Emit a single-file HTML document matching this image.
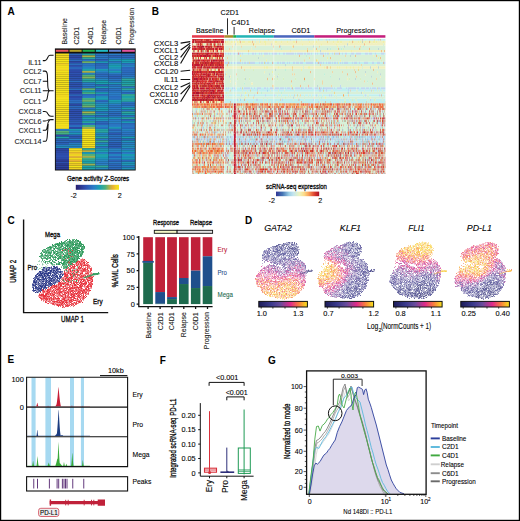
<!DOCTYPE html>
<html><head><meta charset="utf-8"><title>Figure</title><style>html,body{margin:0;padding:0;background:#fff;}svg text{font-family:"Liberation Sans",sans-serif;}</style></head><body>
<svg width="520" height="521" viewBox="0 0 520 521" font-family='"Liberation Sans", sans-serif' style="display:block">
<rect x="0" y="0" width="520" height="521" fill="#fff"/>
<text x="7.60" y="14.80" font-size="10" font-weight="bold" fill="#000">A</text>
<text x="67.20" y="44.60" font-size="7" fill="#222" textLength="26.40" lengthAdjust="spacingAndGlyphs" transform="rotate(-90 67.20 44.60)" stroke="#222" stroke-width="0.1">Baseline</text>
<text x="79.30" y="44.60" font-size="7" fill="#222" textLength="17.80" lengthAdjust="spacingAndGlyphs" transform="rotate(-90 79.30 44.60)" stroke="#222" stroke-width="0.1">C2D1</text>
<text x="92.60" y="44.60" font-size="7" fill="#222" textLength="17.80" lengthAdjust="spacingAndGlyphs" transform="rotate(-90 92.60 44.60)" stroke="#222" stroke-width="0.1">C4D1</text>
<text x="106.50" y="44.60" font-size="7" fill="#222" textLength="24.70" lengthAdjust="spacingAndGlyphs" transform="rotate(-90 106.50 44.60)" stroke="#222" stroke-width="0.1">Relapse</text>
<text x="120.80" y="44.60" font-size="7" fill="#222" textLength="17.80" lengthAdjust="spacingAndGlyphs" transform="rotate(-90 120.80 44.60)" stroke="#222" stroke-width="0.1">C6D1</text>
<text x="133.80" y="44.60" font-size="7" fill="#222" textLength="36.80" lengthAdjust="spacingAndGlyphs" transform="rotate(-90 133.80 44.60)" stroke="#222" stroke-width="0.1">Progression</text>
<rect x="54.9" y="48.4" width="80.80" height="122.10" fill="#111"/>
<rect x="55.80" y="49.8" width="12.67" height="2.0" fill="#e8555e"/>
<rect x="69.47" y="49.8" width="12.17" height="2.0" fill="#b4a02a"/>
<rect x="82.63" y="49.8" width="12.17" height="2.0" fill="#1eae52"/>
<rect x="95.80" y="49.8" width="12.17" height="2.0" fill="#22bcc6"/>
<rect x="108.97" y="49.8" width="12.17" height="2.0" fill="#6484d2"/>
<rect x="122.13" y="49.8" width="12.67" height="2.0" fill="#e2559e"/>
<rect x="55.80" y="53.50" width="13.22" height="1.98" fill="#f3df1d"/>
<rect x="68.97" y="53.50" width="13.22" height="1.98" fill="#2c66bc"/>
<rect x="82.13" y="53.50" width="13.22" height="1.98" fill="#24a4a5"/>
<rect x="95.30" y="53.50" width="13.22" height="1.98" fill="#2b74c3"/>
<rect x="108.47" y="53.50" width="13.22" height="1.98" fill="#2a7ec8"/>
<rect x="121.63" y="53.50" width="13.22" height="1.98" fill="#2b70c1"/>
<rect x="55.80" y="55.43" width="13.22" height="1.98" fill="#f2d722"/>
<rect x="68.97" y="55.43" width="13.22" height="1.98" fill="#2d47a5"/>
<rect x="82.13" y="55.43" width="13.22" height="1.98" fill="#acb04a"/>
<rect x="95.30" y="55.43" width="13.22" height="1.98" fill="#2b77c5"/>
<rect x="108.47" y="55.43" width="13.22" height="1.98" fill="#2c62ba"/>
<rect x="121.63" y="55.43" width="13.22" height="1.98" fill="#2c68bd"/>
<rect x="55.80" y="57.37" width="13.22" height="1.98" fill="#f3dc1f"/>
<rect x="68.97" y="57.37" width="13.22" height="1.98" fill="#2e4eaf"/>
<rect x="82.13" y="57.37" width="13.22" height="1.98" fill="#2da79c"/>
<rect x="95.30" y="57.37" width="13.22" height="1.98" fill="#2a78c5"/>
<rect x="108.47" y="57.37" width="13.22" height="1.98" fill="#2a79c6"/>
<rect x="121.63" y="57.37" width="13.22" height="1.98" fill="#2b70c1"/>
<rect x="55.80" y="59.30" width="13.22" height="1.98" fill="#f4e41a"/>
<rect x="68.97" y="59.30" width="13.22" height="1.98" fill="#2c6abe"/>
<rect x="82.13" y="59.30" width="13.22" height="1.98" fill="#2b75c4"/>
<rect x="95.30" y="59.30" width="13.22" height="1.98" fill="#2c64bb"/>
<rect x="108.47" y="59.30" width="13.22" height="1.98" fill="#1f96b7"/>
<rect x="121.63" y="59.30" width="13.22" height="1.98" fill="#1a9fb1"/>
<rect x="55.80" y="61.23" width="13.22" height="1.98" fill="#f4e21b"/>
<rect x="68.97" y="61.23" width="13.22" height="1.98" fill="#2e4aa9"/>
<rect x="82.13" y="61.23" width="13.22" height="1.98" fill="#6eb06c"/>
<rect x="95.30" y="61.23" width="13.22" height="1.98" fill="#1f96b7"/>
<rect x="108.47" y="61.23" width="13.22" height="1.98" fill="#2b78c5"/>
<rect x="121.63" y="61.23" width="13.22" height="1.98" fill="#1c9bb3"/>
<rect x="55.80" y="63.17" width="13.22" height="1.98" fill="#f1d126"/>
<rect x="68.97" y="63.17" width="13.22" height="1.98" fill="#2c6bbe"/>
<rect x="82.13" y="63.17" width="13.22" height="1.98" fill="#2b76c4"/>
<rect x="95.30" y="63.17" width="13.22" height="1.98" fill="#2c64bb"/>
<rect x="108.47" y="63.17" width="13.22" height="1.98" fill="#2191ba"/>
<rect x="121.63" y="63.17" width="13.22" height="1.98" fill="#2b75c4"/>
<rect x="55.80" y="65.10" width="13.22" height="1.98" fill="#f4e11c"/>
<rect x="68.97" y="65.10" width="13.22" height="1.98" fill="#2e52b1"/>
<rect x="82.13" y="65.10" width="13.22" height="1.98" fill="#2a7ac6"/>
<rect x="95.30" y="65.10" width="13.22" height="1.98" fill="#2c6bbe"/>
<rect x="108.47" y="65.10" width="13.22" height="1.98" fill="#1b9fb1"/>
<rect x="121.63" y="65.10" width="13.22" height="1.98" fill="#2784c4"/>
<rect x="55.80" y="67.03" width="13.22" height="1.98" fill="#f3de1e"/>
<rect x="68.97" y="67.03" width="13.22" height="1.98" fill="#2c69bd"/>
<rect x="82.13" y="67.03" width="13.22" height="1.98" fill="#2588c1"/>
<rect x="95.30" y="67.03" width="13.22" height="1.98" fill="#2c6bbe"/>
<rect x="108.47" y="67.03" width="13.22" height="1.98" fill="#1f95b8"/>
<rect x="121.63" y="67.03" width="13.22" height="1.98" fill="#2c69bd"/>
<rect x="55.80" y="68.97" width="13.22" height="1.98" fill="#f2d524"/>
<rect x="68.97" y="68.97" width="13.22" height="1.98" fill="#2e51b1"/>
<rect x="82.13" y="68.97" width="13.22" height="1.98" fill="#1fa2aa"/>
<rect x="95.30" y="68.97" width="13.22" height="1.98" fill="#1e98b6"/>
<rect x="108.47" y="68.97" width="13.22" height="1.98" fill="#2981c6"/>
<rect x="121.63" y="68.97" width="13.22" height="1.98" fill="#2c6cbf"/>
<rect x="55.80" y="70.90" width="13.22" height="1.98" fill="#f4e21b"/>
<rect x="68.97" y="70.90" width="13.22" height="1.98" fill="#2e49a9"/>
<rect x="82.13" y="70.90" width="13.22" height="1.98" fill="#a9b04c"/>
<rect x="95.30" y="70.90" width="13.22" height="1.98" fill="#2784c4"/>
<rect x="108.47" y="70.90" width="13.22" height="1.98" fill="#1d9ab4"/>
<rect x="121.63" y="70.90" width="13.22" height="1.98" fill="#2c6abe"/>
<rect x="55.80" y="72.83" width="13.22" height="1.98" fill="#f3d821"/>
<rect x="68.97" y="72.83" width="13.22" height="1.98" fill="#2e53b2"/>
<rect x="82.13" y="72.83" width="13.22" height="1.98" fill="#2784c4"/>
<rect x="95.30" y="72.83" width="13.22" height="1.98" fill="#2c6cbf"/>
<rect x="108.47" y="72.83" width="13.22" height="1.98" fill="#2a7bc7"/>
<rect x="121.63" y="72.83" width="13.22" height="1.98" fill="#2b6ec0"/>
<rect x="55.80" y="74.77" width="13.22" height="1.98" fill="#f4e21b"/>
<rect x="68.97" y="74.77" width="13.22" height="1.98" fill="#2e4bab"/>
<rect x="82.13" y="74.77" width="13.22" height="1.98" fill="#4db07d"/>
<rect x="95.30" y="74.77" width="13.22" height="1.98" fill="#2c6bbe"/>
<rect x="108.47" y="74.77" width="13.22" height="1.98" fill="#2c64bb"/>
<rect x="121.63" y="74.77" width="13.22" height="1.98" fill="#2b73c2"/>
<rect x="55.80" y="76.70" width="13.22" height="1.98" fill="#f3db20"/>
<rect x="68.97" y="76.70" width="13.22" height="1.98" fill="#2d56b4"/>
<rect x="82.13" y="76.70" width="13.22" height="1.98" fill="#85b05f"/>
<rect x="95.30" y="76.70" width="13.22" height="1.98" fill="#2b76c4"/>
<rect x="108.47" y="76.70" width="13.22" height="1.98" fill="#2c63ba"/>
<rect x="121.63" y="76.70" width="13.22" height="1.98" fill="#2785c3"/>
<rect x="55.80" y="78.63" width="13.22" height="1.98" fill="#f4e41a"/>
<rect x="68.97" y="78.63" width="13.22" height="1.98" fill="#2e52b1"/>
<rect x="82.13" y="78.63" width="13.22" height="1.98" fill="#29a5a0"/>
<rect x="95.30" y="78.63" width="13.22" height="1.98" fill="#2686c2"/>
<rect x="108.47" y="78.63" width="13.22" height="1.98" fill="#2b75c3"/>
<rect x="121.63" y="78.63" width="13.22" height="1.98" fill="#2fa79b"/>
<rect x="55.80" y="80.57" width="13.22" height="1.98" fill="#f4e11c"/>
<rect x="68.97" y="80.57" width="13.22" height="1.98" fill="#2b6ec0"/>
<rect x="82.13" y="80.57" width="13.22" height="1.98" fill="#28a5a2"/>
<rect x="95.30" y="80.57" width="13.22" height="1.98" fill="#1aa0b0"/>
<rect x="108.47" y="80.57" width="13.22" height="1.98" fill="#2a7ec8"/>
<rect x="121.63" y="80.57" width="13.22" height="1.98" fill="#21a2a9"/>
<rect x="55.80" y="82.50" width="13.22" height="1.98" fill="#f3de1e"/>
<rect x="68.97" y="82.50" width="13.22" height="1.98" fill="#2e51b1"/>
<rect x="82.13" y="82.50" width="13.22" height="1.98" fill="#2a7fc7"/>
<rect x="95.30" y="82.50" width="13.22" height="1.98" fill="#1aa0b0"/>
<rect x="108.47" y="82.50" width="13.22" height="1.98" fill="#1f96b7"/>
<rect x="121.63" y="82.50" width="13.22" height="1.98" fill="#21a2a9"/>
<rect x="55.80" y="84.43" width="13.22" height="1.98" fill="#f4e21b"/>
<rect x="68.97" y="84.43" width="13.22" height="1.98" fill="#2e54b2"/>
<rect x="82.13" y="84.43" width="13.22" height="1.98" fill="#2a7ec8"/>
<rect x="95.30" y="84.43" width="13.22" height="1.98" fill="#2c6abe"/>
<rect x="108.47" y="84.43" width="13.22" height="1.98" fill="#2b73c3"/>
<rect x="121.63" y="84.43" width="13.22" height="1.98" fill="#2fa79a"/>
<rect x="55.80" y="86.37" width="13.22" height="1.98" fill="#f3da20"/>
<rect x="68.97" y="86.37" width="13.22" height="1.98" fill="#2e52b2"/>
<rect x="82.13" y="86.37" width="13.22" height="1.98" fill="#2b74c3"/>
<rect x="95.30" y="86.37" width="13.22" height="1.98" fill="#1c9cb3"/>
<rect x="108.47" y="86.37" width="13.22" height="1.98" fill="#2882c5"/>
<rect x="121.63" y="86.37" width="13.22" height="1.98" fill="#2a7cc7"/>
<rect x="55.80" y="88.30" width="13.22" height="1.98" fill="#f3de1e"/>
<rect x="68.97" y="88.30" width="13.22" height="1.98" fill="#2b6ec0"/>
<rect x="82.13" y="88.30" width="13.22" height="1.98" fill="#63b071"/>
<rect x="95.30" y="88.30" width="13.22" height="1.98" fill="#2b6dbf"/>
<rect x="108.47" y="88.30" width="13.22" height="1.98" fill="#2b73c3"/>
<rect x="121.63" y="88.30" width="13.22" height="1.98" fill="#2ca69d"/>
<rect x="55.80" y="90.23" width="13.22" height="1.98" fill="#f4e31a"/>
<rect x="68.97" y="90.23" width="13.22" height="1.98" fill="#2e49a8"/>
<rect x="82.13" y="90.23" width="13.22" height="1.98" fill="#1a9fb0"/>
<rect x="95.30" y="90.23" width="13.22" height="1.98" fill="#2b70c1"/>
<rect x="108.47" y="90.23" width="13.22" height="1.98" fill="#2b73c2"/>
<rect x="121.63" y="90.23" width="13.22" height="1.98" fill="#2883c5"/>
<rect x="55.80" y="92.17" width="13.22" height="1.98" fill="#f3de1e"/>
<rect x="68.97" y="92.17" width="13.22" height="1.98" fill="#2d47a5"/>
<rect x="82.13" y="92.17" width="13.22" height="1.98" fill="#43ae86"/>
<rect x="95.30" y="92.17" width="13.22" height="1.98" fill="#1d9ab4"/>
<rect x="108.47" y="92.17" width="13.22" height="1.98" fill="#2a7ec8"/>
<rect x="121.63" y="92.17" width="13.22" height="1.98" fill="#2c6bbe"/>
<rect x="55.80" y="94.10" width="13.22" height="1.98" fill="#f3da20"/>
<rect x="68.97" y="94.10" width="13.22" height="1.98" fill="#2c62b9"/>
<rect x="82.13" y="94.10" width="13.22" height="1.98" fill="#2b71c1"/>
<rect x="95.30" y="94.10" width="13.22" height="1.98" fill="#2b72c2"/>
<rect x="108.47" y="94.10" width="13.22" height="1.98" fill="#2a79c5"/>
<rect x="121.63" y="94.10" width="13.22" height="1.98" fill="#31a898"/>
<rect x="55.80" y="96.03" width="13.22" height="1.98" fill="#f3dc1f"/>
<rect x="68.97" y="96.03" width="13.22" height="1.98" fill="#2e49a8"/>
<rect x="82.13" y="96.03" width="13.22" height="1.98" fill="#2a7bc6"/>
<rect x="95.30" y="96.03" width="13.22" height="1.98" fill="#2191ba"/>
<rect x="108.47" y="96.03" width="13.22" height="1.98" fill="#2b6ec0"/>
<rect x="121.63" y="96.03" width="13.22" height="1.98" fill="#1ea2ab"/>
<rect x="55.80" y="97.97" width="13.22" height="1.98" fill="#f4e11c"/>
<rect x="68.97" y="97.97" width="13.22" height="1.98" fill="#2e54b3"/>
<rect x="82.13" y="97.97" width="13.22" height="1.98" fill="#45af84"/>
<rect x="95.30" y="97.97" width="13.22" height="1.98" fill="#1c9db2"/>
<rect x="108.47" y="97.97" width="13.22" height="1.98" fill="#2b72c2"/>
<rect x="121.63" y="97.97" width="13.22" height="1.98" fill="#2fa79a"/>
<rect x="55.80" y="99.90" width="13.22" height="1.98" fill="#f3e01d"/>
<rect x="68.97" y="99.90" width="13.22" height="1.98" fill="#2c6cbf"/>
<rect x="82.13" y="99.90" width="13.22" height="1.98" fill="#6db06c"/>
<rect x="95.30" y="99.90" width="13.22" height="1.98" fill="#2c69bd"/>
<rect x="108.47" y="99.90" width="13.22" height="1.98" fill="#1b9fb1"/>
<rect x="121.63" y="99.90" width="13.22" height="1.98" fill="#27a4a3"/>
<rect x="55.80" y="101.83" width="13.22" height="1.98" fill="#f4e31b"/>
<rect x="68.97" y="101.83" width="13.22" height="1.98" fill="#2b6fc1"/>
<rect x="82.13" y="101.83" width="13.22" height="1.98" fill="#2ba69e"/>
<rect x="95.30" y="101.83" width="13.22" height="1.98" fill="#2882c5"/>
<rect x="108.47" y="101.83" width="13.22" height="1.98" fill="#1f95b8"/>
<rect x="121.63" y="101.83" width="13.22" height="1.98" fill="#2b75c3"/>
<rect x="55.80" y="103.77" width="13.22" height="1.98" fill="#f4e21b"/>
<rect x="68.97" y="103.77" width="13.22" height="1.98" fill="#2d47a5"/>
<rect x="82.13" y="103.77" width="13.22" height="1.98" fill="#44ae85"/>
<rect x="95.30" y="103.77" width="13.22" height="1.98" fill="#2191ba"/>
<rect x="108.47" y="103.77" width="13.22" height="1.98" fill="#2a7ec8"/>
<rect x="121.63" y="103.77" width="13.22" height="1.98" fill="#2c6bbe"/>
<rect x="55.80" y="105.70" width="13.22" height="1.98" fill="#f4e11c"/>
<rect x="68.97" y="105.70" width="13.22" height="1.98" fill="#2c6abe"/>
<rect x="82.13" y="105.70" width="13.22" height="1.98" fill="#71b06a"/>
<rect x="95.30" y="105.70" width="13.22" height="1.98" fill="#228fbc"/>
<rect x="108.47" y="105.70" width="13.22" height="1.98" fill="#2b74c3"/>
<rect x="121.63" y="105.70" width="13.22" height="1.98" fill="#2a7fc8"/>
<rect x="55.80" y="107.63" width="13.22" height="1.98" fill="#f3df1d"/>
<rect x="68.97" y="107.63" width="13.22" height="1.98" fill="#2c68bd"/>
<rect x="82.13" y="107.63" width="13.22" height="1.98" fill="#2a79c5"/>
<rect x="95.30" y="107.63" width="13.22" height="1.98" fill="#1ba0af"/>
<rect x="108.47" y="107.63" width="13.22" height="1.98" fill="#2980c7"/>
<rect x="121.63" y="107.63" width="13.22" height="1.98" fill="#1fa2ab"/>
<rect x="55.80" y="109.57" width="13.22" height="1.98" fill="#f3dc1f"/>
<rect x="68.97" y="109.57" width="13.22" height="1.98" fill="#2e4fb0"/>
<rect x="82.13" y="109.57" width="13.22" height="1.98" fill="#1d99b5"/>
<rect x="95.30" y="109.57" width="13.22" height="1.98" fill="#1e98b5"/>
<rect x="108.47" y="109.57" width="13.22" height="1.98" fill="#2a7ec8"/>
<rect x="121.63" y="109.57" width="13.22" height="1.98" fill="#2b77c4"/>
<rect x="55.80" y="111.50" width="13.22" height="1.98" fill="#f3da20"/>
<rect x="68.97" y="111.50" width="13.22" height="1.98" fill="#2e4dae"/>
<rect x="82.13" y="111.50" width="13.22" height="1.98" fill="#a6b04d"/>
<rect x="95.30" y="111.50" width="13.22" height="1.98" fill="#2b72c2"/>
<rect x="108.47" y="111.50" width="13.22" height="1.98" fill="#2b71c1"/>
<rect x="121.63" y="111.50" width="13.22" height="1.98" fill="#2fa79b"/>
<rect x="55.80" y="113.43" width="13.22" height="1.98" fill="#f3dd1e"/>
<rect x="68.97" y="113.43" width="13.22" height="1.98" fill="#2e51b1"/>
<rect x="82.13" y="113.43" width="13.22" height="1.98" fill="#46af82"/>
<rect x="95.30" y="113.43" width="13.22" height="1.98" fill="#228ebd"/>
<rect x="108.47" y="113.43" width="13.22" height="1.98" fill="#2c6abe"/>
<rect x="121.63" y="113.43" width="13.22" height="1.98" fill="#1b9db2"/>
<rect x="55.80" y="115.37" width="13.22" height="1.98" fill="#f4e01c"/>
<rect x="68.97" y="115.37" width="13.22" height="1.98" fill="#2e53b2"/>
<rect x="82.13" y="115.37" width="13.22" height="1.98" fill="#2a7cc7"/>
<rect x="95.30" y="115.37" width="13.22" height="1.98" fill="#2c69bd"/>
<rect x="108.47" y="115.37" width="13.22" height="1.98" fill="#2b71c1"/>
<rect x="121.63" y="115.37" width="13.22" height="1.98" fill="#2b74c3"/>
<rect x="55.80" y="117.30" width="13.22" height="1.98" fill="#f3db1f"/>
<rect x="68.97" y="117.30" width="13.22" height="1.98" fill="#2e51b1"/>
<rect x="82.13" y="117.30" width="13.22" height="1.98" fill="#22a3a8"/>
<rect x="95.30" y="117.30" width="13.22" height="1.98" fill="#1d9ab4"/>
<rect x="108.47" y="117.30" width="13.22" height="1.98" fill="#2093b9"/>
<rect x="121.63" y="117.30" width="13.22" height="1.98" fill="#2ba69f"/>
<rect x="55.80" y="119.23" width="13.22" height="1.98" fill="#f3dd1e"/>
<rect x="68.97" y="119.23" width="13.22" height="1.98" fill="#2d57b4"/>
<rect x="82.13" y="119.23" width="13.22" height="1.98" fill="#2588c1"/>
<rect x="95.30" y="119.23" width="13.22" height="1.98" fill="#2190bb"/>
<rect x="108.47" y="119.23" width="13.22" height="1.98" fill="#2a7bc7"/>
<rect x="121.63" y="119.23" width="13.22" height="1.98" fill="#2c6abe"/>
<rect x="55.80" y="121.17" width="13.22" height="1.98" fill="#f3de1e"/>
<rect x="68.97" y="121.17" width="13.22" height="1.98" fill="#2d5fb8"/>
<rect x="82.13" y="121.17" width="13.22" height="1.98" fill="#28a5a2"/>
<rect x="95.30" y="121.17" width="13.22" height="1.98" fill="#2c69bd"/>
<rect x="108.47" y="121.17" width="13.22" height="1.98" fill="#2882c5"/>
<rect x="121.63" y="121.17" width="13.22" height="1.98" fill="#1e97b7"/>
<rect x="55.80" y="123.10" width="13.22" height="1.98" fill="#f4e21c"/>
<rect x="68.97" y="123.10" width="13.22" height="1.98" fill="#2e52b2"/>
<rect x="82.13" y="123.10" width="13.22" height="1.98" fill="#2b72c2"/>
<rect x="95.30" y="123.10" width="13.22" height="1.98" fill="#2c63ba"/>
<rect x="108.47" y="123.10" width="13.22" height="1.98" fill="#2b74c3"/>
<rect x="121.63" y="123.10" width="13.22" height="1.98" fill="#2c6bbe"/>
<rect x="55.80" y="125.03" width="13.22" height="1.98" fill="#f3dc1f"/>
<rect x="68.97" y="125.03" width="13.22" height="1.98" fill="#2b70c1"/>
<rect x="82.13" y="125.03" width="13.22" height="1.98" fill="#45af83"/>
<rect x="95.30" y="125.03" width="13.22" height="1.98" fill="#2784c4"/>
<rect x="108.47" y="125.03" width="13.22" height="1.98" fill="#2a7dc7"/>
<rect x="121.63" y="125.03" width="13.22" height="1.98" fill="#2b76c4"/>
<rect x="55.80" y="126.97" width="13.22" height="1.98" fill="#f3de1e"/>
<rect x="68.97" y="126.97" width="13.22" height="1.98" fill="#2d46a4"/>
<rect x="82.13" y="126.97" width="13.22" height="1.98" fill="#9db052"/>
<rect x="95.30" y="126.97" width="13.22" height="1.98" fill="#2b72c2"/>
<rect x="108.47" y="126.97" width="13.22" height="1.98" fill="#1f96b7"/>
<rect x="121.63" y="126.97" width="13.22" height="1.98" fill="#2c6cbf"/>
<rect x="55.80" y="128.90" width="13.22" height="1.98" fill="#2a7ac6"/>
<rect x="68.97" y="128.90" width="13.22" height="1.98" fill="#1e98b5"/>
<rect x="82.13" y="128.90" width="13.22" height="1.98" fill="#f3e01d"/>
<rect x="95.30" y="128.90" width="13.22" height="1.98" fill="#23a3a7"/>
<rect x="108.47" y="128.90" width="13.22" height="1.98" fill="#2c66bc"/>
<rect x="121.63" y="128.90" width="13.22" height="1.98" fill="#2686c2"/>
<rect x="55.80" y="130.83" width="13.22" height="1.98" fill="#57b078"/>
<rect x="68.97" y="130.83" width="13.22" height="1.98" fill="#2883c5"/>
<rect x="82.13" y="130.83" width="13.22" height="1.98" fill="#f4e31b"/>
<rect x="95.30" y="130.83" width="13.22" height="1.98" fill="#29a5a0"/>
<rect x="108.47" y="130.83" width="13.22" height="1.98" fill="#2b77c4"/>
<rect x="121.63" y="130.83" width="13.22" height="1.98" fill="#2a7ac6"/>
<rect x="55.80" y="132.77" width="13.22" height="1.98" fill="#42ae86"/>
<rect x="68.97" y="132.77" width="13.22" height="1.98" fill="#1e97b6"/>
<rect x="82.13" y="132.77" width="13.22" height="1.98" fill="#f4e11c"/>
<rect x="95.30" y="132.77" width="13.22" height="1.98" fill="#2686c2"/>
<rect x="108.47" y="132.77" width="13.22" height="1.98" fill="#2d59b5"/>
<rect x="121.63" y="132.77" width="13.22" height="1.98" fill="#2b76c4"/>
<rect x="55.80" y="134.70" width="13.22" height="1.98" fill="#2e4baa"/>
<rect x="68.97" y="134.70" width="13.22" height="1.98" fill="#2c61b9"/>
<rect x="82.13" y="134.70" width="13.22" height="1.98" fill="#f3df1d"/>
<rect x="95.30" y="134.70" width="13.22" height="1.98" fill="#238cbe"/>
<rect x="108.47" y="134.70" width="13.22" height="1.98" fill="#2b71c1"/>
<rect x="121.63" y="134.70" width="13.22" height="1.98" fill="#2b76c4"/>
<rect x="55.80" y="136.63" width="13.22" height="1.98" fill="#21a3a8"/>
<rect x="68.97" y="136.63" width="13.22" height="1.98" fill="#2d58b5"/>
<rect x="82.13" y="136.63" width="13.22" height="1.98" fill="#f4e41a"/>
<rect x="95.30" y="136.63" width="13.22" height="1.98" fill="#26a4a3"/>
<rect x="108.47" y="136.63" width="13.22" height="1.98" fill="#2b74c3"/>
<rect x="121.63" y="136.63" width="13.22" height="1.98" fill="#1b9fb1"/>
<rect x="55.80" y="138.57" width="13.22" height="1.98" fill="#2d60b9"/>
<rect x="68.97" y="138.57" width="13.22" height="1.98" fill="#2883c5"/>
<rect x="82.13" y="138.57" width="13.22" height="1.98" fill="#f3dc1f"/>
<rect x="95.30" y="138.57" width="13.22" height="1.98" fill="#2a79c6"/>
<rect x="108.47" y="138.57" width="13.22" height="1.98" fill="#2c65bb"/>
<rect x="121.63" y="138.57" width="13.22" height="1.98" fill="#2c68bd"/>
<rect x="55.80" y="140.50" width="13.22" height="1.98" fill="#2c6abe"/>
<rect x="68.97" y="140.50" width="13.22" height="1.98" fill="#2d5cb7"/>
<rect x="82.13" y="140.50" width="13.22" height="1.98" fill="#f4e41a"/>
<rect x="95.30" y="140.50" width="13.22" height="1.98" fill="#33a996"/>
<rect x="108.47" y="140.50" width="13.22" height="1.98" fill="#2b70c1"/>
<rect x="121.63" y="140.50" width="13.22" height="1.98" fill="#2094b9"/>
<rect x="55.80" y="142.43" width="13.22" height="1.98" fill="#2d5fb8"/>
<rect x="68.97" y="142.43" width="13.22" height="1.98" fill="#2a7bc6"/>
<rect x="82.13" y="142.43" width="13.22" height="1.98" fill="#f4e31b"/>
<rect x="95.30" y="142.43" width="13.22" height="1.98" fill="#2980c7"/>
<rect x="108.47" y="142.43" width="13.22" height="1.98" fill="#2d5db7"/>
<rect x="121.63" y="142.43" width="13.22" height="1.98" fill="#2a7fc7"/>
<rect x="55.80" y="144.37" width="13.22" height="1.98" fill="#2a7dc8"/>
<rect x="68.97" y="144.37" width="13.22" height="1.98" fill="#2589c0"/>
<rect x="82.13" y="144.37" width="13.22" height="1.98" fill="#f3de1e"/>
<rect x="95.30" y="144.37" width="13.22" height="1.98" fill="#1b9eb1"/>
<rect x="108.47" y="144.37" width="13.22" height="1.98" fill="#2c61b9"/>
<rect x="121.63" y="144.37" width="13.22" height="1.98" fill="#2589c0"/>
<rect x="55.80" y="146.30" width="13.22" height="1.98" fill="#228fbc"/>
<rect x="68.97" y="146.30" width="13.22" height="1.98" fill="#2784c3"/>
<rect x="82.13" y="146.30" width="13.22" height="1.98" fill="#f2d622"/>
<rect x="95.30" y="146.30" width="13.22" height="1.98" fill="#2b76c4"/>
<rect x="108.47" y="146.30" width="13.22" height="1.98" fill="#2d5cb7"/>
<rect x="121.63" y="146.30" width="13.22" height="1.98" fill="#2290bb"/>
<rect x="55.80" y="148.23" width="13.22" height="1.98" fill="#2d45a2"/>
<rect x="68.97" y="148.23" width="13.22" height="1.98" fill="#f3df1d"/>
<rect x="82.13" y="148.23" width="13.22" height="1.98" fill="#32a897"/>
<rect x="95.30" y="148.23" width="13.22" height="1.98" fill="#1f95b8"/>
<rect x="108.47" y="148.23" width="13.22" height="1.98" fill="#2882c5"/>
<rect x="121.63" y="148.23" width="13.22" height="1.98" fill="#2a7bc6"/>
<rect x="55.80" y="150.17" width="13.22" height="1.98" fill="#2d48a6"/>
<rect x="68.97" y="150.17" width="13.22" height="1.98" fill="#f2d623"/>
<rect x="82.13" y="150.17" width="13.22" height="1.98" fill="#b6b046"/>
<rect x="95.30" y="150.17" width="13.22" height="1.98" fill="#1ca1ae"/>
<rect x="108.47" y="150.17" width="13.22" height="1.98" fill="#2785c3"/>
<rect x="121.63" y="150.17" width="13.22" height="1.98" fill="#2094b8"/>
<rect x="55.80" y="152.10" width="13.22" height="1.98" fill="#2e4cab"/>
<rect x="68.97" y="152.10" width="13.22" height="1.98" fill="#edbf2d"/>
<rect x="82.13" y="152.10" width="13.22" height="1.98" fill="#1d99b5"/>
<rect x="95.30" y="152.10" width="13.22" height="1.98" fill="#2784c4"/>
<rect x="108.47" y="152.10" width="13.22" height="1.98" fill="#2c62ba"/>
<rect x="121.63" y="152.10" width="13.22" height="1.98" fill="#2a7cc7"/>
<rect x="55.80" y="154.03" width="13.22" height="1.98" fill="#2e4eae"/>
<rect x="68.97" y="154.03" width="13.22" height="1.98" fill="#f2d722"/>
<rect x="82.13" y="154.03" width="13.22" height="1.98" fill="#58b077"/>
<rect x="95.30" y="154.03" width="13.22" height="1.98" fill="#1fa2ab"/>
<rect x="108.47" y="154.03" width="13.22" height="1.98" fill="#2686c3"/>
<rect x="121.63" y="154.03" width="13.22" height="1.98" fill="#1b9db2"/>
<rect x="55.80" y="155.97" width="13.22" height="1.98" fill="#2e50b0"/>
<rect x="68.97" y="155.97" width="13.22" height="1.98" fill="#e2b037"/>
<rect x="82.13" y="155.97" width="13.22" height="1.98" fill="#9cb053"/>
<rect x="95.30" y="155.97" width="13.22" height="1.98" fill="#1b9eb1"/>
<rect x="108.47" y="155.97" width="13.22" height="1.98" fill="#2c68bd"/>
<rect x="121.63" y="155.97" width="13.22" height="1.98" fill="#248bbf"/>
<rect x="55.80" y="157.90" width="13.22" height="1.98" fill="#2e4aaa"/>
<rect x="68.97" y="157.90" width="13.22" height="1.98" fill="#f3dd1e"/>
<rect x="82.13" y="157.90" width="13.22" height="1.98" fill="#3fad8a"/>
<rect x="95.30" y="157.90" width="13.22" height="1.98" fill="#2092ba"/>
<rect x="108.47" y="157.90" width="13.22" height="1.98" fill="#2882c5"/>
<rect x="121.63" y="157.90" width="13.22" height="1.98" fill="#1e98b6"/>
<rect x="55.80" y="159.83" width="13.22" height="1.98" fill="#2c3a94"/>
<rect x="68.97" y="159.83" width="13.22" height="1.98" fill="#eab134"/>
<rect x="82.13" y="159.83" width="13.22" height="1.98" fill="#23a3a7"/>
<rect x="95.30" y="159.83" width="13.22" height="1.98" fill="#2785c3"/>
<rect x="108.47" y="159.83" width="13.22" height="1.98" fill="#2d60b9"/>
<rect x="121.63" y="159.83" width="13.22" height="1.98" fill="#2c67bc"/>
<rect x="55.80" y="161.77" width="13.22" height="1.98" fill="#2e4eae"/>
<rect x="68.97" y="161.77" width="13.22" height="1.98" fill="#f3dd1e"/>
<rect x="82.13" y="161.77" width="13.22" height="1.98" fill="#1da1ad"/>
<rect x="95.30" y="161.77" width="13.22" height="1.98" fill="#2a7ec8"/>
<rect x="108.47" y="161.77" width="13.22" height="1.98" fill="#2a7bc6"/>
<rect x="121.63" y="161.77" width="13.22" height="1.98" fill="#1f95b7"/>
<rect x="55.80" y="163.70" width="13.22" height="1.98" fill="#2c3b95"/>
<rect x="68.97" y="163.70" width="13.22" height="1.98" fill="#efc72a"/>
<rect x="82.13" y="163.70" width="13.22" height="1.98" fill="#9ab054"/>
<rect x="95.30" y="163.70" width="13.22" height="1.98" fill="#2981c6"/>
<rect x="108.47" y="163.70" width="13.22" height="1.98" fill="#2c67bc"/>
<rect x="121.63" y="163.70" width="13.22" height="1.98" fill="#2094b9"/>
<rect x="55.80" y="165.63" width="13.22" height="1.98" fill="#2d44a1"/>
<rect x="68.97" y="165.63" width="13.22" height="1.98" fill="#f4e41a"/>
<rect x="82.13" y="165.63" width="13.22" height="1.98" fill="#20a2aa"/>
<rect x="95.30" y="165.63" width="13.22" height="1.98" fill="#2fa79a"/>
<rect x="108.47" y="165.63" width="13.22" height="1.98" fill="#2b6ec0"/>
<rect x="121.63" y="165.63" width="13.22" height="1.98" fill="#2b77c5"/>
<rect x="55.80" y="167.57" width="13.22" height="1.98" fill="#2c3c96"/>
<rect x="68.97" y="167.57" width="13.22" height="1.98" fill="#f2d225"/>
<rect x="82.13" y="167.57" width="13.22" height="1.98" fill="#20a2a9"/>
<rect x="95.30" y="167.57" width="13.22" height="1.98" fill="#2589c0"/>
<rect x="108.47" y="167.57" width="13.22" height="1.98" fill="#2c69bd"/>
<rect x="121.63" y="167.57" width="13.22" height="1.98" fill="#2191ba"/>
<text x="41.60" y="64.50" font-size="7.2" text-anchor="end" fill="#222" stroke="#222" stroke-width="0.1">IL11</text>
<text x="41.60" y="73.70" font-size="7.2" text-anchor="end" fill="#222" stroke="#222" stroke-width="0.1">CCL2</text>
<text x="41.60" y="83.90" font-size="7.2" text-anchor="end" fill="#222" stroke="#222" stroke-width="0.1">CCL7</text>
<text x="41.60" y="93.30" font-size="7.2" text-anchor="end" fill="#222" stroke="#222" stroke-width="0.1">CCL11</text>
<text x="41.60" y="103.50" font-size="7.2" text-anchor="end" fill="#222" stroke="#222" stroke-width="0.1">CCL1</text>
<text x="41.60" y="114.00" font-size="7.2" text-anchor="end" fill="#222" stroke="#222" stroke-width="0.1">CXCL8</text>
<text x="41.60" y="123.60" font-size="7.2" text-anchor="end" fill="#222" stroke="#222" stroke-width="0.1">CXCL6</text>
<text x="41.60" y="132.80" font-size="7.2" text-anchor="end" fill="#222" stroke="#222" stroke-width="0.1">CXCL1</text>
<text x="41.60" y="143.80" font-size="7.2" text-anchor="end" fill="#222" stroke="#222" stroke-width="0.1">CXCL14</text>
<path d="M42.8 60.6 H45 Q46.5 60.6 47.5 58 Q48.5 55.3 50 55.3 H53.6 M42.8 71.1 H45 Q47 71.1 47.4 75 L47.8 86 Q48 90.7 50 90.7 H53.6 M50 90.7 Q48 90.7 47.8 95 L47.4 97 Q47 100.9 45 100.9 H42.8 M42.8 81.3 H47.6 M42.8 90.7 H50 M42.8 111.4 H45 Q47 111.4 48 114 Q49 116.3 51 116.3 H53.6 M42.8 121 H45 Q47 121 48 120 Q49 119.6 51 119.6 H53.6 M42.8 130.2 H45.5 Q46.8 130.2 47.2 127 L48 123 Q48.5 120.5 50 120.3 M42.8 141.2 H45.5 Q46.8 141.2 47.2 137 L48.2 124 " fill="none" stroke="#111" stroke-width="1.05"/>
<defs><linearGradient id="gPar" x1="0" x2="1" y1="0" y2="0"><stop offset="0" stop-color="#2a1e6e"/><stop offset="0.22" stop-color="#2e4fb0"/><stop offset="0.42" stop-color="#2a7ec8"/><stop offset="0.55" stop-color="#1aa0b0"/><stop offset="0.68" stop-color="#48b080"/><stop offset="0.78" stop-color="#b0b048"/><stop offset="0.86" stop-color="#eab034"/><stop offset="0.93" stop-color="#f2d424"/><stop offset="1" stop-color="#f4e41a"/></linearGradient></defs>
<rect x="75.8" y="184.8" width="43.2" height="5" fill="url(#gPar)"/>
<text x="67.00" y="180.80" font-size="7.9" textLength="62.20" lengthAdjust="spacingAndGlyphs" stroke="#111" stroke-width="0.32">Gene activity Z-Scores</text>
<text x="70.40" y="198.20" font-size="7.2" stroke="#111" stroke-width="0.1">-2</text>
<text x="117.80" y="198.20" font-size="7.2" stroke="#111" stroke-width="0.1">2</text>
<text x="151.70" y="14.70" font-size="10" font-weight="bold" fill="#000">B</text>
<rect x="192.00" y="35.2" width="32.40" height="2.5" fill="#e63a4c"/>
<rect x="224.40" y="35.2" width="8.80" height="2.5" fill="#a88e2c"/>
<rect x="233.20" y="35.2" width="2.90" height="2.5" fill="#1fb045"/>
<rect x="236.10" y="35.2" width="37.70" height="2.5" fill="#22b5b5"/>
<rect x="273.80" y="35.2" width="40.50" height="2.5" fill="#4a66be"/>
<rect x="314.30" y="35.2" width="71.10" height="2.5" fill="#c41e7c"/>
<text x="195.90" y="33.30" font-size="7.9" textLength="27.50" lengthAdjust="spacingAndGlyphs" stroke="#111" stroke-width="0.1">Baseline</text>
<text x="220.60" y="14.90" font-size="7.6" textLength="18.40" lengthAdjust="spacingAndGlyphs" stroke="#111" stroke-width="0.1">C2D1</text>
<text x="231.30" y="24.70" font-size="7.6" textLength="18.40" lengthAdjust="spacingAndGlyphs" stroke="#111" stroke-width="0.1">C4D1</text>
<text x="248.80" y="33.30" font-size="7.9" textLength="26.20" lengthAdjust="spacingAndGlyphs" stroke="#111" stroke-width="0.1">Relapse</text>
<text x="291.50" y="33.30" font-size="7.9" textLength="19.00" lengthAdjust="spacingAndGlyphs" stroke="#111" stroke-width="0.1">C6D1</text>
<text x="336.20" y="33.30" font-size="7.9" textLength="38.80" lengthAdjust="spacingAndGlyphs" stroke="#111" stroke-width="0.1">Progression</text>
<path d="M227.5 18.3V34.6M234.1 26.9V34.6" stroke="#111" stroke-width="0.9"/>
<defs><filter id="bl1" x="0" y="0" width="1" height="1"><feGaussianBlur stdDeviation="0.45"/></filter></defs>
<g filter="url(#bl1)">
<g transform="scale(.1)" fill="none" stroke-width="23.4">
<path d="M1920 397h10M2050 397h10M2090 397h20M2180 420h10M2070 443h10M2100 443h20M1920 466h10M2150 466h20M2220 466h20M1970 489h10M2220 489h20M1980 512h10M2080 512h10M2040 536h10M2130 536h10M2220 536h10M1960 559h10M2140 559h10M2180 559h10M2220 559h10M1980 582h10M2000 582h10M2090 582h10M2170 582h10M2190 582h10M1950 605h10M2060 605h10M2120 605h10M1950 628h10M2010 628h10M2090 628h10M2220 628h10M2000 651h10M2050 651h10M2090 651h10M2060 675h10M2110 675h10M1990 698h10M2070 698h10M2180 698h20M2070 721h20M2230 721h10M2020 744h10M2120 744h20M2190 744h10M2220 744h10M1970 767h10M2130 767h10M2050 790h10M2140 790h10M2180 790h10M1950 814h10M2040 814h10M2200 814h10M1930 837h10M1970 837h10M2030 837h10M2060 837h10M2110 837h10M2170 837h10M2210 837h10M2130 860h20M2100 883h10M2150 883h10M1960 906h10M1980 906h10M2150 906h10M1920 929h10M2040 929h10M2070 929h10M2180 929h10M2230 929h10M1940 953h10M2000 953h10M2050 953h20M1920 976h10M1950 976h10M1990 976h10M2010 976h10M2150 999h20M2070 1022h10M2130 1022h10M2690 1068h10M3580 1092h10M2540 1138h10M2700 1138h10M2950 1138h10M3160 1138h10M3560 1138h10M3020 1161h20M2390 1184h10M2530 1184h10M2690 1184h10M2860 1184h10M2880 1184h10M3370 1184h10M3440 1184h10M3670 1184h10M3800 1184h10M3820 1184h10M3820 1208h10M3160 1231h10M2710 1300h10M2920 1300h10M2570 1323h10M2750 1323h10M2880 1323h10M3090 1323h10M3150 1323h10M3230 1323h10M3320 1323h10M3360 1323h10M2630 1347h10M2670 1347h10M2910 1347h10M3120 1347h10M3400 1347h20M3560 1347h10M3670 1347h10M2130 1486h10M2710 1486h10M3120 1486h10M3330 1486h10M3560 1486h10M3020 1509h10M3100 1509h20M3630 1509h10M2490 1532h10M2640 1532h10M2730 1532h10M3290 1532h10M3350 1532h10M3640 1532h10M3810 1532h10M2450 1555h10M2680 1578h10M2780 1578h10M3400 1578h10M2570 1601h10M3090 1601h10M3290 1601h10M2040 1625h10M2470 1625h10M2550 1625h10M2620 1625h10M3000 1625h20M3120 1625h10M3370 1625h10M3750 1625h10M2480 1648h10M3620 1648h10M2380 1671h20M2800 1671h10M3300 1671h10M3830 1671h10M3850 1671h4M2360 1694h10M2460 1694h20M2600 1694h30M2660 1694h10M2870 1694h10M2920 1694h10M3230 1694h10M3580 1694h10M2150 1717h10M2840 1717h10M3200 1717h10M3280 1717h10M3530 1717h10M3550 1717h20M3600 1717h10M3830 1717h10" stroke="#d84830"/>
<path d="M1930 397h10M2150 397h10M1930 420h10M2100 420h10M2140 420h10M2170 420h10M2210 420h30M1940 466h10M1980 466h10M2010 466h10M2060 466h10M2180 466h10M2200 466h10M1950 489h10M2010 489h10M2130 489h10M2160 489h10M2190 489h10M2210 489h10M1920 536h10M2070 536h20M2110 536h10M1970 559h10M2000 559h20M2030 559h20M2070 559h10M2090 559h10M2150 559h10M2170 559h10M2200 559h10M1980 605h20M2030 605h10M2110 605h10M2140 605h10M2160 605h10M2200 605h10M2230 605h10M2050 628h10M2110 628h20M1920 651h10M1950 651h40M2010 651h20M2060 651h10M2100 651h10M2190 651h10M2010 675h10M2070 675h10M2090 675h10M2120 675h10M2150 675h20M2230 675h10M1920 721h10M1970 721h10M2000 721h10M2090 721h10M2130 721h20M2190 721h10M2210 721h10M1920 744h10M2030 744h20M2080 744h10M2140 744h10M2010 767h10M2080 767h10M2200 767h20M1950 790h10M1970 790h10M2000 790h20M2040 790h10M2120 790h10M2230 790h10M1920 814h10M1970 814h10M2100 814h20M1980 837h10M2070 837h10M2090 837h10M1940 860h10M1970 860h10M2110 860h10M2170 860h10M1940 883h10M1970 883h20M2000 883h40M2060 883h30M2140 883h10M2200 883h10M2230 883h10M2040 906h10M2100 906h10M2130 906h10M2180 906h20M2220 906h10M1930 929h20M2020 929h10M2130 929h10M1920 953h10M1970 953h20M2080 953h10M2110 953h10M2230 953h10M2060 976h10M2080 976h20M2180 976h10M2210 976h10M2230 976h10M1930 999h10M1950 999h10M2000 999h20M2110 999h10M2350 1045h10M2340 1068h10M2350 1092h10M2340 1115h10M2350 1138h10M2340 1161h20M2340 1184h20M2350 1231h10M2350 1323h10M2340 1347h20M2340 1370h20M2340 1393h10M2340 1416h10M2340 1439h20M2340 1462h20M2350 1486h10M2340 1555h20M2350 1601h10M2350 1625h10M2340 1648h20M2340 1740h10" stroke="#c01830"/>
<path d="M1940 397h20M1970 397h10M2010 397h10M2060 397h30M2130 397h10M2160 397h10M2180 397h20M2210 397h10M2230 397h10M1950 420h20M1980 420h50M2040 420h60M2110 420h10M2150 420h10M2000 443h10M2220 443h10M1970 466h10M1990 466h20M2080 466h20M2110 466h10M1940 489h10M1990 489h20M2030 489h20M2070 489h50M2150 489h10M1930 536h20M1960 536h10M1980 536h10M2030 536h10M2050 536h20M2120 536h10M2170 536h20M2230 536h10M1920 559h10M1950 559h10M2060 559h10M2080 559h10M2100 559h10M2190 559h10M2210 559h10M2230 559h10M1930 605h20M1960 605h20M2070 605h10M2150 605h10M2190 605h10M2210 605h20M1930 628h10M1960 628h10M1980 628h10M2000 628h10M2020 628h20M2060 628h30M2130 628h10M2170 628h30M2210 628h10M1940 651h10M1990 651h10M2040 651h10M2110 651h30M2150 651h10M2170 651h10M2230 651h10M1940 675h20M2000 675h10M2040 675h20M2080 675h10M2170 675h20M2210 675h10M1930 698h10M1940 721h20M1980 721h10M2010 721h10M2060 721h10M2110 721h20M2160 721h10M2180 721h10M2220 721h10M1930 744h20M2010 744h10M2050 744h20M2090 744h20M2200 744h20M2230 744h10M1930 767h10M1960 767h10M1990 767h10M2020 767h20M2060 767h10M2090 767h10M2110 767h10M2150 767h10M2190 767h10M2220 767h20M1930 790h10M2030 790h10M2060 790h20M2100 790h10M2160 790h10M2200 790h10M2220 790h10M1930 814h10M1960 814h10M1980 814h20M2160 814h10M2190 814h10M2220 814h10M1920 837h10M1940 837h30M2010 837h10M2040 837h10M2080 837h10M2120 837h10M2220 837h20M1960 860h10M2000 860h10M2020 860h40M2080 860h10M2150 860h20M2180 860h20M2210 860h10M1930 883h10M1950 883h20M2130 883h10M2160 883h40M2220 883h10M1920 906h30M1970 906h10M2010 906h30M2050 906h40M2110 906h10M2210 906h10M2000 929h20M2030 929h10M2060 929h10M2100 929h10M2150 929h20M2190 929h30M1950 953h20M2040 953h10M2070 953h10M2120 953h30M2170 953h10M2190 953h10M2220 953h10M1930 976h20M1970 976h10M2020 976h10M2040 976h10M2070 976h10M2120 976h10M2140 976h10M2170 976h10M2190 976h20M1920 999h10M1940 999h10M1960 999h40M2020 999h10M2040 999h20M2070 999h40M2130 999h10M2180 999h10M2210 999h30M2350 1068h10M2340 1092h10M2350 1115h10M2340 1138h10M3260 1184h10M2340 1208h20M2340 1231h10M2340 1254h10M2340 1277h20M2340 1300h20M2340 1323h10M2680 1323h10M3640 1323h10M2970 1347h10M2350 1393h10M2350 1416h10M2550 1462h10M2340 1486h10M3420 1486h10M2340 1509h20M3040 1509h10M3120 1509h10M2340 1532h20M2590 1532h10M3480 1532h10M3020 1555h10M2340 1578h20M2340 1601h10M2380 1601h10M2900 1601h10M2480 1625h10M2340 1671h20M3240 1671h10M2340 1694h10M2630 1694h10M2340 1717h20M2620 1717h10" stroke="#c03030"/>
<path d="M1960 397h10M1980 397h30M2020 397h10M2040 397h10M2140 397h10M2170 397h10M2200 397h10M1920 420h10M1970 420h10M2030 420h10M2120 420h20M2160 420h10M2190 420h10M1980 443h10M2140 443h10M1950 466h10M2050 466h10M2070 466h10M2100 466h10M2140 466h10M2190 466h10M2210 466h10M1920 489h20M1960 489h10M1980 489h10M2020 489h10M2060 489h10M2120 489h10M2170 489h10M2200 489h10M2010 512h10M2070 512h10M2130 512h10M2170 512h10M1950 536h10M1990 536h40M2090 536h20M2140 536h10M2160 536h10M2200 536h20M1930 559h20M1980 559h20M2020 559h10M2130 559h10M2160 559h10M1930 582h10M2060 582h10M2220 582h10M2010 605h20M2040 605h20M2080 605h20M2170 605h20M1920 628h10M1970 628h10M2040 628h10M2100 628h10M2140 628h30M1930 651h10M2080 651h10M2160 651h10M2180 651h10M2200 651h30M1920 675h20M1970 675h30M2030 675h10M2130 675h20M2190 675h10M2220 675h10M2000 698h10M1930 721h10M1960 721h10M1990 721h10M2020 721h40M2100 721h10M2170 721h10M2200 721h10M1950 744h40M2000 744h10M2070 744h10M2170 744h20M1920 767h10M1940 767h20M1980 767h10M2000 767h10M2040 767h20M2070 767h10M2100 767h10M2120 767h10M2140 767h10M2160 767h10M2180 767h10M1920 790h10M1980 790h20M2020 790h10M2090 790h10M2130 790h10M2150 790h10M1940 814h10M2000 814h40M2050 814h20M2080 814h20M2120 814h40M2180 814h10M2210 814h10M2000 837h10M2020 837h10M2050 837h10M2100 837h10M2130 837h20M2160 837h10M2190 837h20M1920 860h20M2060 860h10M2090 860h20M2120 860h10M2220 860h10M1920 883h10M2040 883h10M2090 883h10M2110 883h20M1950 906h10M2000 906h10M2090 906h10M2140 906h10M2170 906h10M2200 906h10M1950 929h10M1990 929h10M2050 929h10M2080 929h20M2120 929h10M2140 929h10M2170 929h10M2220 929h10M2010 953h10M2030 953h10M2100 953h10M2150 953h20M2180 953h10M1960 976h10M1980 976h10M2000 976h10M2030 976h10M2050 976h10M2100 976h20M2150 976h10M2220 976h10M2120 999h10M2200 999h10M2000 1022h10M2080 1022h10M2530 1092h10M2390 1115h10M2350 1254h10M2920 1254h10M3570 1323h10M3150 1347h10M2660 1439h10M3360 1462h10M3010 1486h10M3760 1486h10M2910 1509h10M3210 1509h10M2630 1532h10M3070 1532h10M3630 1532h10M2240 1578h10M3710 1601h10M2340 1625h10M2530 1625h10M2970 1625h10M3180 1625h10M2350 1694h10M2650 1694h10M3000 1694h10M2730 1717h10M2770 1717h10M3560 1740h10" stroke="#d83030"/>
<path d="M2030 397h10M2200 420h10M1990 860h10M2140 999h10M2060 1022h10M1980 1045h10M2010 1045h10M2050 1045h10M2080 1045h10M2110 1045h10M2130 1045h10M2250 1045h10M2390 1045h10M2530 1045h20M2650 1045h10M2700 1045h10M2970 1045h10M3010 1045h10M3110 1045h20M3150 1045h10M3250 1045h10M3330 1045h10M3500 1045h10M3580 1045h10M3600 1045h10M3730 1045h10M3750 1045h10M3800 1045h10M3820 1045h10M2020 1068h10M2110 1068h10M2140 1068h10M2180 1068h30M2270 1068h10M2310 1068h10M2490 1068h10M2780 1068h10M2820 1068h20M2860 1068h10M2940 1068h10M3090 1068h10M3110 1068h20M3590 1068h20M3800 1068h30M2740 1115h10M2020 1138h10M2980 1184h10M3080 1184h10M3120 1184h10M2730 1323h10M3480 1323h10M3030 1347h10M3480 1347h10M3650 1347h10M2010 1439h10M2070 1439h10M2140 1439h10M2060 1462h10M1970 1486h20M2180 1486h20M2930 1486h10M2010 1509h20M2080 1509h10M2100 1509h10M2120 1509h10M2180 1509h10M2510 1509h10M2030 1532h10M2160 1532h10M2790 1601h10M2120 1625h10M2230 1625h10M2020 1671h10M2210 1671h10M3680 1671h10M1970 1694h10M1990 1694h10M2140 1694h10M2160 1694h10M2550 1694h10M1990 1717h20M2020 1717h10M2200 1717h10" stroke="#f07848"/>
<path d="M2110 397h20M1940 420h10M1920 443h10M1960 443h10M2020 443h10M2080 443h20M2130 443h10M2190 443h10M2230 443h10M2040 466h10M2120 466h10M2140 489h10M1940 512h10M2030 512h10M2050 512h20M2190 536h10M1920 582h10M1950 582h10M2100 582h10M2100 605h10M1990 628h10M1960 675h10M2020 675h10M1920 698h10M1950 698h10M2010 698h10M2030 698h10M2050 698h20M2110 698h10M2210 698h10M2150 744h10M2170 767h10M2080 790h10M2110 790h10M2230 814h10M1980 860h10M2200 860h10M1990 883h10M2210 883h10M2160 906h10M2230 906h10M1990 953h10M2210 953h10M1950 1022h20M2010 1022h10M2030 1022h10M2160 1022h10M2230 1022h10M3630 1045h10M3650 1045h10M3740 1045h10M2100 1068h10M2220 1068h10M2470 1068h10M2560 1068h10M2620 1068h10M2760 1068h10M3070 1068h10M3200 1068h20M3380 1068h10M3740 1068h10M2070 1092h10M2600 1092h10M2860 1092h10M2960 1092h10M3100 1092h10M3190 1092h10M3590 1092h10M3790 1092h10M2140 1115h10M2440 1115h10M2490 1115h10M2620 1115h10M2750 1115h10M2800 1115h10M3290 1115h10M3790 1115h20M2400 1138h10M2710 1138h10M2820 1138h10M3040 1138h10M3450 1138h10M2510 1161h10M2560 1161h10M2790 1161h10M2140 1184h10M2200 1184h10M2450 1184h20M2540 1184h10M2600 1184h10M2840 1184h10M2890 1184h10M3350 1184h10M3560 1184h10M3660 1184h10M3690 1184h10M3850 1184h4M2560 1208h20M2620 1208h10M2760 1208h10M3070 1208h10M3130 1208h10M3210 1208h10M3730 1208h10M3800 1208h10M3850 1208h4M2560 1231h10M3530 1231h20M2210 1254h20M2450 1254h10M2720 1254h10M3340 1254h10M3410 1254h10M3600 1254h10M2090 1277h10M2400 1277h10M3730 1277h10M2060 1300h10M3390 1300h10M3500 1300h10M2660 1323h10M2710 1323h10M2840 1323h10M3000 1323h10M3050 1323h10M3260 1323h20M2600 1347h10M2680 1347h10M2710 1347h10M2780 1347h10M3220 1347h30M3330 1347h10M3840 1347h10M3820 1370h10M1920 1439h10M1960 1439h10M1990 1439h10M2150 1439h10M2190 1439h10M3230 1439h10M2660 1462h10M2710 1462h10M2890 1462h10M3320 1462h20M3800 1462h10M2010 1486h10M2310 1486h10M2650 1486h10M2700 1486h10M2950 1486h10M3540 1486h10M3690 1486h10M2000 1509h10M2470 1509h10M2590 1509h10M2660 1509h10M2760 1509h10M2980 1509h10M3220 1509h10M3350 1509h10M3390 1509h10M3490 1509h10M3640 1509h10M3820 1509h10M1920 1532h10M2190 1532h10M2210 1532h10M2420 1532h10M2820 1532h10M3120 1532h10M3210 1532h10M3230 1532h10M3360 1532h10M2090 1555h10M2620 1555h10M2840 1555h10M2960 1555h10M3050 1555h10M3100 1555h10M1980 1578h10M2160 1578h10M2700 1578h10M2740 1578h10M3420 1578h10M2210 1601h10M2800 1601h10M3210 1601h10M3560 1601h10M3590 1601h10M3730 1601h10M3800 1601h10M2070 1625h10M2200 1625h10M2310 1625h10M2660 1625h10M2920 1625h10M3170 1625h10M3550 1625h10M3600 1625h10M3730 1625h10M2500 1648h10M2580 1648h10M2710 1648h10M2880 1648h10M3490 1648h10M3510 1648h10M3710 1648h10M2630 1671h10M3020 1671h10M3620 1671h10M3820 1671h10M1930 1694h10M2330 1694h10M2850 1694h10M3160 1694h10M3260 1694h10M3360 1694h10M3460 1694h10M3630 1694h20M2120 1717h20M2300 1717h10M2400 1717h10M2590 1717h10M3040 1717h10M3540 1717h10M3670 1717h10M3700 1717h10M2510 1740h10M2700 1740h10M2720 1740h10M3350 1740h10M3720 1740h10" stroke="#d89078"/>
<path d="M2220 397h10M2020 466h20M2170 466h10M1970 536h10M2150 536h10M2050 559h10M2130 605h10M2200 675h10M2160 744h10M1940 790h10M1960 790h10M2210 790h10M2170 814h10M2230 860h10M2120 906h10M1960 929h30M2110 929h10M1930 953h10M2020 953h10M2090 953h10M2130 976h10M2030 999h10M2060 999h10M2190 999h10M2340 1045h10M2350 1740h10" stroke="#a81830"/>
<path d="M2240 397h40M2300 397h60M2370 397h20M2400 397h160M2570 397h10M2590 397h10M2630 397h10M2650 397h30M2690 397h20M2740 397h160M2910 397h50M2970 397h40M3020 397h60M3090 397h70M3170 397h10M3190 397h40M3250 397h10M3270 397h20M3300 397h70M3400 397h120M3530 397h70M3610 397h10M3630 397h40M3680 397h60M3750 397h30M3790 397h10M3810 397h44M2240 536h10M2260 536h20M2290 536h10M2310 536h20M2350 536h20M2410 536h10M2430 536h50M2490 536h30M2540 536h10M2560 536h30M2600 536h10M2620 536h20M2680 536h10M2700 536h20M2770 536h20M2800 536h30M2850 536h10M2940 536h10M2960 536h10M3030 536h10M3060 536h10M3100 536h10M3120 536h30M3160 536h10M3180 536h20M3240 536h10M3260 536h10M3300 536h20M3330 536h10M3400 536h20M3430 536h20M3470 536h40M3540 536h20M3610 536h40M3680 536h10M3720 536h30M3760 536h50M3840 536h10M2400 582h10M2300 628h10M2320 628h20M2350 628h20M2410 628h10M2430 628h10M2460 628h10M2550 628h40M2600 628h10M2630 628h10M2660 628h10M2690 628h30M2740 628h30M2790 628h10M2810 628h10M2850 628h20M2880 628h10M2900 628h30M2950 628h10M2990 628h10M3030 628h30M3130 628h20M3160 628h10M3220 628h10M3240 628h20M3270 628h10M3310 628h10M3330 628h10M3360 628h10M3390 628h10M3410 628h10M3430 628h10M3480 628h40M3530 628h10M3570 628h20M3600 628h40M3680 628h40M3740 628h30M3800 628h30M2240 883h20M2270 883h10M2290 883h30M2350 883h10M2370 883h30M2410 883h10M2430 883h10M2500 883h10M2520 883h20M2550 883h20M2610 883h30M2660 883h10M2680 883h20M2740 883h10M2790 883h10M2840 883h10M2860 883h10M2900 883h10M2930 883h20M3000 883h10M3040 883h10M3070 883h10M3120 883h20M3180 883h10M3220 883h10M3330 883h10M3350 883h20M3420 883h40M3470 883h10M3560 883h10M3590 883h20M3650 883h10M3690 883h10M3710 883h10M3760 883h10M3800 883h10M2240 906h50M2310 906h110M2430 906h40M2480 906h20M2510 906h60M2590 906h80M2680 906h20M2710 906h70M2790 906h50M2850 906h90M2950 906h240M3210 906h20M3240 906h20M3270 906h40M3330 906h150M3490 906h10M3510 906h50M3580 906h60M3650 906h60M3720 906h10M3740 906h30M3780 906h10M3800 906h20M3830 906h24M2240 953h20M2270 953h10M2290 953h60M2360 953h40M2420 953h20M2450 953h30M2490 953h50M2550 953h100M2660 953h80M2750 953h20M2780 953h30M2820 953h60M2890 953h10M2910 953h30M2950 953h20M2980 953h10M3010 953h30M3050 953h30M3090 953h20M3120 953h40M3170 953h10M3190 953h30M3230 953h60M3300 953h10M3320 953h20M3350 953h10M3370 953h60M3450 953h30M3490 953h140M3640 953h10M3660 953h10M3690 953h100M3800 953h10M3820 953h20M3850 953h4M2250 999h120M2380 999h10M2410 999h30M2450 999h110M2580 999h50M2640 999h30M2680 999h120M2810 999h10M2830 999h100M2940 999h40M3000 999h40M3050 999h80M3140 999h50M3200 999h160M3370 999h70M3460 999h30M3500 999h20M3530 999h20M3570 999h100M3680 999h10M3710 999h30M3760 999h60M3830 999h24M2250 1022h50M2310 1022h50M2370 1022h100M2480 1022h50M2540 1022h90M2640 1022h10M2660 1022h10M2680 1022h20M2710 1022h50M2780 1022h220M3020 1022h160M3190 1022h10M3210 1022h10M3230 1022h20M3260 1022h40M3310 1022h80M3400 1022h10M3420 1022h20M3460 1022h40M3510 1022h50M3580 1022h80M3670 1022h70M3750 1022h100M2420 1068h10M3510 1068h10M2590 1092h10M2650 1092h10M3520 1092h20M2230 1115h10M2270 1115h10M2320 1115h10M3400 1115h10M1940 1161h10M2060 1161h10M2300 1161h10M2910 1161h10M3120 1161h10M3190 1161h10M3280 1161h10M3530 1161h10M3770 1161h10M2740 1184h10M3320 1184h10M2400 1208h10M3300 1208h10M3390 1208h10M1960 1231h10M1990 1231h10M2040 1231h10M2270 1231h10M2660 1231h10M2860 1231h10M2990 1231h10M3150 1231h10M3300 1231h10M3780 1231h20M2030 1254h10M2080 1254h10M2380 1254h10M2940 1254h10M3060 1254h10M2120 1277h10M2210 1277h10M2490 1277h10M2580 1277h20M3180 1277h10M3300 1277h10M3740 1277h10M3840 1277h10M2020 1300h10M2380 1300h10M2510 1300h10M2680 1300h10M3510 1300h20M3610 1300h10M2320 1323h10M3460 1323h10M2280 1347h10M2300 1347h10M2290 1370h10M2440 1370h10M2610 1370h10M2790 1370h10M3240 1370h10M3480 1370h10M3530 1370h10M3660 1370h10M3760 1370h10M3780 1370h10M1930 1393h10M2210 1393h10M2290 1393h20M2480 1393h10M2670 1393h10M2770 1393h10M2960 1393h10M3080 1393h10M3100 1393h10M3120 1393h10M3170 1393h10M3640 1393h10M2150 1416h10M2170 1416h10M2210 1416h10M2500 1416h10M3310 1416h10M3330 1416h10M3780 1416h10M3810 1416h10M2490 1439h10M2590 1439h10M2720 1439h10M3320 1439h10M1990 1462h10M2380 1462h10M2750 1462h10M3020 1462h10M3190 1462h10M3220 1462h10M3450 1462h20M3610 1462h10M3750 1462h10M2070 1486h10M2280 1486h10M1920 1555h10M2400 1555h10M3010 1555h10M3240 1555h10M3520 1555h10M2290 1578h20M2590 1578h10M2690 1578h10M3030 1578h10M3280 1578h10M3500 1578h10M3540 1578h10M2820 1601h10M3430 1601h10M3770 1601h10M2640 1625h10M2370 1648h10M2680 1648h10M3100 1648h10M3390 1648h10M3760 1648h10M2250 1671h10M2250 1694h10M1940 1717h10M2240 1717h10M2410 1717h10M2980 1717h10M1960 1740h10M2220 1740h10M2370 1740h10M3060 1740h10M3190 1740h10M3330 1740h10M3360 1740h10M3620 1740h10" stroke="#c0f0f0"/>
<path d="M2280 397h10M2560 397h10M2580 397h10M2600 397h30M2640 397h10M2710 397h20M3160 397h10M3230 397h20M3380 397h20M3520 397h10M3670 397h10M2550 420h10M2590 420h10M3830 443h10M2240 466h80M2330 466h80M2420 466h130M2560 466h170M2740 466h50M2810 466h110M2940 466h190M3140 466h50M3200 466h170M3380 466h60M3450 466h90M3550 466h50M3610 466h20M3640 466h214M2240 489h50M2300 489h210M2520 489h290M2820 489h250M3080 489h50M3140 489h20M3170 489h100M3280 489h20M3310 489h70M3400 489h10M3420 489h10M3440 489h150M3610 489h80M3700 489h80M3790 489h64M3830 512h10M2240 559h160M2410 559h220M2640 559h350M3000 559h60M3070 559h160M3240 559h210M3460 559h40M3510 559h40M3560 559h170M3740 559h20M3770 559h84M2230 582h40M2280 582h120M2410 582h170M2590 582h500M3100 582h170M3280 582h20M3310 582h470M3790 582h10M3810 582h44M2240 605h160M2410 605h250M2670 605h370M3050 605h110M3180 605h220M3410 605h400M3820 605h34M2240 651h20M2280 651h570M2860 651h340M3210 651h400M3620 651h140M3770 651h84M3030 675h10M3620 675h10M2160 698h10M2240 698h20M2270 698h170M2450 698h80M2540 698h210M2760 698h90M2860 698h60M2930 698h80M3020 698h520M3550 698h30M3590 698h140M3740 698h114M2240 721h400M2650 721h70M2730 721h370M3110 721h210M3330 721h90M3430 721h120M3560 721h90M3660 721h110M3780 721h74M2240 744h10M2270 744h90M2370 744h320M2700 744h80M2790 744h130M2930 744h10M2950 744h290M3250 744h220M3480 744h170M3660 744h140M3810 744h44M2240 767h50M2310 767h430M2750 767h20M2780 767h520M3310 767h250M3570 767h140M3720 767h80M3810 767h44M2240 790h130M2380 790h60M2460 790h30M2500 790h170M2680 790h40M2730 790h10M2750 790h20M2780 790h50M2840 790h110M2960 790h80M3050 790h90M3150 790h240M3400 790h70M3480 790h10M3500 790h50M3560 790h40M3610 790h150M3770 790h80M2240 814h60M2310 814h600M2920 814h120M3050 814h170M3230 814h410M3650 814h20M3680 814h174M2240 837h110M2360 837h80M2450 837h60M2530 837h690M3230 837h490M3730 837h124M2240 860h480M2740 860h170M2920 860h80M3010 860h70M3090 860h80M3180 860h130M3320 860h80M3410 860h444M2290 906h10M2420 906h10M2470 906h10M2580 906h10M2700 906h10M2780 906h10M2840 906h10M2940 906h10M3310 906h20M3560 906h20M3640 906h10M3770 906h10M3790 906h10M3820 906h10M2240 929h20M2270 929h180M2460 929h110M2580 929h30M2620 929h190M2820 929h520M3350 929h120M3490 929h120M3630 929h224M2260 953h10M2280 953h10M2350 953h10M2400 953h10M2440 953h10M2770 953h10M2810 953h10M2880 953h10M2900 953h10M2990 953h10M3040 953h10M3080 953h10M3110 953h10M3180 953h10M3220 953h10M3340 953h10M3360 953h10M3440 953h10M3630 953h10M3670 953h20M3840 953h10M2240 976h210M2460 976h70M2540 976h310M2860 976h70M2940 976h20M2970 976h170M3150 976h60M3220 976h30M3260 976h150M3420 976h280M3710 976h144M2240 999h10M2390 999h10M2630 999h10M2670 999h10M2930 999h10M3040 999h10M3190 999h10M3360 999h10M3440 999h20M3490 999h10M3550 999h20M3670 999h10M3690 999h10M3750 999h10M3820 999h10M2020 1022h10M2360 1022h10M2630 1022h10M2650 1022h10M2670 1022h10M2700 1022h10M2760 1022h20M3000 1022h10M3200 1022h10M3220 1022h10M3390 1022h10M3410 1022h10M3500 1022h10M3560 1022h20M3740 1022h10M3530 1068h10M3840 1068h10M1930 1092h20M1980 1092h10M2000 1092h10M2050 1092h10M2100 1092h10M2130 1092h20M2200 1092h10M2220 1092h20M2250 1092h10M2270 1092h10M2300 1092h20M2390 1092h20M2440 1092h10M2470 1092h10M2570 1092h20M2630 1092h10M2680 1092h20M2720 1092h10M2770 1092h10M2830 1092h20M2910 1092h10M3040 1092h10M3080 1092h10M3110 1092h10M3140 1092h20M3200 1092h10M3280 1092h10M3340 1092h10M3490 1092h10M3510 1092h10M3560 1092h10M3690 1092h10M3770 1092h10M1930 1115h20M1970 1115h10M2080 1115h10M2120 1115h10M2150 1115h20M2180 1115h10M2200 1115h10M2250 1115h20M2300 1115h10M2420 1115h10M2450 1115h10M2480 1115h10M2580 1115h10M2730 1115h10M2770 1115h10M2830 1115h10M2860 1115h10M2880 1115h10M2900 1115h20M2980 1115h10M3010 1115h10M3040 1115h10M3320 1115h10M3360 1115h10M3640 1115h10M3670 1115h20M3740 1115h10M3760 1115h10M3780 1115h10M3850 1115h4M2030 1138h10M2120 1138h20M2240 1138h20M2280 1138h10M2300 1138h10M2320 1138h10M2450 1138h10M2480 1138h10M2580 1138h10M2620 1138h20M2900 1138h10M2970 1138h20M3280 1138h10M3320 1138h20M3510 1138h10M3540 1138h10M3570 1138h10M3740 1138h10M3780 1138h10M3820 1138h10M3840 1138h10M1930 1161h10M1980 1161h10M2000 1161h10M2030 1161h10M2070 1161h10M2120 1161h10M2160 1161h30M2230 1161h60M2380 1161h10M2400 1161h20M2480 1161h10M2600 1161h10M2680 1161h10M2760 1161h20M2970 1161h10M3100 1161h10M3210 1161h10M3230 1161h10M3400 1161h20M3430 1161h20M3580 1161h10M3660 1161h30M3810 1161h20M3850 1161h4M1990 1184h10M2050 1184h10M2120 1184h10M2270 1184h10M2310 1184h10M2480 1184h10M2770 1184h10M2800 1184h10M2940 1184h10M3110 1184h10M3390 1184h10M3790 1184h10M1940 1208h10M1960 1208h20M1990 1208h20M2050 1208h10M2070 1208h20M2110 1208h10M2170 1208h10M2190 1208h10M2240 1208h10M2260 1208h60M2330 1208h10M2420 1208h10M2440 1208h10M2510 1208h20M2550 1208h10M2610 1208h10M2710 1208h10M2730 1208h10M2770 1208h10M2960 1208h10M3010 1208h10M3030 1208h10M3090 1208h10M3200 1208h10M3220 1208h10M3250 1208h10M3270 1208h10M3400 1208h20M3460 1208h10M3670 1208h10M3690 1208h10M3710 1208h10M3750 1208h10M3810 1208h10M1950 1231h10M2050 1231h10M2080 1231h30M2170 1231h10M2190 1231h40M2320 1231h10M2370 1231h10M2400 1231h10M2420 1231h10M2450 1231h20M2480 1231h20M2510 1231h20M2540 1231h20M2570 1231h10M2610 1231h10M2700 1231h10M2740 1231h10M2770 1231h20M2840 1231h10M2890 1231h10M2940 1231h10M2970 1231h10M3030 1231h10M3090 1231h40M3190 1231h20M3240 1231h20M3280 1231h10M3320 1231h10M3400 1231h70M3500 1231h10M3520 1231h10M3620 1231h10M3680 1231h10M3700 1231h20M3750 1231h10M2050 1254h10M2130 1254h10M2160 1254h10M2200 1254h10M2240 1254h10M2360 1254h10M2390 1254h10M2490 1254h10M2540 1254h10M2570 1254h10M2650 1254h30M2740 1254h10M2840 1254h20M2930 1254h10M2950 1254h10M3000 1254h10M3050 1254h10M3110 1254h10M3140 1254h10M3240 1254h10M3280 1254h10M3400 1254h10M3420 1254h10M3440 1254h20M3470 1254h10M3510 1254h20M3610 1254h10M3650 1254h50M3730 1254h10M3760 1254h20M3790 1254h10M3830 1254h10M1940 1277h10M1960 1277h20M1990 1277h20M2040 1277h20M2080 1277h10M2110 1277h10M2160 1277h10M2180 1277h30M2220 1277h10M2240 1277h10M2260 1277h30M2360 1277h40M2410 1277h10M2460 1277h20M2500 1277h10M2520 1277h10M2550 1277h10M2570 1277h10M2620 1277h10M2660 1277h40M2720 1277h20M2750 1277h10M2780 1277h10M2800 1277h10M2820 1277h10M2840 1277h40M2900 1277h10M2930 1277h10M2960 1277h30M3000 1277h10M3020 1277h20M3050 1277h30M3110 1277h10M3140 1277h10M3160 1277h10M3200 1277h10M3230 1277h30M3280 1277h10M3320 1277h20M3350 1277h10M3380 1277h10M3410 1277h10M3430 1277h40M3530 1277h20M3580 1277h20M3610 1277h10M3650 1277h10M3670 1277h10M3700 1277h20M3760 1277h40M3830 1277h10M3850 1277h4M1960 1300h10M1980 1300h10M2050 1300h10M2080 1300h10M2130 1300h10M2200 1300h10M2360 1300h10M2390 1300h10M2430 1300h10M2520 1300h10M2540 1300h20M2620 1300h20M2660 1300h20M2690 1300h10M2720 1300h20M2790 1300h10M2930 1300h20M2970 1300h10M3070 1300h10M3140 1300h10M3180 1300h10M3280 1300h10M3320 1300h10M3350 1300h10M3400 1300h20M3440 1300h30M3540 1300h10M3580 1300h10M3710 1300h10M3780 1300h20M3810 1300h10M1990 1323h10M2010 1323h10M2030 1323h20M2100 1323h10M2180 1323h20M2210 1323h20M2240 1323h10M2260 1323h20M2290 1323h10M2310 1323h10M2420 1323h10M2780 1323h20M2890 1323h10M3070 1323h10M3140 1323h10M3340 1323h10M3390 1323h20M3550 1323h10M2240 1347h10M2260 1347h20M2290 1347h10M2310 1347h20M2360 1347h10M2410 1347h10M2770 1347h10M2790 1347h10M2930 1347h10M3600 1347h10M3680 1347h10M1980 1370h10M2250 1370h10M2530 1370h10M3300 1370h10M3390 1370h10M2170 1393h10M2360 1393h10M2580 1393h10M2010 1416h10M2780 1416h10M3070 1416h10M3120 1416h10M3700 1416h20M3790 1416h10M2630 1439h10M2850 1439h10M2050 1462h10M2240 1462h30M2290 1462h10M2320 1462h10M2410 1462h10M2450 1462h20M2480 1462h10M2560 1462h20M2650 1462h10M2690 1462h10M2760 1462h20M2790 1462h10M2810 1462h10M2830 1462h10M2860 1462h10M2880 1462h10M2960 1462h10M3000 1462h10M3110 1462h10M3290 1462h10M3310 1462h10M3380 1462h10M3500 1462h10M3530 1462h10M3550 1462h10M3640 1462h10M3760 1462h10M3840 1462h10M2240 1486h20M2290 1486h10M2400 1486h10M2500 1486h10M2680 1486h10M2750 1486h10M2880 1486h10M3220 1486h10M3320 1486h10M3430 1486h10M3460 1486h10M3590 1486h20M3660 1486h10M3710 1486h10M3830 1486h10M2250 1509h10M2290 1509h10M2570 1509h20M2670 1509h10M2750 1509h10M3180 1509h10M3280 1509h10M3310 1509h10M3710 1509h10M1950 1532h10M2260 1532h10M2310 1532h20M2690 1532h10M2800 1532h10M2830 1532h10M3240 1532h10M3440 1532h10M3490 1532h10M2070 1555h10M2240 1555h10M2300 1555h20M2600 1555h10M2700 1555h10M2730 1555h10M2750 1555h10M2800 1555h10M3000 1555h10M3160 1555h10M3180 1555h10M3580 1555h10M3770 1555h10M1920 1578h10M1960 1578h10M2120 1578h10M2190 1578h10M2230 1578h10M2280 1578h10M2310 1578h10M2560 1578h10M3150 1578h10M3310 1578h10M3380 1578h10M3440 1578h10M3550 1578h10M3720 1578h10M1980 1601h10M2240 1601h10M2290 1601h10M2490 1601h10M2520 1601h10M2640 1601h10M2660 1601h10M2810 1601h10M2840 1601h10M3050 1601h10M3130 1601h10M3330 1601h20M3480 1601h10M3610 1601h10M3790 1601h10M2050 1625h20M2300 1625h10M2580 1625h10M2630 1625h10M2950 1625h10M3130 1625h10M3190 1625h10M3230 1625h10M3430 1625h10M3500 1625h10M3680 1625h10M2010 1648h10M2050 1648h20M2090 1648h10M2110 1648h10M2150 1648h10M2240 1648h40M2310 1648h10M2400 1648h10M2470 1648h10M2490 1648h10M2610 1648h10M2630 1648h10M2650 1648h30M2700 1648h10M2750 1648h10M2790 1648h10M2840 1648h10M2940 1648h30M2990 1648h20M3020 1648h10M3110 1648h10M3130 1648h10M3150 1648h10M3190 1648h10M3260 1648h10M3290 1648h10M3310 1648h10M3330 1648h10M3400 1648h10M3480 1648h10M3500 1648h10M3570 1648h10M3800 1648h10M2260 1671h10M2280 1671h10M2320 1671h10M2430 1671h10M2460 1671h10M2520 1671h10M2710 1671h10M2790 1671h10M2900 1671h10M3530 1671h10M3630 1671h10M3720 1671h10M2010 1694h10M2260 1694h10M2280 1694h10M2310 1694h20M2430 1694h10M2540 1694h10M3070 1694h10M3090 1694h10M3420 1694h10M2250 1717h10M2310 1717h20M2520 1717h10M2660 1717h10M2750 1717h20M3060 1717h20M3100 1717h10M3210 1717h10M3340 1717h10M3390 1717h10M3480 1717h10M3740 1717h10M1940 1740h20M2130 1740h30M2190 1740h10M2240 1740h40M2330 1740h10M2380 1740h10M2430 1740h10M2450 1740h10M2530 1740h10M2550 1740h10M2660 1740h10M2850 1740h10M2880 1740h10M2930 1740h10M2970 1740h20M3310 1740h10M3400 1740h10M3500 1740h10M3550 1740h10M3590 1740h10M3770 1740h10" stroke="#d8f0d8"/>
<path d="M2290 397h10M2900 397h10M2960 397h10M3080 397h10M3260 397h10M3290 397h10M3370 397h10M3780 397h10M2250 536h10M2280 536h10M2300 536h10M2330 536h20M2370 536h10M2390 536h20M2420 536h10M2480 536h10M2520 536h20M2550 536h10M2590 536h10M2610 536h10M2640 536h40M2690 536h10M2720 536h50M2790 536h10M2830 536h20M2860 536h80M2950 536h10M2970 536h60M3040 536h20M3070 536h30M3110 536h10M3150 536h10M3170 536h10M3200 536h40M3250 536h10M3270 536h20M3320 536h10M3350 536h40M3420 536h10M3450 536h20M3510 536h30M3560 536h50M3650 536h30M3690 536h30M3750 536h10M3810 536h30M3850 536h4M2240 628h40M2290 628h10M2310 628h10M2340 628h10M2370 628h40M2420 628h10M2440 628h20M2470 628h20M2500 628h50M2590 628h10M2610 628h20M2650 628h10M2670 628h20M2730 628h10M2770 628h20M2800 628h10M2820 628h30M2870 628h10M2890 628h10M2930 628h20M2960 628h30M3000 628h30M3060 628h70M3150 628h10M3170 628h10M3190 628h30M3230 628h10M3260 628h10M3280 628h30M3320 628h10M3340 628h20M3370 628h10M3400 628h10M3420 628h10M3440 628h40M3520 628h10M3540 628h30M3590 628h10M3640 628h40M3720 628h20M3770 628h30M3840 628h14M3400 860h10M2260 883h10M2280 883h10M2330 883h20M2400 883h10M2440 883h60M2510 883h10M2540 883h10M2570 883h40M2640 883h20M2670 883h10M2700 883h30M2750 883h40M2800 883h40M2850 883h10M2870 883h30M2910 883h10M2950 883h50M3020 883h20M3050 883h20M3080 883h40M3140 883h40M3200 883h20M3240 883h90M3340 883h10M3370 883h50M3460 883h10M3480 883h80M3570 883h20M3610 883h40M3660 883h30M3700 883h10M3720 883h40M3780 883h20M3810 883h44M2570 906h10M3190 906h20M3260 906h10M3480 906h10M2410 953h10M2540 953h10M2650 953h10M2740 953h10M3160 953h10M3290 953h10M3310 953h10M3650 953h10M3790 953h10M2370 999h10M2560 999h20M2820 999h10M2990 999h10M3130 999h10M3700 999h10M2240 1022h10M3180 1022h10M3720 1068h10M1960 1092h10M2210 1092h10M2240 1092h10M2260 1092h10M3740 1092h10M1950 1115h10M2810 1115h10M3100 1115h20M3460 1115h10M3750 1115h10M1930 1138h10M2160 1138h10M2310 1138h10M2680 1138h10M2730 1138h10M2780 1138h10M3430 1138h10M1950 1161h10M2130 1161h10M2610 1161h10M3260 1161h10M3290 1161h10M3310 1161h10M2000 1184h10M2240 1184h10M2610 1184h10M2730 1184h10M3700 1184h10M3720 1184h10M2120 1208h10M2370 1208h10M2940 1208h10M3180 1208h10M3350 1208h10M3550 1208h10M3700 1208h10M2380 1231h10M2500 1231h10M3350 1231h10M3810 1231h10M2040 1254h10M2300 1254h10M2440 1254h10M2470 1254h10M2550 1254h10M2860 1254h10M3490 1254h10M2020 1277h10M2070 1277h10M2310 1277h10M2430 1277h10M2450 1277h10M2540 1277h10M2630 1277h10M2810 1277h10M2950 1277h10M3310 1277h10M3370 1277h10M3550 1277h10M3630 1277h10M3800 1277h10M2120 1300h10M3020 1300h10M3160 1300h10M3730 1300h10M2080 1323h10M2170 1323h10M2940 1323h10M3750 1323h10M2610 1347h10M1950 1370h20M2060 1370h10M2100 1370h20M2130 1370h10M2150 1370h10M2200 1370h10M2240 1370h10M2260 1370h10M2280 1370h10M2310 1370h30M2360 1370h10M2410 1370h10M2450 1370h10M2480 1370h10M2580 1370h10M2600 1370h10M2640 1370h10M2660 1370h10M2680 1370h20M2710 1370h10M2740 1370h10M2760 1370h20M2820 1370h10M2840 1370h10M2920 1370h10M2950 1370h20M2980 1370h10M3000 1370h10M3050 1370h10M3070 1370h10M3090 1370h10M3120 1370h10M3160 1370h40M3220 1370h10M3310 1370h10M3340 1370h20M3430 1370h10M3450 1370h10M3470 1370h10M3580 1370h10M3680 1370h10M3700 1370h10M3740 1370h10M3810 1370h10M3830 1370h10M1920 1393h10M1950 1393h10M2000 1393h10M2020 1393h20M2050 1393h20M2120 1393h10M2160 1393h10M2180 1393h10M2250 1393h10M2270 1393h10M2310 1393h20M2380 1393h10M2420 1393h10M2440 1393h10M2460 1393h20M2590 1393h10M2630 1393h10M2680 1393h10M2740 1393h10M2780 1393h10M2840 1393h10M2870 1393h10M2940 1393h20M2970 1393h10M3020 1393h10M3150 1393h20M3240 1393h10M3290 1393h10M3310 1393h10M3330 1393h10M3360 1393h10M3400 1393h10M3420 1393h10M3470 1393h20M3510 1393h10M3530 1393h10M3610 1393h10M3630 1393h10M3660 1393h10M3690 1393h20M3730 1393h10M3760 1393h20M3800 1393h30M1990 1416h10M2060 1416h10M2120 1416h10M2160 1416h10M2190 1416h10M2270 1416h10M2310 1416h10M2360 1416h30M2420 1416h10M2460 1416h20M2520 1416h10M2560 1416h30M2680 1416h10M2750 1416h10M2770 1416h10M2830 1416h10M2910 1416h10M2930 1416h10M2970 1416h10M2990 1416h10M3040 1416h10M3060 1416h10M3080 1416h10M3100 1416h10M3210 1416h10M3230 1416h10M3320 1416h10M3340 1416h10M3400 1416h10M3430 1416h10M3450 1416h10M3490 1416h10M3540 1416h10M3570 1416h10M3590 1416h10M3740 1416h20M3800 1416h10M3820 1416h10M2250 1439h10M2300 1439h20M2550 1439h10M2580 1439h10M2750 1439h10M2860 1439h10M2990 1439h10M3070 1439h10M3200 1439h10M3260 1439h10M3310 1439h10M3330 1439h10M3350 1439h10M3550 1439h10M3610 1439h10M3680 1439h10M3700 1439h10M2270 1486h10M2460 1486h10M3400 1486h10M3610 1486h10M2970 1509h10M3770 1509h10M3310 1532h10M3530 1532h10M2010 1555h10M2220 1555h10M2270 1555h20M2930 1555h10M3080 1555h10M3530 1555h10M3850 1555h4M2980 1578h10M3160 1578h10M3180 1578h10M3210 1578h10M2050 1601h10M2670 1601h10M2540 1625h10M2870 1625h10M2290 1648h10M2390 1648h10M2420 1648h10M3210 1648h10M3250 1648h10M3540 1648h10M3150 1671h10M3290 1671h10M2720 1717h10M3270 1717h10M2280 1740h10M2470 1740h10M2560 1740h10M3420 1740h10M3800 1740h10" stroke="#c0d8f0"/>
<path d="M2360 397h10M3800 397h10M3390 536h10M2280 628h10M2720 628h10M3180 628h10M3830 628h10M2920 883h10M3190 883h10M3810 953h10M2440 999h10M2300 1022h10M3010 1022h10M3250 1022h10M2330 1045h10M3140 1045h10M3450 1045h10M3520 1045h10M2300 1068h10M2330 1068h10M2380 1068h10M2580 1068h10M2610 1068h10M2730 1068h10M2800 1068h10M3080 1068h10M3130 1068h10M3540 1068h10M3640 1068h20M2060 1092h10M2320 1092h10M2370 1092h10M2420 1092h20M2510 1092h10M2550 1092h10M2610 1092h10M2870 1092h10M2920 1092h10M3010 1092h10M3030 1092h10M3090 1092h10M3130 1092h10M3230 1092h10M3330 1092h10M3550 1092h10M3610 1092h30M3730 1092h10M3750 1092h10M1960 1115h10M2020 1115h10M2130 1115h10M2370 1115h10M2400 1115h10M2530 1115h10M2560 1115h20M2590 1115h10M2610 1115h10M2930 1115h10M2970 1115h10M3190 1115h10M3260 1115h10M3410 1115h20M3440 1115h10M3490 1115h10M3840 1115h10M1940 1138h30M2000 1138h10M2040 1138h30M2110 1138h10M2260 1138h10M2390 1138h10M2410 1138h10M2520 1138h20M2570 1138h10M2640 1138h10M2830 1138h10M2890 1138h10M2910 1138h10M3000 1138h10M3020 1138h10M3080 1138h10M3100 1138h10M3260 1138h10M3290 1138h10M3480 1138h10M3620 1138h10M3710 1138h10M3790 1138h10M3850 1138h4M2540 1161h10M2580 1161h10M2620 1161h10M2830 1161h10M2950 1161h10M3150 1161h10M3200 1161h10M3220 1161h10M3450 1161h10M3520 1161h10M3590 1161h10M3840 1161h10M2010 1184h10M2130 1184h10M2210 1184h10M2260 1184h10M2380 1184h10M2400 1184h10M2430 1184h10M2490 1184h10M2580 1184h10M2710 1184h10M3140 1184h10M3450 1184h10M3610 1184h20M3710 1184h10M3750 1184h10M3810 1184h10M2020 1208h10M2130 1208h10M2380 1208h10M2460 1208h10M2490 1208h20M2640 1208h10M2700 1208h10M2720 1208h10M2820 1208h10M2860 1208h10M2930 1208h10M3100 1208h10M3120 1208h10M3240 1208h10M3330 1208h10M3420 1208h10M3470 1208h20M3500 1208h10M3610 1208h10M1940 1231h10M1970 1231h10M2060 1231h10M2110 1231h10M2180 1231h10M2260 1231h10M2290 1231h10M2630 1231h10M2710 1231h20M2810 1231h10M2910 1231h10M3040 1231h10M3080 1231h10M3130 1231h10M3210 1231h20M3270 1231h10M3360 1231h10M3480 1231h10M3610 1231h10M3720 1231h10M3760 1231h10M2070 1254h10M2090 1254h10M2280 1254h10M2500 1254h10M2580 1254h10M2600 1254h10M2730 1254h10M2830 1254h10M2870 1254h20M2980 1254h10M3010 1254h10M3030 1254h10M3130 1254h10M3170 1254h20M3300 1254h10M3350 1254h10M3380 1254h10M3430 1254h10M3500 1254h10M3590 1254h10M3630 1254h10M3740 1254h10M2010 1277h10M2330 1277h10M2480 1277h10M2600 1277h10M2700 1277h10M2880 1277h10M2920 1277h10M2990 1277h10M3210 1277h10M3290 1277h10M3390 1277h10M3680 1277h10M1990 1300h20M2040 1300h10M2100 1300h10M2180 1300h10M2210 1300h10M2230 1300h20M2290 1300h20M2330 1300h10M2370 1300h10M2440 1300h10M2460 1300h10M2570 1300h10M2650 1300h10M2800 1300h10M2850 1300h10M2910 1300h10M2960 1300h10M3060 1300h10M3150 1300h10M3210 1300h10M3290 1300h20M3530 1300h10M3560 1300h20M3600 1300h10M3660 1300h10M1940 1323h10M2050 1323h20M2110 1323h20M2380 1323h10M2630 1323h20M2970 1323h10M3010 1323h10M3200 1323h10M3350 1323h10M3430 1323h20M3470 1323h10M3530 1323h10M3780 1323h10M1990 1347h10M2040 1347h10M2070 1347h10M2390 1347h20M2580 1347h10M2730 1347h20M2810 1347h10M3190 1347h10M3310 1347h10M3460 1347h10M3640 1347h10M3730 1347h10M3780 1347h10M2040 1393h10M2150 1393h10M2620 1393h10M2920 1393h10M3440 1393h10M1960 1416h10M2920 1416h10M3760 1416h10M1940 1439h10M2110 1439h10M2770 1439h10M2910 1439h10M3220 1439h10M3490 1439h10M1960 1462h10M2080 1462h10M2150 1462h10M2170 1462h10M2360 1462h10M2440 1462h10M2490 1462h10M2580 1462h10M2600 1462h10M2640 1462h10M2940 1462h10M2980 1462h20M3010 1462h10M3070 1462h10M3120 1462h10M3160 1462h10M3240 1462h10M3300 1462h10M3400 1462h20M3430 1462h10M3690 1462h10M3830 1462h10M2030 1486h10M2410 1486h10M2840 1486h10M2870 1486h10M2910 1486h10M2940 1486h10M3110 1486h10M3150 1486h20M3270 1486h10M3490 1486h10M3550 1486h10M3580 1486h10M3650 1486h10M3700 1486h10M3770 1486h10M2130 1509h10M2270 1509h10M2300 1509h10M2330 1509h10M2810 1509h10M3090 1509h10M3190 1509h10M3250 1509h10M3290 1509h10M3430 1509h10M3450 1509h10M3470 1509h10M3510 1509h20M3550 1509h10M3650 1509h10M2230 1532h20M2280 1532h10M2330 1532h10M2400 1532h10M2570 1532h20M2600 1532h10M2710 1532h10M2890 1532h10M2930 1532h10M2990 1532h10M3100 1532h10M3170 1532h10M3190 1532h10M3260 1532h10M2160 1555h10M2200 1555h10M2460 1555h10M2510 1555h30M2580 1555h10M2660 1555h20M2760 1555h10M2830 1555h10M2940 1555h10M3090 1555h10M3290 1555h20M3320 1555h10M3350 1555h10M3550 1555h10M3650 1555h20M3710 1555h10M3730 1555h10M3810 1555h10M2050 1578h10M2250 1578h10M2270 1578h10M2420 1578h10M2510 1578h10M2540 1578h10M2600 1578h10M2710 1578h20M2870 1578h20M3050 1578h20M3130 1578h10M3260 1578h10M3510 1578h10M3830 1578h20M2070 1601h10M2250 1601h10M2320 1601h10M2470 1601h10M2680 1601h10M2780 1601h10M2830 1601h10M2880 1601h10M2960 1601h10M3230 1601h20M3260 1601h10M3390 1601h10M3440 1601h10M3500 1601h10M3530 1601h10M3550 1601h10M3740 1601h10M3830 1601h10M2090 1625h10M2260 1625h10M2370 1625h10M2490 1625h10M2670 1625h10M2770 1625h10M2910 1625h10M3260 1625h10M3350 1625h10M3570 1625h10M2070 1648h10M2130 1648h10M2230 1648h10M2460 1648h10M2570 1648h10M2770 1648h10M2890 1648h10M2970 1648h10M3040 1648h10M3120 1648h10M3170 1648h10M3200 1648h10M3320 1648h10M3360 1648h10M3470 1648h10M3520 1648h10M3580 1648h10M3740 1648h10M3810 1648h10M3840 1648h10M2000 1671h10M2160 1671h10M2500 1671h10M2530 1671h20M2580 1671h10M2620 1671h10M3010 1671h10M3060 1671h10M3120 1671h10M3160 1671h10M3260 1671h10M3370 1671h10M3520 1671h10M3640 1671h10M3840 1671h10M2040 1694h10M2080 1694h10M2300 1694h10M2510 1694h10M2530 1694h10M2570 1694h10M2760 1694h10M2800 1694h10M3080 1694h10M3220 1694h10M3470 1694h10M3560 1694h10M3620 1694h10M3710 1694h10M3760 1694h10M1950 1717h10M2010 1717h10M2040 1717h10M2260 1717h10M2480 1717h10M2820 1717h10M2850 1717h10M3030 1717h10M3330 1717h10M3370 1717h10M3420 1717h10M3720 1717h10M3750 1717h10M3790 1717h10M3820 1717h10M1920 1740h10M2310 1740h10M2440 1740h10M2630 1740h20M2770 1740h10M2830 1740h10M2860 1740h10M2910 1740h10M3030 1740h10M3080 1740h10M3130 1740h10M3240 1740h10M3300 1740h10M3320 1740h10M3440 1740h10M3480 1740h10M3540 1740h10M3600 1740h20M3670 1740h10M3710 1740h10M3730 1740h10M3750 1740h10" stroke="#d8c0a8"/>
<path d="M2390 397h10M2680 397h10M3180 397h10M2490 628h10M2730 883h10M3770 883h10M2300 906h10M3500 906h10M3710 906h10M2940 953h10M2800 999h10M2980 999h10M3300 1022h10M3660 1022h10M2590 1045h10M2680 1045h10M2780 1045h10M3510 1045h10M3640 1045h10M2440 1068h10M2510 1068h10M2570 1068h10M2840 1068h10M2910 1068h10M2950 1068h10M3050 1068h10M3360 1068h10M3470 1068h10M3670 1068h10M1920 1092h10M2040 1092h10M2160 1092h10M2330 1092h10M2810 1092h10M3250 1092h10M3270 1092h10M3360 1092h10M3420 1092h10M2000 1115h10M2510 1115h10M3210 1115h10M3330 1115h10M3700 1115h10M2200 1138h20M3010 1138h10M3190 1138h20M3380 1138h10M3590 1138h10M2040 1161h20M2190 1161h10M2860 1161h10M3180 1161h10M3300 1161h10M3720 1161h10M3760 1161h10M1920 1184h10M1940 1184h10M2040 1184h10M2090 1184h10M2150 1184h10M2250 1184h10M2590 1184h10M3070 1184h10M3400 1184h10M1950 1208h10M2040 1208h10M2060 1208h10M2160 1208h10M2480 1208h10M3110 1208h10M2600 1231h10M2650 1231h10M2820 1231h10M3060 1231h10M1980 1254h30M2060 1254h10M2170 1254h10M2230 1254h10M2250 1254h10M2530 1254h10M2590 1254h10M2770 1254h10M3640 1254h10M3780 1254h10M1950 1277h10M2060 1277h10M1930 1300h10M2160 1300h10M2260 1300h10M2870 1300h10M3260 1300h10M3340 1300h10M3680 1300h10M3750 1300h10M1950 1323h10M2390 1323h10M2470 1323h10M2550 1323h10M2610 1323h10M2720 1323h10M2740 1323h10M2770 1323h10M2800 1323h10M3590 1323h10M3690 1323h10M3730 1323h10M2150 1347h10M3070 1347h10M3790 1347h10M2000 1370h10M2020 1416h10M2040 1416h20M2950 1416h10M2980 1416h10M3020 1416h10M3530 1416h10M3840 1416h10M1940 1462h20M2040 1462h10M2090 1462h10M2110 1462h10M2780 1462h10M2840 1462h10M3600 1462h10M1940 1486h10M1990 1486h10M2610 1486h10M3140 1486h10M3180 1486h10M3200 1486h10M3640 1486h10M2040 1509h10M3750 1509h10M2780 1532h10M2960 1532h10M3030 1532h10M3150 1532h10M3270 1532h10M1960 1555h10M2130 1555h10M2780 1555h10M3230 1555h10M3410 1555h10M3490 1555h10M3690 1555h10M2070 1578h10M2100 1578h10M2200 1578h10M2360 1578h10M2400 1578h10M2430 1578h10M2470 1578h10M2800 1578h10M3000 1578h10M3120 1578h10M3480 1578h10M3570 1578h10M3610 1578h10M3640 1578h10M3740 1578h10M3800 1578h10M2110 1601h10M2300 1601h10M3310 1601h20M3380 1601h10M3640 1601h10M2010 1625h10M2240 1625h10M2890 1625h10M3250 1625h10M3520 1625h10M1930 1648h20M2190 1648h10M2210 1648h20M2280 1648h10M2870 1648h10M3270 1648h10M3450 1648h10M2090 1671h10M2300 1671h10M2750 1671h10M3040 1671h10M3140 1671h10M3170 1671h10M3440 1671h10M2410 1694h10M3150 1694h10M3540 1694h10M3660 1694h10M3790 1694h10M3850 1694h4M1930 1717h10M2280 1717h10M2390 1717h10M2550 1717h10M2910 1717h10M3190 1717h10M3590 1717h10M3730 1717h10M1990 1740h10M2010 1740h10M2120 1740h10M2170 1740h10M2390 1740h10M2610 1740h10M3070 1740h10M3460 1740h10M3680 1740h10" stroke="#d8d8c0"/>
<path d="M2730 397h10M3340 536h10M2640 628h10M2420 883h10M2500 906h10M3230 906h10M2480 953h10M2970 953h10M3850 1022h4M3190 1045h10M2370 1068h10M2390 1068h10M3030 1068h10M2110 1092h10M2640 1115h10M2230 1138h10M3350 1138h10M1970 1161h10M2920 1161h10M3040 1161h10M2100 1184h10M3530 1184h10M2140 1208h10M3230 1208h10M3580 1208h10M2250 1231h10M2360 1231h10M2440 1231h10M2670 1231h10M2790 1231h10M2900 1231h10M2180 1254h10M3710 1254h10M2150 1300h10M2270 1300h10M3360 1300h10M3250 1439h10M2130 1462h10M2190 1462h10M2390 1462h10M2530 1462h10M1960 1486h10M2050 1509h10M3240 1509h10M3400 1509h10M3680 1509h10M3700 1509h10M1970 1555h10M2000 1555h10M2420 1555h10M1970 1578h10M2530 1578h10M2920 1578h10M3240 1578h10M3670 1578h10M2040 1601h10M1950 1648h10M1990 1648h10M2690 1648h10M2820 1648h10M3010 1648h10M3340 1648h10M3270 1671h10M3470 1671h10M2290 1694h10M3800 1694h10M2110 1740h10" stroke="#d8d8a8"/>
<path d="M3010 397h10M3600 397h10M2040 443h10M2160 443h10M3430 489h10M3600 489h10M1990 512h10M2040 512h10M2180 512h10M3290 536h10M1970 582h10M2080 582h10M2140 582h10M3810 605h10M3380 628h10M2530 698h10M2780 744h10M2370 790h10M2440 790h10M2490 790h10M2740 790h10M2770 790h10M2830 790h10M2950 790h10M3490 790h10M3600 790h10M2360 883h10M3730 906h10M2260 929h10M2850 976h10M3520 999h10M3740 999h10M2090 1022h10M2170 1022h10M2470 1022h10M2530 1022h10M3440 1022h20M2280 1092h10M3350 1092h10M3130 1115h10M2150 1138h10M3310 1138h10M2010 1161h10M2090 1161h10M3710 1161h10M1930 1208h10M3360 1208h10M2160 1231h10M3070 1231h10M1950 1254h10M2620 1254h10M2760 1254h10M3040 1277h10M3360 1277h10M3400 1277h10M3770 1300h10M2060 1347h10M3580 1347h10M3660 1462h10M2560 1486h10M3000 1486h10M2400 1509h10M2870 1509h10M2950 1555h10M2550 1578h10M3530 1578h10M3540 1601h10M2290 1625h10M2140 1648h10M2620 1648h10M2290 1671h10M2610 1671h10M2720 1671h10M3330 1671h10M3710 1717h10M2020 1740h10M2080 1740h10M3280 1740h10" stroke="#d8f0c0"/>
<path d="M3620 397h10M3080 860h10M2850 1045h10M3460 1068h10M3620 1068h10M2070 1138h10M2750 1231h10M2520 1254h10M2140 1462h10M2130 1532h10M3460 1648h10M2930 1694h10" stroke="#f0c0a8"/>
<path d="M3740 397h10M2320 466h10M2410 466h10M2550 466h10M3190 466h10M3540 466h10M3600 466h10M2290 489h10M3070 489h10M3450 559h10M2270 582h10M3090 582h10M3040 605h10M3200 651h10M3610 651h10M3260 675h10M2440 698h10M2920 698h10M3540 698h10M3320 721h10M3420 721h10M2920 744h10M2940 744h10M3560 767h10M3760 790h10M3220 814h10M3640 814h10M3220 837h10M2720 860h20M3310 860h10M3000 953h10M3480 953h10M2530 976h10M3140 976h10M2730 1045h10M3810 1092h10M2090 1115h10M2220 1115h10M2470 1115h10M3580 1115h10M2180 1138h10M2110 1184h10M3100 1184h10M2010 1208h10M2950 1208h10M2130 1231h10M2130 1347h10M3000 1347h10M2000 1462h10M2710 1509h10M1980 1555h10M3570 1555h10M3840 1555h10M1950 1578h10M1930 1601h10M2180 1601h10M3600 1648h10M3850 1717h4" stroke="#f0d8a8"/>
<path d="M2240 420h10M2260 420h10M2280 420h30M2330 420h10M2350 420h20M2380 420h10M2410 420h10M2450 420h30M2510 420h10M2530 420h20M2560 420h30M2610 420h30M2660 420h90M2770 420h40M2820 420h50M2880 420h50M2950 420h10M2970 420h120M3100 420h30M3140 420h20M3170 420h100M3280 420h50M3340 420h30M3390 420h10M3420 420h70M3500 420h20M3540 420h40M3590 420h10M3610 420h10M3630 420h20M3660 420h30M3710 420h20M3750 420h10M3770 420h60M3840 420h10M1930 443h30M2050 443h10M2120 443h10M2210 443h10M2240 443h110M2360 443h170M2540 443h110M2660 443h50M2720 443h300M3030 443h110M3150 443h60M3220 443h140M3370 443h100M3480 443h160M3650 443h180M3840 443h14M2510 489h10M3130 489h10M1950 512h20M2140 512h10M2190 512h10M2240 512h240M2490 512h410M2910 512h160M3080 512h90M3180 512h20M3210 512h300M3520 512h170M3700 512h110M3820 512h10M3850 512h4M2630 559h10M3730 559h10M1940 582h10M1990 582h10M2010 582h10M2030 582h10M2070 582h10M3760 651h10M2240 675h170M2420 675h80M2510 675h130M2650 675h10M2680 675h100M2790 675h130M2930 675h100M3040 675h40M3100 675h140M3250 675h10M3280 675h20M3310 675h60M3380 675h10M3400 675h60M3470 675h30M3510 675h20M3540 675h40M3590 675h30M3630 675h70M3710 675h70M3790 675h64M2090 698h10M2120 698h10M2200 698h10M2260 698h10M2640 721h10M3770 721h10M3650 744h10M2300 767h10M2740 767h10M3800 767h10M3470 790h10M3850 790h4M2300 814h10M2350 837h10M2510 837h20M3620 929h10M2960 976h10M3410 976h10M3700 976h10M1930 1022h10M1980 1022h10M2040 1022h20M2110 1022h10M2190 1022h10M1980 1115h10M2210 1208h10M2250 1208h10M3490 1277h10M2330 1578h10M3290 1578h10M3600 1578h10M3660 1740h10" stroke="#f0f0c0"/>
<path d="M2250 420h10M3270 420h10M2480 512h10M2400 605h10M3160 605h10M2920 675h10M3300 675h10M3580 698h10M3140 790h10M3340 929h10M2100 1462h10M2040 1578h10" stroke="#f0d890"/>
<path d="M2270 420h10M2310 420h20M2340 420h10M2370 420h10M2390 420h10M2420 420h30M2480 420h30M2600 420h10M2640 420h20M2750 420h20M2810 420h10M2870 420h10M2930 420h20M3090 420h10M3130 420h10M3160 420h10M3330 420h10M3370 420h20M3400 420h20M3490 420h10M3530 420h10M3580 420h10M3600 420h10M3650 420h10M3700 420h10M3730 420h20M3760 420h10M3830 420h10M3850 420h4M2030 443h10M2650 443h10M3020 443h10M3140 443h10M3210 443h10M3360 443h10M2920 466h10M3370 466h10M1920 512h10M2090 512h10M2220 512h10M2900 512h10M3170 512h10M3510 512h10M3690 512h10M2400 559h10M2020 582h10M2130 582h10M2180 582h10M3270 582h10M3780 582h10M2660 605h10M3170 605h10M3400 605h10M2500 675h10M2640 675h10M2660 675h20M2780 675h10M3080 675h20M3240 675h10M3370 675h10M3390 675h10M3460 675h10M3500 675h10M3530 675h10M3580 675h10M2130 698h10M2170 698h10M3010 698h10M2720 721h10M2260 744h10M2910 860h10M2450 929h10M2450 976h10M3250 976h10M1990 1022h10M2150 1022h10M2180 1022h10M2110 1555h10" stroke="#f0f0a8"/>
<path d="M2400 420h10M2520 420h10M2960 420h10M3520 420h10M3690 420h10M3640 443h10M2730 466h10M2790 466h10M2930 466h10M3160 489h10M3380 489h10M3590 489h10M3690 489h10M3810 512h10M3840 512h10M2990 559h10M3230 559h10M3550 559h10M3760 559h10M2210 582h10M3300 582h10M3800 582h10M2270 651h10M2410 675h10M3270 675h10M3730 698h10M3100 721h10M3550 721h10M2360 744h10M3470 744h10M2670 790h10M2720 790h10M2910 814h10M3720 837h10M3000 860h10M2570 929h10M2100 1045h10M2220 1045h10M2420 1045h10M3000 1045h10M3540 1045h10M3670 1045h10M3690 1045h10M1920 1068h10M2000 1068h10M2410 1068h10M2630 1068h10M2710 1068h10M2990 1068h10M3060 1068h10M3280 1068h10M3520 1068h10M3700 1068h10M2120 1092h10M2190 1115h10M1980 1138h10M2080 1138h10M2220 1138h10M3440 1138h10M1920 1161h10M2210 1161h10M2190 1184h10M2320 1184h10M2920 1184h10M2200 1208h10M2230 1231h10M2980 1231h10M1920 1277h10M1950 1300h10M3240 1300h10M3850 1300h4M1930 1347h10M1970 1347h10M2170 1347h10M2020 1462h10M3200 1462h10M3480 1462h10M2080 1486h10M1980 1509h10M2070 1509h10M2930 1509h10M2080 1532h10M2200 1532h10M2020 1555h10M2080 1555h10M2370 1555h10M2440 1555h10M2000 1578h10M2090 1578h10M3300 1578h10M2000 1601h10M2030 1601h10M2080 1601h10M2200 1601h10M2220 1601h10M1980 1625h10M2000 1625h10M2110 1625h10M2220 1625h10M1920 1648h10M2060 1671h10M2190 1671h10M1960 1694h10M2030 1717h10M3510 1717h10M2160 1740h10M3380 1740h10" stroke="#f0c090"/>
<path d="M3620 420h10M2070 1184h10M3760 1208h10M3380 1231h10M2080 1370h10M2180 1370h10M2230 1370h10M2570 1370h10M2780 1370h10M2110 1393h10M1930 1416h10M1930 1555h10M3150 1601h10M1920 1671h10" stroke="#c0d8c0"/>
<path d="M1970 443h10M1960 466h10M1940 698h10M1940 1045h10M2370 1045h10M2470 1045h10M3380 1045h20M3440 1045h10M3460 1045h10M2040 1068h10M2500 1068h10M2680 1068h10M2810 1068h10M3260 1068h10M3430 1068h10M3490 1068h10M3780 1068h10M2190 1092h10M2740 1092h10M2780 1092h10M3220 1092h10M3290 1092h10M3660 1092h10M3800 1092h10M3820 1092h20M2310 1115h10M2670 1115h10M2720 1115h10M2760 1115h10M2870 1115h10M2940 1115h10M3020 1115h10M3070 1115h10M3250 1115h10M3350 1115h10M2470 1138h10M2720 1138h10M2930 1138h20M3210 1138h30M3420 1138h10M3500 1138h10M3520 1138h10M3610 1138h10M3640 1138h10M3660 1138h10M3730 1138h10M2100 1161h10M2530 1161h10M2700 1161h10M2960 1161h10M3170 1161h10M3380 1161h10M2360 1184h10M2410 1184h10M2680 1184h10M2810 1184h10M2830 1184h10M3020 1184h10M3150 1184h20M3330 1184h20M3510 1184h10M3540 1184h10M3580 1184h10M3680 1184h10M3780 1184h10M2580 1208h10M2790 1208h10M3650 1208h10M2300 1231h10M3170 1231h10M3580 1231h10M3660 1231h10M3820 1231h10M2330 1254h10M2690 1254h10M2750 1254h10M3120 1254h10M3220 1254h10M3270 1277h10M2010 1300h10M2320 1300h10M2980 1300h10M3080 1300h20M3640 1300h10M3800 1300h10M3820 1300h10M2590 1323h10M2870 1323h10M2900 1323h10M2960 1323h10M3030 1323h10M3100 1323h10M3120 1323h10M3220 1323h10M3240 1323h10M3510 1323h10M3670 1323h10M3700 1323h10M3720 1323h10M3820 1323h10M1940 1347h10M2050 1347h10M2590 1347h10M2690 1347h10M2860 1347h20M3080 1347h10M3180 1347h10M3250 1347h10M3290 1347h10M3340 1347h10M3360 1347h10M3520 1347h20M3590 1347h10M3620 1347h10M3750 1347h10M2560 1393h10M2100 1416h10M3190 1416h10M3500 1416h10M2060 1439h10M2410 1439h10M2790 1439h10M2950 1439h10M3030 1439h10M3190 1439h10M3270 1439h10M3560 1439h10M3730 1439h10M1920 1462h10M2520 1462h10M2850 1462h10M3390 1462h10M2000 1486h10M2150 1486h10M2490 1486h10M2690 1486h10M2810 1486h10M2830 1486h10M3060 1486h10M3230 1486h10M3410 1486h10M3480 1486h10M3630 1486h10M3720 1486h10M3780 1486h10M3800 1486h10M2280 1509h10M2380 1509h10M2460 1509h10M2600 1509h10M2650 1509h10M2690 1509h10M2720 1509h20M2860 1509h10M2900 1509h10M2920 1509h10M3070 1509h10M3130 1509h10M3170 1509h10M3230 1509h10M3270 1509h10M3370 1509h10M3410 1509h10M3560 1509h10M3670 1509h10M3740 1509h10M3790 1509h20M2430 1532h10M2450 1532h10M2680 1532h10M2770 1532h10M3020 1532h10M3050 1532h10M3180 1532h10M3200 1532h10M3390 1532h10M3750 1532h10M3790 1532h10M1940 1555h10M2230 1555h10M2390 1555h10M2430 1555h10M2680 1555h10M3070 1555h10M3140 1555h10M3340 1555h10M3500 1555h10M3540 1555h10M3780 1555h20M2020 1578h10M2380 1578h10M2410 1578h10M2490 1578h10M2670 1578h10M2950 1578h10M3020 1578h10M3090 1578h10M3340 1578h10M3360 1578h10M3430 1578h10M3750 1578h10M3820 1578h10M2100 1601h10M2530 1601h10M2620 1601h10M2890 1601h10M2920 1601h10M3010 1601h20M3110 1601h10M3180 1601h10M3270 1601h10M3350 1601h10M3580 1601h10M2520 1625h10M2600 1625h10M2740 1625h10M2760 1625h10M2780 1625h10M2820 1625h10M2900 1625h10M2990 1625h10M3100 1625h20M3160 1625h10M3210 1625h10M3240 1625h10M3270 1625h20M3760 1625h10M3780 1625h10M3810 1625h20M2080 1648h10M2410 1648h10M2550 1648h10M2740 1648h10M2780 1648h10M2830 1648h10M2850 1648h20M2900 1648h10M3140 1648h10M3160 1648h10M3420 1648h10M3530 1648h10M3680 1648h10M3850 1648h4M1950 1671h10M2420 1671h10M2730 1671h10M2770 1671h10M2880 1671h10M2950 1671h10M2970 1671h20M3000 1671h10M3080 1671h20M3210 1671h10M3280 1671h10M3310 1671h10M3450 1671h10M3500 1671h10M3580 1671h20M3690 1671h20M1950 1694h10M2130 1694h10M2640 1694h10M2670 1694h10M2710 1694h10M2740 1694h10M2820 1694h10M2910 1694h10M3110 1694h10M3140 1694h10M3250 1694h10M3300 1694h10M3370 1694h10M3400 1694h10M3510 1694h10M3650 1694h10M3740 1694h20M3820 1694h20M2190 1717h10M2330 1717h10M2370 1717h10M2450 1717h10M2580 1717h10M2690 1717h10M2930 1717h10M2960 1717h10M3010 1717h20M3120 1717h10M3160 1717h10M3220 1717h10M3240 1717h10M3310 1717h10M3430 1717h10M3450 1717h10M3580 1717h10M3650 1717h10M3680 1717h20M2890 1740h10M2950 1740h10M3690 1740h10M3850 1740h4" stroke="#d87860"/>
<path d="M1990 443h10M2060 443h10M2050 489h10M1970 512h10M1940 628h10M2040 698h10M2220 698h20M1920 1022h10M2140 1022h10M1960 1045h10M2640 1045h10M2890 1045h10M3060 1045h10M3350 1045h10M3470 1045h10M3590 1045h10M3680 1045h10M1960 1068h10M2010 1068h10M2240 1068h10M2540 1068h10M2890 1068h10M3550 1068h10M3790 1068h10M2180 1092h10M2500 1092h10M2160 1184h10M2110 1347h10M2620 1347h10M3200 1347h10M1950 1439h10M2000 1439h10M2230 1439h10M1970 1462h10M2060 1509h10M2420 1509h10M3590 1509h10M1930 1532h10M3430 1532h10M3620 1532h10M2570 1555h10M3190 1555h10M1970 1625h10M2410 1625h10M1960 1671h20M1990 1671h10M2150 1671h10M2110 1717h10M2710 1717h10" stroke="#f09078"/>
<path d="M2010 443h10M2210 1022h10M2070 1045h10M3300 1045h10M3540 1323h10M2700 1347h10M1920 1509h10M1950 1509h10M2110 1509h10M3400 1671h10M2650 1717h10" stroke="#f06030"/>
<path d="M2150 443h10M2170 443h10M2130 466h10M2230 512h10M2110 559h10M2120 582h10M1940 1022h10M2100 1022h10M2120 1022h10M2610 1045h10M2760 1045h10M3240 1045h10M3420 1045h10M3530 1045h10M2060 1068h10M2920 1068h10M3190 1068h10M3240 1068h10M3120 1092h10M3440 1092h10M3570 1092h10M1920 1138h10M3130 1138h10M3600 1138h10M2890 1161h10M2020 1184h10M2660 1184h10M3210 1184h10M3230 1184h10M2850 1208h10M3590 1208h10M3230 1254h10M2140 1300h10M1950 1347h10M2230 1347h10M2640 1347h10M2660 1347h10M2030 1439h10M3820 1462h10M1920 1486h10M2050 1486h10M2320 1486h10M2390 1486h10M3510 1486h10M2150 1509h10M2840 1509h10M2670 1532h10M3690 1532h10M3450 1555h10M2970 1578h10M3250 1578h10M2130 1601h10M2710 1601h10M3510 1601h10M3810 1601h10M2180 1625h10M2690 1625h10M3620 1625h20M3220 1648h10M2070 1671h10M2590 1694h10M3400 1717h10M3760 1740h10" stroke="#d89060"/>
<path d="M2180 443h10M1930 466h10M2000 605h10M2030 651h10M2070 651h10M1970 698h10M1990 744h10M1990 837h10M2070 860h10M1990 906h10M2200 953h10M2160 976h10M2170 999h10M2240 1045h10M2460 1045h10M3200 1045h10M3230 1045h10M3310 1045h10M2250 1068h10M2870 1068h10M2540 1115h10M2660 1115h10M3610 1115h10M2430 1138h10M3340 1138h10M2850 1184h10M2870 1208h10M2580 1231h10M3820 1254h10M2560 1300h10M2460 1323h10M3060 1323h10M2820 1347h10M2980 1347h10M2120 1439h10M2890 1486h10M3440 1486h10M3520 1486h10M3730 1509h10M3850 1509h4M2380 1532h10M2650 1532h10M2850 1532h20M2920 1532h10M3570 1532h10M3610 1532h10M3760 1532h10M3820 1532h10M2480 1601h10M3120 1601h10M2130 1625h10M2380 1625h10M2980 1625h10M3050 1625h10M3090 1625h10M3480 1671h10M2750 1694h10M2830 1694h10M2210 1717h10M2610 1717h10M2810 1717h10" stroke="#d86048"/>
<path d="M2200 443h10M1930 512h10M3600 1092h10M2710 1161h10M3130 1161h10M3840 1184h10M3690 1231h10M2610 1254h10M2520 1323h10M3570 1347h10M2950 1509h10M3510 1555h10M2990 1601h10M2430 1625h10M3540 1625h10M3030 1694h10M3140 1717h10M3040 1740h10" stroke="#c07878"/>
<path d="M2350 443h10M3470 443h10M2800 466h10M3130 466h10M3440 466h10M3270 489h10M3780 489h10M3200 512h10M3500 559h10M2580 582h10M2850 651h10M3700 675h10M3780 675h10M2750 698h10M3650 721h10M2250 744h10M2690 744h10M3800 744h10M2290 767h10M2770 767h10M3710 767h10M2450 790h10M3390 790h10M3550 790h10M3170 860h10M3480 929h10M3610 929h10M2930 976h10M2730 1092h10M2900 1092h10M3720 1092h10M3620 1115h10M3300 1138h10M3460 1138h10M3530 1138h10M3670 1138h10M3760 1138h10M2290 1161h10M2520 1161h10M2630 1161h10M2730 1161h10M2850 1161h10M3070 1161h10M3700 1161h10M1960 1184h10M1920 1208h10M2100 1208h10M2220 1208h10M2320 1208h10M2650 1208h10M2750 1208h10M3150 1208h10M3620 1208h10M1920 1231h10M2280 1231h10M2430 1231h10M2590 1231h10M2920 1231h10M3000 1231h10M3370 1231h10M3390 1231h10M3510 1231h10M3550 1231h10M3640 1231h10M2150 1254h10M3320 1254h10M3360 1254h10M3580 1254h10M3800 1254h10M2150 1277h10M2510 1277h10M2530 1277h10M2910 1277h10M3080 1277h10M3470 1277h10M3620 1277h10M3640 1277h10M3720 1277h10M2220 1300h10M2780 1300h10M2810 1300h10M2890 1300h10M3110 1300h10M3490 1300h10M3550 1300h10M3670 1300h10M3760 1300h10M1980 1323h10M2020 1323h10M2160 1323h10M1920 1370h10M2090 1370h10M2370 1370h30M2520 1370h10M2650 1370h10M2700 1370h10M2730 1370h10M2830 1370h10M2910 1370h10M2940 1370h10M2990 1370h10M3110 1370h10M3130 1370h10M3400 1370h10M3440 1370h10M3630 1370h20M1940 1393h10M2370 1393h10M2400 1393h10M2430 1393h10M2640 1393h10M2750 1393h10M2930 1393h10M2990 1393h10M3030 1393h10M3260 1393h10M3280 1393h10M3340 1393h20M3370 1393h10M3390 1393h10M3450 1393h10M3490 1393h10M3570 1393h20M3750 1393h10M2600 1416h10M2630 1416h10M2810 1416h10M2940 1416h10M3030 1416h10M3140 1416h10M3180 1416h10M3250 1416h10M3350 1416h10M3460 1416h20M3560 1416h10M3600 1416h10M2280 1439h10M2430 1439h10M2930 1439h10M3130 1439h10M3360 1439h10M3420 1439h10M2280 1462h10M2330 1462h10M2420 1462h10M2870 1462h10M2970 1462h10M3590 1462h10M2570 1486h10M2240 1509h10M3830 1509h10M3160 1532h10M2190 1555h10M2900 1555h10M3040 1555h10M3250 1555h10M2580 1578h10M2310 1601h10M3660 1601h10M2610 1625h10M3720 1625h10M2000 1648h10M2300 1648h10M2640 1648h10M3560 1648h10M3790 1648h10M2760 1671h10M3320 1671h10M2240 1694h10M2680 1694h10M3050 1694h10M1970 1740h10M2480 1740h10M2730 1740h10M3160 1740h20M3450 1740h10M3830 1740h10" stroke="#c0d8d8"/>
<path d="M2530 443h10M3070 512h10M2140 698h10M2200 1022h10M2630 1045h10M2690 1045h10M2810 1045h10M3340 1045h10M3720 1045h10M2150 1068h10M3000 1068h10M3040 1068h10M3100 1068h10M3320 1068h10M2140 1231h10M1930 1277h10M2100 1347h10M2160 1439h10M1930 1509h10M2170 1532h10M1990 1578h10M2030 1578h10M2110 1578h10M2190 1625h10M2960 1694h10" stroke="#f0c078"/>
<path d="M2710 443h10M2640 1184h10M3090 1254h10M2290 1532h10M2520 1648h10" stroke="#d8d8d8"/>
<path d="M3630 466h10M2810 489h10M3300 489h10M3390 489h10M3410 489h10M3060 559h10M2260 651h10M2850 698h10M3240 744h10M3300 767h10M3040 814h10M3670 814h10M2440 837h10M2610 929h10M2810 929h10M3470 929h10M3210 976h10M2400 1068h10M3690 1068h10M1950 1092h10M1970 1092h10M1990 1092h10M2020 1092h10M2170 1092h10M2410 1092h10M3640 1092h10M3680 1092h10M1990 1115h10M2060 1115h10M2170 1115h10M2240 1115h10M3470 1115h10M3510 1115h10M3600 1115h10M3660 1115h10M3830 1115h10M3170 1138h10M3810 1138h10M1960 1161h10M1990 1161h10M2020 1161h10M2110 1161h10M2150 1161h10M2200 1161h10M2310 1161h10M2450 1161h10M2900 1161h10M2980 1161h10M3090 1161h10M3110 1161h10M3320 1161h10M3630 1161h10M3780 1161h10M1970 1184h10M2030 1208h10M2090 1208h10M2530 1208h20M2590 1208h10M2800 1208h10M2990 1208h20M3320 1208h10M3430 1208h10M3630 1208h10M3720 1208h10M1930 1231h10M2240 1231h10M2330 1231h10M2640 1231h10M2800 1231h10M3010 1231h20M3570 1231h10M3740 1231h10M1960 1254h10M2260 1254h20M2430 1254h10M2780 1254h10M3020 1254h10M3190 1254h10M3330 1254h10M3460 1254h10M3550 1254h20M1980 1277h10M2130 1277h10M2170 1277h10M2230 1277h10M2250 1277h10M2300 1277h10M2420 1277h10M2640 1277h10M2740 1277h10M2790 1277h10M2830 1277h10M2940 1277h10M3010 1277h10M3150 1277h10M3220 1277h10M3260 1277h10M3420 1277h10M3500 1277h30M3570 1277h10M3660 1277h10M3690 1277h10M3810 1277h10M1920 1300h10M1940 1300h10M2070 1300h10M2250 1300h10M2470 1300h10M2590 1300h10M2750 1300h10M2840 1300h10M2860 1300h10M2900 1300h10M3190 1300h10M3430 1300h10M3470 1300h10M3650 1300h10M3690 1300h10M3740 1300h10M2000 1323h10M2920 1323h10M3610 1323h10M3850 1323h4M1980 1347h10M2160 1347h10M3420 1347h10M2470 1370h10M3410 1370h20M3460 1370h10M2190 1393h10M2860 1393h10M2250 1416h10M2300 1416h10M2690 1416h10M2730 1416h10M3260 1416h10M3280 1416h10M3300 1416h10M3580 1416h10M2840 1439h10M3140 1439h10M3210 1439h10M2070 1462h10M2220 1462h10M2270 1462h10M2400 1462h10M2500 1462h10M2590 1462h10M2680 1462h10M2950 1462h10M3030 1462h10M3250 1462h20M3370 1462h10M3740 1462h10M2440 1486h10M3450 1486h10M2880 1509h10M3150 1509h10M3610 1509h10M2300 1532h10M2950 1532h10M3040 1532h10M2120 1555h10M2210 1555h10M2290 1555h10M2320 1555h10M2610 1555h10M2980 1555h10M3030 1555h10M3420 1555h10M3620 1555h10M2010 1578h10M2220 1578h10M2320 1578h10M3660 1578h10M2010 1601h10M2120 1601h10M2270 1601h10M2420 1601h10M2950 1601h10M3700 1601h10M2700 1625h10M3150 1625h10M3310 1625h10M3450 1625h10M3660 1625h10M1980 1648h10M2020 1648h10M2170 1648h10M3610 1648h10M3700 1648h10M2310 1671h10M2330 1671h10M2640 1671h10M2660 1671h10M3390 1671h10M2990 1694h10M2540 1717h10M3090 1717h10M3350 1717h10M2000 1740h10M2030 1740h10M2070 1740h10M2090 1740h10M2210 1740h10M2290 1740h20M2670 1740h10M2750 1740h10M2810 1740h10M3050 1740h10M3100 1740h10M3370 1740h10M3490 1740h10" stroke="#c0f0d8"/>
<path d="M2180 489h10M2100 512h10M2160 512h10M2210 512h10M1960 698h10M1980 698h10M2110 744h10M2070 814h10M2000 1045h10M2060 1045h10M2120 1045h10M2140 1045h20M2170 1045h20M2200 1045h10M2380 1045h10M2510 1045h10M2550 1045h20M2750 1045h10M2770 1045h10M2820 1045h20M2860 1045h10M2930 1045h10M2980 1045h10M3020 1045h10M3170 1045h10M3220 1045h10M3290 1045h10M3360 1045h10M3480 1045h10M3770 1045h10M1950 1068h10M1970 1068h10M2030 1068h10M2070 1068h10M2160 1068h10M2260 1068h10M2290 1068h10M2320 1068h10M2460 1068h10M2480 1068h10M2520 1068h10M2670 1068h10M2770 1068h10M2900 1068h10M3250 1068h10M3300 1068h10M3330 1068h10M3400 1068h10M3420 1068h10M3580 1068h10M3610 1068h10M3680 1068h10M3760 1068h10M2490 1092h10M2440 1138h10M2060 1184h10M2500 1184h10M3220 1184h10M2390 1208h10M2850 1231h10M2100 1277h10M2700 1323h10M3170 1323h10M3250 1323h10M3060 1347h10M1970 1439h10M2100 1439h10M2200 1439h10M2360 1439h10M2120 1462h10M1930 1486h10M2120 1486h10M2170 1486h10M2220 1486h10M2820 1486h10M3090 1486h10M1940 1509h10M2220 1509h20M2820 1509h10M2990 1509h10M1990 1532h10M2040 1532h10M2060 1532h10M2100 1532h20M2150 1532h10M2540 1532h10M2970 1532h10M3080 1532h10M3110 1555h10M2080 1578h10M3200 1578h10M3590 1578h10M3760 1578h10M1960 1601h10M2160 1601h10M2190 1601h10M3280 1601h10M1930 1625h10M2100 1625h10M3590 1625h10M2040 1648h10M3380 1648h10M3720 1648h10M2030 1671h10M2050 1671h10M2110 1671h10M2140 1671h10M2200 1671h10M2600 1671h10M3430 1671h10M1920 1694h10M2020 1694h10M2050 1694h10M2480 1694h10M2780 1694h10M2080 1717h10M2140 1717h10M2180 1717h10M2220 1717h10M3000 1717h10M2180 1740h10" stroke="#f09060"/>
<path d="M2000 512h10M2110 512h20M1960 582h10M2050 582h10M2110 582h10M2150 582h20M1920 605h10M2020 698h10M2100 698h10M2150 837h10M1970 1022h10M2220 1022h10M1990 1045h10M2230 1045h10M2270 1045h20M2360 1045h10M2430 1045h10M2450 1045h10M2480 1045h10M2870 1045h20M2950 1045h10M3040 1045h10M3180 1045h10M3400 1045h20M3430 1045h10M3570 1045h10M3760 1045h10M3810 1045h10M1930 1068h10M2360 1068h10M2640 1068h10M2660 1068h10M2750 1068h10M2930 1068h10M3010 1068h20M3220 1068h10M3290 1068h10M3480 1068h10M3570 1068h10M3660 1068h10M3750 1068h10M2210 1115h10M1970 1138h10M2390 1161h10M2460 1161h10M2660 1161h10M3500 1161h10M2330 1184h10M3040 1184h10M3130 1184h10M3640 1184h10M2230 1208h10M3050 1208h10M2000 1231h10M3340 1231h10M2010 1254h10M1930 1323h10M1970 1323h10M2070 1323h10M2580 1323h10M3410 1323h10M2030 1347h10M2080 1347h10M2120 1347h10M2180 1347h10M2220 1347h10M2100 1393h10M2140 1393h10M1970 1416h10M1930 1439h10M2010 1462h10M2740 1462h10M2020 1486h10M2210 1486h10M2230 1486h10M2670 1486h10M1990 1509h10M2090 1509h10M2200 1509h10M3140 1509h10M3460 1509h10M2050 1532h10M2120 1532h10M1990 1555h10M2030 1555h10M2100 1555h10M3220 1555h10M3610 1555h10M2140 1578h10M1920 1601h10M3000 1601h10M1940 1625h20M2080 1625h10M1970 1648h10M2160 1648h10M1980 1671h10M2130 1671h10M3660 1671h10M1940 1694h10M1980 1694h10M2090 1694h10M2170 1694h10M2200 1694h10M3120 1694h10M2100 1717h10M2160 1717h10M3570 1717h10M2900 1740h10M3810 1740h10" stroke="#f0a878"/>
<path d="M2020 512h10M2380 1092h10M3220 1115h10M2600 1138h10M3350 1161h10M3640 1161h10M3830 1161h10M3660 1208h10M3310 1231h10M3470 1231h10M2430 1323h10M2560 1323h10M3650 1323h10M2420 1439h10M2640 1509h10M3810 1509h10M2740 1555h10M2360 1601h10M3190 1601h10M2320 1625h10M3090 1648h10M3830 1648h10M2470 1671h10M2990 1671h10M3200 1694h10M3170 1717h10M3410 1717h10" stroke="#c09078"/>
<path d="M2150 512h10M2200 512h10M2400 1045h10M3150 1115h10M2500 1161h10M3160 1208h10M3690 1347h10M2220 1416h10M2160 1486h10M2770 1509h10M3600 1509h10M2520 1578h10M2150 1625h10M2780 1740h10" stroke="#f0a890"/>
<path d="M2380 536h10M3110 1138h10M2970 1254h10M2940 1347h10M2210 1370h10M2180 1416h10M3670 1532h10M2410 1555h10M2560 1717h10M3230 1740h10" stroke="#d8a8a8"/>
<path d="M2120 559h10M2040 582h10M2140 651h10M1920 1045h10M1970 1045h10M2040 1045h10M2190 1045h10M2210 1045h10M2620 1045h10M2670 1045h10M3030 1045h10M3370 1045h10M3710 1045h10M3790 1045h10M2050 1068h10M2130 1068h10M2170 1068h10M2210 1068h10M2960 1068h10M3160 1068h10M3270 1068h10M3370 1068h10M3690 1138h10M2330 1161h10M2900 1184h10M3590 1184h10M3390 1254h10M3830 1300h10M2000 1347h10M2210 1509h10M2830 1509h10M2850 1509h10M3480 1509h10M2090 1532h10M2520 1532h10M3450 1578h10M1990 1601h10M1960 1625h10M3590 1694h10M2050 1717h10M2600 1717h10M2870 1717h10M2050 1740h10" stroke="#f06048"/>
<path d="M2200 582h10M2150 698h10M2190 790h10M2300 1045h10M3660 1045h10M3850 1045h4M1940 1068h10M3350 1068h10M2330 1115h10M3720 1115h10M2180 1184h10M3370 1208h10M1930 1254h10M2110 1300h10M2990 1300h10M2510 1323h10M2250 1347h10M2090 1439h10M3540 1462h10M2110 1486h10M2480 1486h10M2520 1486h10M3100 1486h10M3250 1486h10M2630 1509h10M3720 1509h10M2140 1532h10M3380 1532h10M2650 1555h10M3480 1555h10M3630 1555h10M2210 1578h10M2860 1578h10M1950 1601h10M3630 1601h10M2150 1694h10M3340 1694h10M1970 1717h10M2420 1740h10" stroke="#d8a878"/>
<path d="M2200 628h10M2100 675h10M2080 698h10M2150 721h10M2170 790h10M1950 860h10M2010 860h10M2160 1045h10M2520 1045h10M3490 1045h10M3170 1068h10M3250 1161h10M2760 1184h10M2510 1347h10M2720 1347h10M2170 1509h10M3330 1509h10M3350 1578h10M3140 1601h10M1990 1625h10M2100 1648h10M3650 1648h10M3740 1671h10" stroke="#d86030"/>
<path d="M2230 628h10" stroke="#f04830"/>
<path d="M3040 790h10M3430 953h10M1930 1045h10M2030 1045h10M2740 1045h10M2800 1045h10M2910 1045h20M3160 1045h10M3260 1045h10M1980 1068h10M2080 1068h10M2120 1068h10M2530 1068h10M2700 1068h10M2880 1068h10M2970 1068h10M3150 1068h10M3560 1068h10M3330 1161h10M3750 1254h10M3270 1347h10M2210 1439h20M2100 1486h10M2780 1486h10M1970 1509h10M1980 1532h10M2020 1532h10M2180 1532h10M1940 1578h10M2140 1601h10M2000 1694h10M2100 1694h10M2180 1694h10M1960 1717h10" stroke="#f0a860"/>
<path d="M2180 837h10M2050 883h10M2740 1068h10M3770 1068h10M3140 1532h10M3600 1555h10M2980 1601h10M2230 1671h10M3730 1694h10" stroke="#d87848"/>
<path d="M2320 883h10M3010 883h10M3230 883h10M2670 906h10M2400 999h10M3390 1161h10M2910 1208h10M2770 1277h10M2130 1323h10M3580 1323h10M2020 1370h10M2420 1370h10M2500 1370h20M2550 1370h20M2720 1370h10M2750 1370h10M2800 1370h10M2890 1370h20M2930 1370h10M2970 1370h10M3010 1370h10M3040 1370h10M3080 1370h10M3140 1370h10M3200 1370h10M3260 1370h10M3290 1370h10M3320 1370h10M3370 1370h10M3490 1370h10M3520 1370h10M3600 1370h10M3650 1370h10M3670 1370h10M3690 1370h10M3720 1370h20M3770 1370h10M3790 1370h10M3840 1370h10M2080 1393h10M2410 1393h10M2490 1393h10M2530 1393h10M2650 1393h10M2730 1393h10M2850 1393h10M2980 1393h10M3000 1393h10M3070 1393h10M3090 1393h10M3140 1393h10M3180 1393h10M3210 1393h10M3320 1393h10M3380 1393h10M3590 1393h10M3680 1393h10M3840 1393h10M2080 1416h10M2110 1416h10M2280 1416h10M2320 1416h10M2430 1416h10M2490 1416h10M2510 1416h10M2530 1416h20M2760 1416h10M2800 1416h10M2860 1416h10M2890 1416h10M2960 1416h10M3010 1416h10M3090 1416h10M3150 1416h20M3200 1416h10M3290 1416h10M3410 1416h10M3550 1416h10M3610 1416h10M3730 1416h10M2270 1439h10M2380 1439h10M3170 1439h10M3290 1439h10M3400 1439h10M3530 1439h20M3750 1439h10M3840 1439h10" stroke="#a8d8f0"/>
<path d="M1950 1045h10M2020 1045h10M2090 1045h10M2260 1045h10M2290 1045h10M2320 1045h10M2410 1045h10M2500 1045h10M2600 1045h10M2660 1045h10M2790 1045h10M2900 1045h10M2940 1045h10M3050 1045h10M3070 1045h10M3270 1045h20M3610 1045h10M1990 1068h10M2090 1068h10M2230 1068h10M2980 1068h10M3710 1068h10M2020 1347h10M1980 1439h10M2040 1439h10M2130 1439h10M2140 1486h10M2140 1509h10M2160 1509h10M2190 1509h10M1940 1532h10M2040 1671h10M2080 1671h10M2780 1671h10M2070 1694h10M2230 1694h10M1980 1717h10M2070 1717h10M1980 1740h10M2060 1740h10" stroke="#f09048"/>
<path d="M2310 1045h10M2570 1045h20M2720 1045h10M2960 1045h10M3130 1045h10M3550 1045h10M3700 1045h10M3830 1045h10M2450 1068h10M2550 1068h10M2600 1068h10M2650 1068h10M2790 1068h10M3180 1068h10M3340 1068h10M3390 1068h10M3450 1068h10M3500 1068h10M3630 1068h10M3730 1068h10M3830 1068h10M3850 1068h4M2030 1092h10M2080 1092h20M2480 1092h10M2620 1092h10M2640 1092h10M2880 1092h10M2940 1092h10M2970 1092h10M3020 1092h10M3060 1092h10M3170 1092h20M3300 1092h10M3470 1092h20M3710 1092h10M3840 1092h14M2010 1115h10M2430 1115h10M2520 1115h10M2850 1115h10M3030 1115h10M3120 1115h10M3230 1115h20M3310 1115h10M3430 1115h10M3450 1115h10M3570 1115h10M2090 1138h20M2560 1138h10M2590 1138h10M2610 1138h10M2650 1138h20M2740 1138h20M2840 1138h10M2990 1138h10M3030 1138h10M3150 1138h10M3180 1138h10M3240 1138h10M3390 1138h10M3410 1138h10M3490 1138h10M3580 1138h10M3700 1138h10M3750 1138h10M3800 1138h10M2140 1161h10M2490 1161h10M2640 1161h10M2670 1161h10M2740 1161h20M2820 1161h10M3080 1161h10M3470 1161h10M3490 1161h10M1930 1184h10M2030 1184h10M2230 1184h10M2280 1184h10M2300 1184h10M2560 1184h10M2630 1184h10M2720 1184h10M2750 1184h10M2780 1184h10M2820 1184h10M2910 1184h10M3050 1184h10M3170 1184h10M3250 1184h10M3270 1184h10M3410 1184h20M3490 1184h10M3550 1184h10M3630 1184h10M2180 1208h10M2980 1208h10M3060 1208h10M3260 1208h10M3310 1208h10M3340 1208h10M3540 1208h10M3680 1208h10M3840 1208h10M1980 1231h10M2020 1231h20M2150 1231h10M2390 1231h10M2870 1231h10M2950 1231h10M3230 1231h10M3290 1231h10M1940 1254h10M1970 1254h10M2020 1254h10M2290 1254h10M2410 1254h10M2460 1254h10M2480 1254h10M2510 1254h10M2640 1254h10M2680 1254h10M2700 1254h10M2790 1254h10M3080 1254h10M3250 1254h10M3270 1254h10M3480 1254h10M2140 1277h10M2650 1277h10M3130 1277h10M2170 1300h10M2310 1300h10M2580 1300h10M2770 1300h10M2830 1300h10M3000 1300h10M3030 1300h10M3130 1300h10M3220 1300h10M2140 1323h10M2230 1323h10M2250 1323h10M2480 1323h10M2530 1323h10M2820 1323h10M2850 1323h10M2930 1323h10M3020 1323h10M3040 1323h10M3190 1323h10M3330 1323h10M3380 1323h10M3560 1323h10M3660 1323h10M3740 1323h10M3810 1323h10M1920 1347h10M2010 1347h10M2140 1347h10M2190 1347h10M2500 1347h10M2840 1347h20M2900 1347h10M2920 1347h10M3040 1347h10M3170 1347h10M3500 1347h10M3540 1347h10M3630 1347h10M3660 1347h10M3720 1347h10M3800 1347h10M3820 1347h10M1940 1370h10M1970 1370h10M2070 1370h10M2170 1370h10M2190 1370h10M3030 1370h10M1960 1393h10M2230 1393h10M2450 1393h10M3560 1393h10M3720 1393h10M2140 1416h10M2740 1416h10M3680 1416h10M2170 1439h10M2870 1439h10M2920 1439h10M2960 1439h10M3010 1439h20M3050 1439h10M3080 1439h10M3520 1439h10M3620 1439h10M3650 1439h10M3710 1439h10M3780 1439h10M1980 1462h10M2160 1462h10M2210 1462h10M2230 1462h10M2300 1462h10M2370 1462h10M2610 1462h20M2910 1462h20M3150 1462h10M3440 1462h10M3490 1462h10M3520 1462h10M3620 1462h10M1950 1486h10M2040 1486h10M2060 1486h10M2260 1486h10M2330 1486h10M2370 1486h10M2540 1486h10M2590 1486h10M2620 1486h10M2790 1486h20M2960 1486h10M2990 1486h10M3290 1486h10M3390 1486h10M3730 1486h10M1960 1509h10M2310 1509h10M2370 1509h10M2410 1509h10M2490 1509h10M2740 1509h10M2890 1509h10M2940 1509h10M3080 1509h10M3260 1509h10M3300 1509h10M3320 1509h10M3380 1509h10M3420 1509h10M3540 1509h10M3840 1509h10M1970 1532h10M2010 1532h10M2070 1532h10M2390 1532h10M2530 1532h10M2660 1532h10M2880 1532h10M3130 1532h10M3420 1532h10M3470 1532h10M3560 1532h10M3600 1532h10M3730 1532h10M3830 1532h20M2150 1555h10M2180 1555h10M2470 1555h10M2490 1555h10M2640 1555h10M2720 1555h10M2790 1555h10M2810 1555h10M2860 1555h10M3170 1555h10M3330 1555h10M3370 1555h10M3430 1555h10M3590 1555h10M3640 1555h10M3720 1555h10M3740 1555h30M3800 1555h10M3820 1555h10M1930 1578h10M2170 1578h20M2370 1578h10M2460 1578h10M2610 1578h10M2660 1578h10M2730 1578h10M2770 1578h10M2820 1578h10M2840 1578h10M3070 1578h10M3170 1578h10M3220 1578h10M3270 1578h10M3370 1578h10M3410 1578h10M3630 1578h10M3730 1578h10M3770 1578h10M2020 1601h10M2150 1601h10M2440 1601h10M2500 1601h10M2550 1601h10M2590 1601h10M2730 1601h20M2850 1601h10M3040 1601h10M3060 1601h10M3160 1601h10M3220 1601h10M3450 1601h10M3620 1601h10M3750 1601h20M3820 1601h10M1920 1625h10M2160 1625h10M2250 1625h10M2360 1625h10M2400 1625h10M2420 1625h10M2450 1625h10M2500 1625h10M2570 1625h10M2800 1625h10M2830 1625h20M2940 1625h10M2960 1625h10M3060 1625h10M3220 1625h10M3330 1625h10M3360 1625h10M3390 1625h10M3410 1625h20M3460 1625h10M3480 1625h10M3530 1625h10M3610 1625h10M3690 1625h10M3710 1625h10M3840 1625h10M1960 1648h10M2530 1648h10M2560 1648h10M2600 1648h10M2720 1648h10M2800 1648h10M2920 1648h10M3230 1648h10M3280 1648h10M3770 1648h20M1930 1671h20M2220 1671h10M2490 1671h10M2650 1671h10M2810 1671h10M2840 1671h10M3070 1671h10M3130 1671h10M3220 1671h10M3250 1671h10M3350 1671h10M3540 1671h10M3570 1671h10M3600 1671h10M3800 1671h10M2110 1694h20M2440 1694h10M2490 1694h10M2810 1694h10M2860 1694h10M2880 1694h10M2950 1694h10M2970 1694h10M3180 1694h10M3270 1694h20M3410 1694h10M3450 1694h10M3490 1694h10M3520 1694h20M3570 1694h10M3600 1694h10M3700 1694h10M3770 1694h10M1920 1717h10M2170 1717h10M2230 1717h10M2290 1717h10M2360 1717h10M2380 1717h10M2470 1717h10M2510 1717h10M2740 1717h10M2860 1717h10M2880 1717h10M2990 1717h10M3050 1717h10M3130 1717h10M3290 1717h20M3320 1717h10M3490 1717h10M3760 1717h10M3840 1717h10M1930 1740h10M2230 1740h10M2400 1740h10M2650 1740h10M2690 1740h10M2710 1740h10M2790 1740h20M3110 1740h20M3180 1740h10M3390 1740h10M3700 1740h10" stroke="#d8a890"/>
<path d="M2440 1045h10M2490 1045h10M3210 1045h10M3780 1045h10M3840 1045h10M2430 1068h10M3230 1068h10M3310 1068h10M3410 1068h10M3210 1092h10M2040 1115h10M2070 1115h10M2700 1115h10M2140 1138h10M3400 1138h10M2170 1184h10M2150 1208h10M2120 1231h10M2140 1254h10M3630 1300h10M3290 1323h10M2200 1347h10M2750 1347h10M2220 1393h10M1930 1462h10M2200 1486h10M2030 1509h10M2450 1509h10M2540 1509h10M3800 1532h10M2040 1555h30M3120 1555h10M3270 1555h10M2150 1578h10M3580 1578h10M2090 1601h10M2230 1601h10M2210 1625h10M2460 1625h10M3300 1625h10M3640 1625h10M3640 1648h10M2010 1671h10M2120 1671h10M2170 1671h20M2190 1694h10M3720 1694h10M2060 1717h10M2200 1740h10M2620 1740h10" stroke="#d8c090"/>
<path d="M2710 1045h10M2990 1045h10M2290 1092h10M2450 1092h10M2540 1092h10M2710 1092h10M2990 1092h10M2600 1115h10M2920 1115h10M3000 1115h10M3090 1115h10M3140 1115h10M2510 1138h10M2770 1138h10M3090 1138h10M3630 1138h10M3160 1161h10M3560 1161h10M3750 1161h10M2470 1208h10M2680 1208h10M2780 1208h10M3440 1208h20M3330 1231h10M3630 1231h10M3840 1231h10M2320 1254h10M2630 1254h10M3540 1254h10M2890 1277h10M3600 1277h10M3820 1277h10M2400 1300h10M3040 1300h10M3200 1300h10M3250 1300h10M3590 1300h10M2300 1323h10M2450 1323h10M2620 1323h10M3450 1323h10M3520 1323h10M2460 1347h10M3050 1347h10M2540 1370h10M2390 1416h10M2700 1416h10M2180 1439h10M3850 1439h4M2900 1462h10M3040 1462h10M3280 1462h10M3700 1462h20M2420 1486h10M2720 1486h10M2850 1486h10M3380 1486h10M3500 1486h10M3030 1509h10M3850 1532h4M3670 1555h10M2130 1578h10M2750 1578h10M3100 1578h10M3620 1578h10M3070 1601h10M3400 1601h10M3570 1601h10M3600 1601h10M2590 1625h10M2930 1625h10M2120 1648h10M3070 1648h10M3410 1648h10M3670 1648h10M3690 1648h10M2680 1671h10M3340 1671h10M3420 1671h10M3560 1671h10M3710 1671h10M2900 1694h10M3310 1694h10M3440 1694h10M2430 1717h10M2320 1740h10M2410 1740h10M2540 1740h10M3530 1740h10" stroke="#c0c0a8"/>
<path d="M2840 1045h10M3080 1045h20M2720 1068h10M3140 1068h10M3440 1068h10M2520 1092h10M2560 1092h10M2670 1092h10M2750 1092h10M2980 1092h10M3000 1092h10M3070 1092h10M3390 1092h10M2360 1115h10M2500 1115h10M2550 1115h10M2780 1115h10M3160 1115h10M3340 1115h10M3480 1115h10M3560 1115h10M2330 1138h10M2550 1138h10M2880 1138h10M3070 1138h10M3120 1138h10M3550 1138h10M3650 1138h10M3720 1138h10M2320 1161h10M2370 1161h10M2570 1161h10M3050 1161h10M2370 1184h10M3090 1184h10M3240 1184h10M3280 1184h10M3650 1184h10M2840 1208h10M3020 1208h10M3080 1208h10M3170 1208h10M3560 1208h10M2470 1231h10M2880 1231h10M2930 1231h10M3140 1231h10M3180 1231h10M3830 1231h10M2560 1254h10M2990 1254h10M3210 1254h10M3310 1254h10M3370 1254h10M3720 1254h10M3840 1254h10M3090 1277h10M3340 1277h10M2090 1300h10M2610 1300h10M3120 1300h10M3270 1300h10M3720 1300h10M2330 1323h10M2600 1323h10M2910 1323h10M2950 1323h10M2990 1323h10M3180 1323h10M3300 1323h10M3600 1323h10M3680 1323h10M3770 1323h10M2540 1347h10M2650 1347h10M2800 1347h10M2830 1347h10M3090 1347h20M3130 1347h10M3260 1347h10M3370 1347h10M3430 1347h10M3510 1347h10M3700 1347h10M2590 1370h10M2880 1393h10M3830 1393h10M2610 1416h10M2330 1439h10M2900 1439h10M2940 1439h10M3280 1439h10M3820 1439h10M2200 1462h10M2730 1462h10M2800 1462h10M2930 1462h10M3100 1462h10M3170 1462h20M3350 1462h10M3570 1462h10M3650 1462h10M3680 1462h10M3720 1462h10M2300 1486h10M2430 1486h10M2630 1486h10M3080 1486h10M3350 1486h10M3470 1486h10M3530 1486h10M3670 1486h10M3790 1486h10M3820 1486h10M2260 1509h10M2320 1509h10M2480 1509h10M2500 1509h10M2610 1509h10M2680 1509h10M2800 1509h10M3010 1509h10M3050 1509h10M3160 1509h10M3340 1509h10M3500 1509h10M3580 1509h10M3620 1509h10M2270 1532h10M2370 1532h10M2700 1532h10M2760 1532h10M2910 1532h10M3090 1532h10M3110 1532h10M3410 1532h10M3510 1532h10M3540 1532h10M3650 1532h20M3780 1532h10M2140 1555h10M2170 1555h10M2690 1555h10M2850 1555h10M2870 1555h10M2890 1555h10M3470 1555h10M2640 1578h10M2910 1578h10M2930 1578h10M2960 1578h10M2990 1578h10M3010 1578h10M3110 1578h10M3330 1578h10M3460 1578h10M3490 1578h10M3700 1578h20M3780 1578h10M1970 1601h10M2060 1601h10M2560 1601h10M3080 1601h10M3370 1601h10M3460 1601h20M3520 1601h10M3690 1601h10M3840 1601h10M2020 1625h10M2170 1625h10M2560 1625h10M2710 1625h10M2750 1625h10M2810 1625h10M3020 1625h10M3080 1625h10M3400 1625h10M3560 1625h10M2200 1648h10M2330 1648h10M2380 1648h10M2440 1648h10M2590 1648h10M2730 1648h10M2810 1648h10M2980 1648h10M3300 1648h10M3750 1648h10M3820 1648h10M2270 1671h10M2370 1671h10M2480 1671h10M2560 1671h20M2590 1671h10M2690 1671h20M2820 1671h10M2860 1671h20M2910 1671h10M2930 1671h10M3030 1671h10M3230 1671h10M3490 1671h10M3510 1671h10M3750 1671h10M3770 1671h10M3790 1671h10M2220 1694h10M2380 1694h10M2560 1694h10M2790 1694h10M2890 1694h10M2980 1694h10M3430 1694h10M3610 1694h10M3680 1694h10M3810 1694h10M2090 1717h10M2270 1717h10M2460 1717h10M2700 1717h10M2890 1717h10M2940 1717h10M3150 1717h10M3640 1717h10M2100 1740h10M2570 1740h10M2840 1740h10M2870 1740h10M3020 1740h10M3340 1740h10M3410 1740h10M3470 1740h10M3650 1740h10M3780 1740h10M3820 1740h10" stroke="#d89090"/>
<path d="M3100 1045h10M2850 1068h10M2010 1092h10M2360 1092h10M2660 1092h10M2820 1092h10M2850 1092h10M2930 1092h10M3050 1092h10M3410 1092h10M3430 1092h10M2030 1115h10M2100 1115h20M2280 1115h10M2690 1115h10M2890 1115h10M2950 1115h10M3180 1115h10M3530 1115h20M3630 1115h10M2010 1138h10M2190 1138h10M2270 1138h10M2290 1138h10M2370 1138h20M2420 1138h10M2920 1138h10M3680 1138h10M2080 1161h10M2220 1161h10M2360 1161h10M2420 1161h10M2800 1161h10M2840 1161h10M2880 1161h10M2940 1161h10M2990 1161h30M3140 1161h10M3270 1161h10M3340 1161h10M3420 1161h10M3550 1161h10M3570 1161h10M3610 1161h20M3740 1161h10M3790 1161h10M2220 1184h10M2420 1184h10M2520 1184h10M2650 1184h10M3200 1184h10M3290 1184h10M3310 1184h10M3380 1184h10M3430 1184h10M3480 1184h10M3570 1184h10M3770 1184h10M1980 1208h10M2660 1208h10M2690 1208h10M2880 1208h10M2900 1208h10M3190 1208h10M3280 1208h20M3380 1208h10M3530 1208h10M2010 1231h10M2070 1231h10M2410 1231h10M2680 1231h10M2730 1231h10M2760 1231h10M2830 1231h10M2960 1231h10M3490 1231h10M3560 1231h10M3650 1231h10M3670 1231h10M3730 1231h10M3800 1231h10M2100 1254h30M2710 1254h10M2800 1254h10M3070 1254h10M3160 1254h10M3530 1254h10M2290 1277h10M2560 1277h10M2710 1277h10M2760 1277h10M3170 1277h10M3750 1277h10M1970 1300h10M2030 1300h10M2280 1300h10M2420 1300h10M2450 1300h10M2530 1300h10M3170 1300h10M3330 1300h10M1920 1323h10M2090 1323h10M2490 1323h10M2650 1323h10M2810 1323h10M3280 1323h10M3790 1323h10M3840 1323h10M2090 1347h10M2210 1347h10M2370 1347h20M2420 1347h10M2520 1347h10M3010 1347h10M3160 1347h10M3210 1347h10M3390 1347h10M3440 1347h10M3610 1347h10M3760 1347h20M3810 1347h10M1990 1370h10M2460 1370h10M2620 1370h10M3150 1370h10M3500 1370h10M3540 1370h10M3800 1370h10M2500 1393h10M3520 1393h10M3850 1393h4M1950 1416h10M3630 1416h10M2510 1439h10M2890 1439h10M2970 1439h10M3160 1439h10M2180 1462h10M2310 1462h10M2470 1462h10M2700 1462h10M2820 1462h10M3270 1462h10M3420 1462h10M3510 1462h10M3730 1462h10M3790 1462h10M2380 1486h10M2660 1486h10M2860 1486h10M2970 1486h10M3040 1486h10M3190 1486h10M3300 1486h10M3360 1486h10M3810 1486h10M2520 1509h20M3760 1509h10M1960 1532h10M2480 1532h10M2510 1532h10M2610 1532h10M2980 1532h10M3000 1532h10M3550 1532h10M3580 1532h10M3740 1532h10M3770 1532h10M1950 1555h10M2500 1555h10M2540 1555h10M2630 1555h10M2880 1555h10M3060 1555h10M3200 1555h20M3680 1555h10M3700 1555h10M3830 1555h10M2650 1578h10M2830 1578h10M2900 1578h10M3080 1578h10M3190 1578h10M3230 1578h10M3560 1578h10M1940 1601h10M2170 1601h10M2460 1601h10M2510 1601h10M2540 1601h10M2700 1601h10M2870 1601h10M2940 1601h10M3100 1601h10M3420 1601h10M3780 1601h10M2030 1625h10M2140 1625h10M2510 1625h10M2850 1625h10M3320 1625h10M3470 1625h10M3740 1625h10M2030 1648h10M2180 1648h10M2320 1648h10M2430 1648h10M3030 1648h10M3060 1648h10M3430 1648h20M3590 1648h10M3660 1648h10M2240 1671h10M2410 1671h10M2550 1671h10M2670 1671h10M3050 1671h10M3180 1671h20M3360 1671h10M3380 1671h10M3460 1671h10M3760 1671h10M2500 1694h10M2720 1694h10M3190 1694h10M3210 1694h10M3330 1694h10M3350 1694h10M2780 1717h10M2800 1717h10M3110 1717h10M3180 1717h10M3470 1717h10M3500 1717h10M2360 1740h10M2520 1740h10M2740 1740h10M2940 1740h10M2990 1740h10M3010 1740h10M3140 1740h10M3510 1740h10M3630 1740h20" stroke="#d8c0c0"/>
<path d="M3320 1045h10M3620 1045h10M2150 1092h10M2760 1092h10M3260 1092h10M3400 1092h10M3450 1092h10M3650 1092h10M1920 1115h10M2050 1115h10M2410 1115h10M2990 1115h10M3080 1115h10M3200 1115h10M3300 1115h10M3590 1115h10M3820 1115h10M1990 1138h10M2170 1138h10M2670 1138h10M2810 1138h10M3270 1138h10M2440 1161h10M2470 1161h10M2870 1161h10M3060 1161h10M3240 1161h10M3360 1161h10M3460 1161h10M3540 1161h10M3600 1161h10M3650 1161h10M3730 1161h10M2290 1184h10M2440 1184h10M3030 1184h10M3180 1184h10M3300 1184h10M3600 1184h10M2430 1208h10M2740 1208h10M2890 1208h10M2970 1208h10M3040 1208h10M3490 1208h10M3510 1208h10M3570 1208h10M3780 1208h10M2310 1231h10M2620 1231h10M2690 1231h10M3260 1231h10M3850 1231h4M1920 1254h10M2810 1254h10M2900 1254h10M3040 1254h10M3100 1254h10M2320 1277h10M2440 1277h10M3190 1277h10M2190 1300h10M2640 1300h10M2740 1300h10M2950 1300h10M3010 1300h10M3050 1300h10M3370 1300h20M3420 1300h10M3840 1300h10M1960 1323h10M2150 1323h10M2200 1323h10M2440 1323h10M2500 1323h10M3130 1323h10M3420 1323h10M2450 1347h10M2560 1347h10M3140 1347h10M3470 1347h10M3490 1347h10M2030 1370h10M2050 1370h10M2120 1370h10M2140 1370h10M2220 1370h10M2300 1370h10M2430 1370h10M2490 1370h10M2630 1370h10M2880 1370h10M3100 1370h10M3210 1370h10M3270 1370h10M3360 1370h10M3380 1370h10M3510 1370h10M3570 1370h10M1980 1393h20M2010 1393h10M2070 1393h10M2090 1393h10M2130 1393h10M2200 1393h10M2240 1393h10M2260 1393h10M2330 1393h10M2550 1393h10M2600 1393h10M2660 1393h10M2690 1393h10M3010 1393h10M3040 1393h10M3190 1393h10M3220 1393h20M3270 1393h10M3410 1393h10M3430 1393h10M3460 1393h10M3620 1393h10M3790 1393h10M1940 1416h10M1980 1416h10M2070 1416h10M2230 1416h10M2260 1416h10M2290 1416h10M2640 1416h20M2720 1416h10M2790 1416h10M2870 1416h10M3000 1416h10M3130 1416h10M3440 1416h10M3620 1416h10M3660 1416h10M3690 1416h10M3850 1416h4M2050 1439h10M2370 1439h10M2440 1439h10M2460 1439h20M2570 1439h10M2650 1439h10M2680 1439h10M2730 1439h20M2830 1439h10M2880 1439h10M2980 1439h10M3100 1439h10M3120 1439h10M3180 1439h10M3410 1439h10M3460 1439h10M3570 1439h20M3600 1439h10M3660 1439h20M3740 1439h10M3830 1439h10M2430 1462h10M2510 1462h10M2630 1462h10M2670 1462h10M2720 1462h10M3080 1462h10M3630 1462h10M2470 1486h10M2580 1486h10M3570 1486h10M3680 1486h10M3750 1486h10M2560 1509h10M2620 1509h10M3570 1509h10M2220 1532h10M2550 1532h10M2750 1532h10M2840 1532h10M2900 1532h10M3220 1532h10M3250 1532h10M3520 1532h10M3700 1532h10M2260 1555h10M2330 1555h10M2560 1555h10M2590 1555h10M2820 1555h10M2910 1555h10M3390 1555h10M3440 1555h10M3560 1555h10M2260 1578h10M2570 1578h10M2850 1578h10M2890 1578h10M3680 1578h10M2430 1601h10M2450 1601h10M2650 1601h10M2750 1601h10M3250 1601h10M3360 1601h10M2280 1625h10M2390 1625h10M2440 1625h10M2680 1625h10M2730 1625h10M3140 1625h10M3340 1625h10M3490 1625h10M3770 1625h10M2510 1648h10M2930 1648h10M3050 1648h10M2440 1671h10M2510 1671h10M2370 1694h10M2690 1694h10M3170 1694h10M3380 1694h10M3840 1694h10M2420 1717h10M2630 1717h10M2790 1717h10M3260 1717h10M3380 1717h10M3440 1717h10M3520 1717h10M2040 1740h10M2500 1740h10M2590 1740h10M2680 1740h10M2960 1740h10M3150 1740h10M3200 1740h10M3290 1740h10M3430 1740h10M3740 1740h10M3790 1740h10M3840 1740h10" stroke="#c0c0c0"/>
<path d="M3560 1045h10M3160 1092h10M3060 1138h10M2360 1323h10M2950 1347h10M3740 1393h10M2090 1416h10M2240 1439h10M2540 1439h10M3640 1439h10M3370 1486h10M3460 1532h10M3350 1648h10M2940 1671h10" stroke="#c0a890"/>
<path d="M2280 1068h10M3390 1115h10M2690 1161h10M2900 1486h10M3360 1509h10M2450 1578h10M2210 1694h10M2730 1694h10M3020 1694h10M3670 1694h10" stroke="#f07860"/>
<path d="M2590 1068h10M2790 1092h10M2950 1092h10M3460 1092h10M3500 1092h10M3540 1092h10M3700 1092h10M3780 1092h10M2290 1115h10M2680 1115h10M2710 1115h10M2790 1115h10M2840 1115h10M2960 1115h10M3060 1115h10M3380 1115h10M3710 1115h10M3730 1115h10M3770 1115h10M2500 1138h10M3470 1138h10M3770 1138h10M3830 1138h10M2550 1161h10M2650 1161h10M2720 1161h10M2810 1161h10M1950 1184h10M2080 1184h10M2470 1184h10M2510 1184h10M2550 1184h10M2700 1184h10M2960 1184h20M3000 1184h10M3500 1184h10M3520 1184h10M2360 1208h10M2410 1208h10M2600 1208h10M2630 1208h10M2810 1208h10M2830 1208h10M2920 1208h10M3520 1208h10M3640 1208h10M3830 1208h10M3770 1231h10M2420 1254h10M2820 1254h10M2890 1254h10M3200 1254h10M3260 1254h10M3570 1254h10M3120 1277h10M2700 1300h10M3100 1300h10M2670 1323h10M2830 1323h10M2860 1323h10M3160 1323h10M3310 1323h10M3370 1323h10M3620 1323h10M3760 1323h10M2480 1347h10M2530 1347h10M2960 1347h10M2990 1347h10M3350 1347h10M3550 1347h10M3710 1347h10M2040 1370h10M2670 1370h10M1970 1393h10M2390 1393h10M2890 1393h10M3110 1393h10M3300 1393h10M3500 1393h10M1920 1416h10M2330 1416h10M2670 1416h10M3510 1416h20M3830 1416h10M2260 1439h10M2500 1439h10M2560 1439h10M2600 1439h20M2640 1439h10M2690 1439h10M2710 1439h10M2760 1439h10M2820 1439h10M3090 1439h10M3110 1439h10M3150 1439h10M3240 1439h10M3300 1439h10M3340 1439h10M3370 1439h20M3440 1439h10M3480 1439h10M3630 1439h10M3720 1439h10M3800 1439h10M2030 1462h10M3140 1462h10M3470 1462h10M3560 1462h10M3810 1462h10M2530 1486h10M2760 1486h10M2920 1486h10M3070 1486h10M3240 1486h10M3340 1486h10M3000 1509h10M3440 1509h10M2410 1532h10M2790 1532h10M3330 1532h10M3370 1532h10M3500 1532h10M3680 1532h10M2710 1555h10M2990 1555h10M3310 1555h10M2060 1578h10M2440 1578h10M2480 1578h10M2940 1578h10M3470 1578h10M3520 1578h10M3810 1578h10M2630 1601h10M2860 1601h10M2930 1601h10M3300 1601h10M3490 1601h10M3670 1601h10M3720 1601h10M3070 1625h10M3290 1625h10M3510 1625h10M3580 1625h10M3830 1625h10M2360 1648h10M2450 1648h10M2910 1648h10M3180 1648h10M3240 1648h10M2100 1671h10M2400 1671h10M2890 1671h10M2030 1694h10M2060 1694h10M2270 1694h10M2580 1694h10M2940 1694h10M3010 1694h10M3060 1694h10M3100 1694h10M3130 1694h10M3240 1694h10M3290 1694h10M3780 1694h10M2440 1717h10M2640 1717h10M2900 1717h10M3360 1717h10M3620 1717h20M3770 1717h10M3800 1717h10M2580 1740h10M3000 1740h10M3090 1740h10M3220 1740h10M3250 1740h10" stroke="#c09090"/>
<path d="M2460 1092h10M2800 1092h10M3370 1092h20M3050 1115h10M3270 1115h10M2460 1138h10M3370 1138h10M2590 1161h10M2930 1161h10M3690 1161h10M2670 1184h10M2870 1184h10M3770 1208h10M2610 1277h10M2410 1300h10M2760 1300h10M2410 1323h10M2540 1323h10M3080 1323h10M3110 1323h10M3830 1323h10M2470 1347h10M3020 1347h10M3320 1347h10M3380 1347h10M3830 1347h10M2800 1393h10M2080 1439h10M2480 1439h10M2620 1439h10M3430 1439h10M3050 1462h10M3090 1462h10M3130 1462h10M2640 1486h10M3030 1486h10M3280 1486h10M3740 1486h10M3840 1486h10M2360 1509h10M2430 1509h10M2780 1509h10M2960 1509h10M3060 1509h10M3660 1509h10M3780 1509h10M2360 1532h10M2460 1532h10M2740 1532h10M3300 1532h10M3320 1532h10M3400 1532h10M3360 1555h10M3400 1555h10M2620 1578h20M3140 1578h10M3850 1578h4M2280 1601h10M2390 1601h10M2690 1601h10M2720 1601h10M2760 1601h10M2910 1601h10M3650 1601h10M2650 1625h10M2880 1625h10M3200 1625h10M3440 1625h10M3670 1625h10M3790 1625h10M3370 1648h10M3730 1648h10M2920 1671h10M3110 1671h10M2450 1694h10M2490 1717h10M2830 1717h10M2950 1717h10M3810 1717h10M3210 1740h10M3520 1740h10" stroke="#c06060"/>
<path d="M2700 1092h10M3550 1115h10M3050 1138h10M3140 1138h10M3480 1161h10M3190 1184h10M3740 1184h10M2670 1208h10M2530 1231h10M2490 1300h10M2370 1323h10M2880 1347h10M2610 1393h10M3040 1439h10M3060 1439h10M2390 1509h10M2620 1532h10M2770 1555h10M2920 1555h10M3380 1555h10M3320 1578h10M3390 1578h10M3790 1578h10M2970 1601h10M2860 1625h10M3700 1625h10M3650 1671h10M2400 1694h10M3260 1740h10" stroke="#c07890"/>
<path d="M2890 1092h10M3310 1092h10M3670 1092h10M2630 1115h10M3170 1115h10M3500 1115h10M2860 1138h10M2960 1138h10M3800 1161h10M1980 1184h10M2990 1184h10M3730 1184h10M2450 1208h10M3140 1208h10M3600 1208h10M3790 1208h10M3050 1231h10M2370 1254h10M3290 1254h10M3620 1254h10M3700 1254h10M3810 1254h10M3850 1254h4M3100 1277h10M2600 1300h10M3620 1300h10M2280 1323h10M2850 1370h20M3060 1370h10M3230 1370h10M3590 1370h10M3710 1370h10M3750 1370h10M2570 1393h10M2720 1393h10M2790 1393h10M2910 1393h10M3050 1393h10M3200 1393h10M3710 1393h10M2200 1416h10M2240 1416h10M2410 1416h10M2450 1416h10M2550 1416h10M2590 1416h10M2660 1416h10M2710 1416h10M2880 1416h10M3050 1416h10M3240 1416h10M3380 1416h10M3480 1416h10M3720 1416h10M2320 1439h10M3450 1439h10M3470 1439h10M3500 1439h20M3770 1439h10M3810 1439h10M2540 1462h10M3580 1462h10M3670 1462h10M3770 1462h20M3850 1462h4M2360 1486h10M3020 1486h10M2250 1532h10M2470 1532h10M2810 1532h10M3010 1532h10M3710 1532h10M2250 1555h10M2360 1555h10M2380 1555h10M3150 1555h10M2390 1578h10M3040 1578h10M2260 1601h10M2370 1601h10M2610 1601h10M3030 1601h10M3030 1625h10M3630 1648h10M2960 1671h10M3100 1671h10M3670 1671h10M2420 1694h10M3390 1694h10M3480 1694h10M2530 1717h10M2570 1717h10M2490 1740h10M2820 1740h10M3270 1740h10" stroke="#c0a8c0"/>
<path d="M3240 1092h10M2380 1115h10M2460 1115h10M2650 1115h10M2820 1115h10M3370 1115h10M3520 1115h10M3690 1115h10M2360 1138h10M2490 1138h10M2790 1138h20M2850 1138h10M2870 1138h10M3250 1138h10M2780 1161h10M3370 1161h10M2570 1184h10M2790 1184h10M2930 1184h10M2950 1184h10M3010 1184h10M3060 1184h10M3360 1184h10M3460 1184h20M3760 1184h10M3740 1208h10M3590 1231h20M2400 1254h10M2500 1300h10M3310 1300h10M3700 1300h10M2400 1323h10M2690 1323h10M2760 1323h10M3210 1323h10M3630 1323h10M2440 1347h10M2490 1347h10M2890 1347h10M3110 1347h10M3300 1347h10M3450 1347h10M3740 1347h10M3850 1347h4M3000 1439h10M3690 1439h10M3760 1439h10M3790 1439h10M3060 1462h10M3210 1462h10M3230 1462h10M3340 1462h10M2090 1486h10M2450 1486h10M2510 1486h10M2550 1486h10M2600 1486h10M2730 1486h10M2770 1486h10M2980 1486h10M3050 1486h10M3130 1486h10M3170 1486h10M3210 1486h10M3620 1486h10M3850 1486h4M2440 1509h10M2550 1509h10M2700 1509h10M2790 1509h10M3200 1509h10M3530 1509h10M3690 1509h10M2000 1532h10M2500 1532h10M2560 1532h10M2870 1532h10M2940 1532h10M3280 1532h10M3340 1532h10M3590 1532h10M2480 1555h10M2970 1555h10M3460 1555h10M2500 1578h10M2760 1578h10M2790 1578h10M2810 1578h10M3690 1578h10M2400 1601h10M2580 1601h10M3170 1601h10M3200 1601h10M3410 1601h10M3850 1601h4M2330 1625h10M2720 1625h10M3040 1625h10M3650 1625h10M3800 1625h10M3850 1625h4M3080 1648h10M3550 1648h10M2360 1671h10M2450 1671h10M2830 1671h10M3410 1671h10M3550 1671h10M3780 1671h10M3810 1671h10M2700 1694h10M2770 1694h10M2840 1694h10M3040 1694h10M3500 1694h10M3550 1694h10M2500 1717h10M2670 1717h20M2920 1717h10M2970 1717h10M3230 1717h10M3460 1717h10M3610 1717h10M3660 1717h10M3780 1717h10M2760 1740h10M3580 1740h10" stroke="#d86060"/>
<path d="M3320 1092h10M3510 1161h10M2450 1439h10" stroke="#a87890"/>
<path d="M3760 1092h10M3810 1115h10M2190 1254h10M3730 1671h10" stroke="#d8f0f0"/>
<path d="M3280 1115h10M2760 1138h10M2430 1161h10M2310 1254h10M2960 1254h10M3150 1254h10M3480 1277h10M3560 1277h10M2820 1300h10M2880 1300h10M3480 1300h10M3490 1323h10M2330 1347h10M3280 1347h10M2620 1416h10M2020 1439h10M2700 1439h10M2780 1439h10M2810 1439h10M2740 1486h10M2440 1532h10M3720 1532h10M3260 1555h10M3650 1578h10M2330 1601h10M2600 1601h10M2770 1601h10M3680 1601h10M2270 1625h10M2540 1648h10M2760 1648h10M2850 1671h10M3200 1671h10M2520 1694h10M3690 1694h10M2460 1740h10M2600 1740h10" stroke="#c0a8a8"/>
<path d="M3650 1115h10M3020 1370h10M3110 1416h10M3220 1416h10M3270 1416h10M2530 1439h10M3610 1671h10M2920 1740h10" stroke="#a8a8c0"/>
<path d="M2690 1138h10M3830 1184h10M2910 1254h10M2980 1323h10M3500 1323h10M2570 1347h10M2760 1347h10M3260 1486h10M3450 1532h10M3280 1555h10M2410 1601h10M3320 1694h10M3250 1717h10" stroke="#c04860"/>
<path d="M3360 1138h10" stroke="#d84848"/>
<path d="M2620 1184h10M3800 1323h10" stroke="#c04848"/>
<path d="M2030 1277h10M3230 1300h10M2010 1370h10M2270 1370h10M2400 1370h10M2810 1370h10M3250 1370h10M3550 1370h20M3610 1370h10M3850 1370h4M2280 1393h10M2510 1393h20M2540 1393h10M2700 1393h20M2810 1393h30M2900 1393h10M3060 1393h10M3130 1393h10M3540 1393h20M3600 1393h10M3780 1393h10M2400 1416h10M2440 1416h10M2480 1416h10M2850 1416h10M2900 1416h10M3360 1416h20M3390 1416h10M3640 1416h20M3770 1416h10M2400 1439h10M2520 1439h10M3390 1439h10M3590 1439h10M2550 1555h10" stroke="#a8d8d8"/>
<path d="M2480 1300h10M2550 1347h10M2740 1671h10M3080 1717h10" stroke="#c06048"/>
<path d="M3710 1323h10M2430 1347h10M3570 1740h10" stroke="#c04830"/>
<path d="M1960 1347h10M3060 1532h10M3130 1555h10" stroke="#d87878"/>
<path d="M1930 1370h10M2160 1370h10M3280 1370h10M3620 1370h10M2760 1393h10M3250 1393h10M3670 1393h10M3170 1416h10" stroke="#a8c0d8"/>
<path d="M2870 1370h10M3330 1370h10M2030 1416h10M2840 1416h10M3420 1416h10M3670 1416h10" stroke="#90c0d8"/>
<path d="M3650 1393h10M2000 1416h10" stroke="#a8c0c0"/>
<path d="M2130 1416h10M2820 1416h10M2390 1439h10M2670 1439h10" stroke="#a8a8a8"/>
<path d="M2290 1439h10" stroke="#a890a8"/>
<path d="M2800 1439h10M3310 1486h10M2720 1532h10M2790 1625h10M3380 1625h10M2390 1694h10" stroke="#c07860"/>
</g></g>
<line x1="224.4" y1="38.5" x2="224.4" y2="175.2" stroke="#fff" stroke-width="0.6" stroke-opacity="0.85"/>
<line x1="233.2" y1="38.5" x2="233.2" y2="175.2" stroke="#fff" stroke-width="0.6" stroke-opacity="0.85"/>
<line x1="236.1" y1="38.5" x2="236.1" y2="175.2" stroke="#fff" stroke-width="0.6" stroke-opacity="0.85"/>
<line x1="273.8" y1="38.5" x2="273.8" y2="175.2" stroke="#fff" stroke-width="0.6" stroke-opacity="0.85"/>
<line x1="314.3" y1="38.5" x2="314.3" y2="175.2" stroke="#fff" stroke-width="0.6" stroke-opacity="0.85"/>
<text x="178.20" y="45.80" font-size="7.6" text-anchor="end" stroke="#111" stroke-width="0.1">CXCL3</text>
<text x="178.20" y="52.70" font-size="7.6" text-anchor="end" stroke="#111" stroke-width="0.1">CXCL1</text>
<text x="178.20" y="60.00" font-size="7.6" text-anchor="end" stroke="#111" stroke-width="0.1">CCL2</text>
<text x="178.20" y="66.20" font-size="7.6" text-anchor="end" stroke="#111" stroke-width="0.1">CXCL8</text>
<text x="178.20" y="73.90" font-size="7.6" text-anchor="end" stroke="#111" stroke-width="0.1">CCL20</text>
<text x="178.20" y="82.20" font-size="7.6" text-anchor="end" stroke="#111" stroke-width="0.1">IL11</text>
<text x="178.20" y="89.80" font-size="7.6" text-anchor="end" stroke="#111" stroke-width="0.1">CXCL2</text>
<text x="178.20" y="96.90" font-size="7.6" text-anchor="end" stroke="#111" stroke-width="0.1">CXCL10</text>
<text x="178.20" y="104.40" font-size="7.6" text-anchor="end" stroke="#111" stroke-width="0.1">CXCL6</text>
<path d="M180.6 43.1L190.2 41.6M180.6 50.0L190.2 43.2M180.6 57.3L190.2 45.0M180.6 63.5L190.2 47.0M180.6 71.2L190.2 70.3M180.6 79.5L190.2 79.5M180.6 87.1L190.2 82.8M180.6 94.2L190.2 84.6M180.6 101.7L190.2 86.3" stroke="#111" stroke-width="1.15" fill="none"/>
<defs><linearGradient id="gRd" x1="0" x2="1" y1="0" y2="0"><stop offset="0" stop-color="#313695"/><stop offset="0.15" stop-color="#4575b4"/><stop offset="0.3" stop-color="#9ccfe6"/><stop offset="0.4" stop-color="#c4e4ee"/><stop offset="0.48" stop-color="#d9eed4"/><stop offset="0.55" stop-color="#eef2bc"/><stop offset="0.65" stop-color="#fddc8a"/><stop offset="0.75" stop-color="#f9a55c"/><stop offset="0.85" stop-color="#e85a3a"/><stop offset="0.93" stop-color="#cc2a28"/><stop offset="1" stop-color="#a8142a"/></linearGradient></defs>
<rect x="276" y="191.6" width="43.2" height="4.6" fill="url(#gRd)"/>
<text x="265.90" y="188.90" font-size="7.9" textLength="61.00" lengthAdjust="spacingAndGlyphs" stroke="#111" stroke-width="0.32">scRNA-seq expression</text>
<text x="268.60" y="203.40" font-size="7.2" stroke="#111" stroke-width="0.1">-2</text>
<text x="318.20" y="203.40" font-size="7.2" stroke="#111" stroke-width="0.1">2</text>
<text x="7.60" y="224.20" font-size="10" font-weight="bold" fill="#000">C</text>
<g transform="translate(0 .5)" fill="none" stroke-width="1">
<path d="M67 239h1m1 0h1m6 0h1m-11 1h1m6 0h1m1 0h1m1 0h1h1m-18 1h1m7 0h1m8 0h1m-20 1h1m1 0h1m1 0h1m5 0h1h1m1 0h1m6 0h1h1m-24 1h1m1 0h1h1m1 0h1m1 0h1m8 0h1m3 0h1m1 0h1h1m-29 1h1m2 0h1h1h1h1m2 0h1m3 0h1m1 0h1h1m3 0h1h1m1 0h1h1m2 0h1m1 0h1h1m-30 1h1m4 0h1h1m2 0h1m3 0h1h1h1m6 0h1m2 0h1m1 0h1m2 0h1m-29 1h1h1m4 0h1m5 0h1m2 0h1m9 0h1m1 0h1m1 0h1m-37 1h1h1h1h1m3 0h1m4 0h1m4 0h1m3 0h1m3 0h1h1m1 0h1h1m6 0h1m-39 1h1m3 0h1m3 0h1m2 0h1m5 0h1m1 0h1h1m1 0h1m1 0h1m1 0h1h1m1 0h1m1 0h1h1h1m1 0h1m-38 1h1m9 0h1m5 0h1m1 0h1m2 0h1m1 0h1m5 0h1m1 0h1h1m4 0h1h1m-41 1h1m4 0h1m4 0h1h1m9 0h1m1 0h1m4 0h1m6 0h1h1m2 0h1m-26 1h1m12 0h1m1 0h1h1m2 0h1m1 0h1m1 0h1m2 0h1m-39 1h1m1 0h1m1 0h1h1m4 0h1m7 0h1m11 0h1m2 0h1m1 0h1m2 0h1m-33 1h1m3 0h1m1 0h1h1m9 0h1m2 0h1m1 0h1m5 0h1m-37 1h1m13 0h1m6 0h1m3 0h1m4 0h1m4 0h1m2 0h1m-40 1h1m3 0h1h1m3 0h1m7 0h1m5 0h1h1m2 0h1h1h1m3 0h1m3 0h1m1 0h1h1m-43 1h1m15 0h1m3 0h1h1m3 0h1m1 0h1m1 0h1m2 0h1m5 0h1m-29 1h1h1m4 0h1m4 0h1m2 0h1h1m2 0h1h1h1m8 0h1m-33 1h1m10 0h1h1m1 0h1m4 0h1m6 0h1m1 0h1m2 0h1m1 0h1m-22 1h1m4 0h1m5 0h1m2 0h1h1h1m2 0h1m-26 1h1m2 0h1h1m6 0h1m1 0h1h1m2 0h1m3 0h1m-29 1h1m3 0h1m8 0h1m5 0h1m3 0h1m1 0h1h1h1m1 0h1m1 0h1m-32 1h1m5 0h1m2 0h1m4 0h1h1m2 0h1h1m2 0h1m1 0h1h1m-20 1h1m7 0h1m2 0h1h1m7 0h1m-16 1h1m1 0h1h1m3 0h1m2 0h1m1 0h1m1 0h1m-4 2h1m-2 1h1m5 3h1m3 2h1m-5 1h1m1 1h1m18 0h1m-31 6h1m12 0h1m-9 1h1" stroke="#2e9a5c"/>
<path d="M72 239h1h1m2 1h1m-10 1h1m5 0h1m2 0h1m2 0h1m-18 1h1m3 0h1h1h1m4 0h1m1 0h1h1h1m-22 1h1m1 0h1m6 0h1m1 0h1h1m9 0h1m-25 1h1m5 0h1m8 0h1h1m6 0h1h1m1 0h1m2 0h1m-20 1h1m-16 1h1m2 0h1h1m6 0h1m2 0h1m1 0h1m2 0h1m2 0h1m3 0h1h1h1m-31 1h1m4 0h1m5 0h1m2 0h1m1 0h1m6 0h1h1m6 0h1h1m3 0h1m-37 1h1h1m2 0h1m15 0h1m8 0h1m-34 1h1m1 0h1m2 0h1m12 0h1m6 0h1m3 0h1m1 0h1m2 0h1m-27 1h1m19 0h1m4 0h1m5 0h1m-40 1h1h1m2 0h1h1h1m4 0h1h1m4 0h1m1 0h1m3 0h1m6 0h1h1m6 0h1m-37 1h1m1 0h1m7 0h1m8 0h1h1h1m1 0h1h1m3 0h1m6 0h1h1m1 0h1m-38 1h1m6 0h1m4 0h1m1 0h1h1m3 0h1h1m4 0h1m4 0h1h1m2 0h1m-40 1h1m3 0h1m1 0h1m5 0h1m14 0h1m1 0h1m5 0h1m5 0h1m-39 1h1m3 0h1m12 0h1m5 0h1m3 0h1m4 0h1h1m-37 1h1h1h1m2 0h1h1m2 0h1m6 0h1m3 0h1h1m4 0h1m1 0h1m4 0h1m6 0h1m-21 1h1m4 0h1m3 0h1m1 0h1m2 0h1m-33 1h1h1m3 0h1h1m5 0h1m5 0h1m7 0h1m3 0h1m1 0h1m-23 1h1m7 0h1m4 0h1m1 0h1m6 0h1m-32 1h1m4 0h1m17 0h1h1m1 0h1h1h1m2 0h1m-33 1h1m2 0h1h1m5 0h1m19 0h1m-24 1h1m4 0h1m9 0h1m6 0h1m1 0h1m-28 1h1m4 0h1m13 0h1m1 0h1m-15 1h1m2 0h1m7 0h1m3 0h1m-6 1h1m1 0h1m2 0h1m-6 1h1m12 0h1m-17 1h1m1 0h1m3 0h1m-4 1h1m4 0h1m-6 2h1m2 1h1m10 4h1m-6 1h1m-12 3h1m4 1h1m-4 1h1m5 0h1" stroke="#2e9a5c" stroke-opacity="0.70"/>
<path d="M74 239h1m-5 2h1h1m2 0h1h1m-5 1h1m2 2h1m-6 1h1m2 0h1m8 0h1m-8 1h1m6 0h1m-1 1h1h1m0 1h1h1m-2 1h1m-15 1h1m13 1h1m-17 1h1m10 0h1m-6 1h1m5 0h1m-7 1h1m4 0h1m-6 1h1m5 1h1m-9 1h1m5 0h1m-2 1h1m-7 1h1m0 3h1m3 0h1m-7 4h1m24 7h1h1m2 0h1m-7 1h1m4 0h1" stroke="#2e9a5c" stroke-opacity="0.80"/>
<path d="M65 240h1m-1 2h1m-11 1h1m7 1h1h1m1 0h1m-13 1h1m5 0h1m-10 1h1m7 0h1m-7 1h1m2 0h1h1m10 0h1m-20 1h1m5 0h1m4 0h1h1m2 0h1m-18 1h1m3 0h1m1 0h1m3 0h1m5 0h1m-21 1h1h1m1 0h1m2 0h1h1m6 0h1h1m-9 1h1m7 0h1h1m3 0h1h1m-23 2h1m4 0h1m3 0h1m3 0h1m3 0h1m2 0h1m-19 1h1m3 0h1h1m2 0h1m4 0h1h1m2 0h1h1m1 0h1h1m-26 1h1m2 0h1m10 0h1m4 0h1m-16 1h1h1m7 0h1h1m3 0h1m-19 1h1m2 0h1m4 0h1m13 0h1m2 0h1m-3 1h1m2 0h1m-17 1h1m6 0h1m-4 2h1m6 0h1m1 0h1m2 0h1m-20 1h1m1 0h1m3 0h1m4 0h1m-9 1h1m6 0h1m9 0h1m-17 1h1m1 0h1m6 0h1m-9 1h1m10 0h1m1 0h1m-5 1h1m3 2h1" stroke="#2e9a5c" stroke-opacity="0.50"/>
<path d="M69 240h1h1m1 0h1m-9 1h1h1m2 0h1m3 0h1m4 0h1m2 0h1m-17 1h1m9 0h1m-14 1h1m1 0h1m2 0h1m2 0h1h1h1h1m2 0h1h1m4 0h1m-23 1h1m2 0h1m8 0h1m-20 1h1m2 0h1m1 0h1m3 0h1m3 0h1m4 0h1h1m1 0h1m2 0h1h1m1 0h1m-30 1h1m3 0h1m3 0h1m3 0h1m3 0h1m2 0h1m2 0h1m5 0h1h1m3 0h1m-25 1h1m4 0h1m2 0h1m4 0h1m2 0h1m-23 1h1m2 0h1m1 0h1h1m2 0h1m11 0h1m7 0h1m-34 1h1h1m7 0h1h1m9 0h1h1h1m8 0h1m-36 1h1m2 0h1m6 0h1m3 0h1h1m3 0h1m1 0h1h1m5 0h1h1h1m3 0h1m-38 1h1m2 0h1h1m4 0h1m1 0h1m3 0h1m3 0h1m5 0h1m2 0h1m5 0h1m3 0h1m-40 1h1m1 0h1m6 0h1h1m1 0h1m3 0h1h1h1h1h1m9 0h1h1m2 0h1h1m-37 1h1h1m3 0h1m2 0h1h1m13 0h1m5 0h1m4 0h1h1m5 0h1h1m-33 1h1m4 0h1m3 0h1h1m5 0h1m4 0h1m2 0h1m6 0h1m-40 1h1m4 0h1m1 0h1m1 0h1h1m3 0h1h1m2 0h1m5 0h1m5 0h1m2 0h1m-36 1h1m7 0h1m2 0h1h1m10 0h1m1 0h1m7 0h1m1 0h1h1m1 0h1m1 0h1m-40 1h1m2 0h1h1m1 0h1m4 0h1h1h1m1 0h1m1 0h1h1m13 0h1h1m1 0h1m-36 1h1h1m2 0h1m1 0h1m2 0h1m2 0h1m5 0h1m2 0h1m1 0h1m2 0h1m2 0h1h1m6 0h1m-37 1h1m3 0h1h1m3 0h1m2 0h1h1m6 0h1m1 0h1m6 0h1m4 0h1m-35 1h1m7 0h1m10 0h1h1m1 0h1m9 0h1m1 0h1h1m-30 1h1m3 0h1m12 0h1m1 0h1m7 0h1m-15 1h1m4 0h1m6 0h1m-18 1h1m1 0h1m2 0h1m2 0h1h1m4 0h1m-19 1h1m9 0h1m1 0h1m6 0h1h1m-11 1h1m5 0h1m-6 1h1m1 0h1h1m-3 1h1h1m-3 1h1m2 0h1" stroke="#2e9a5c" stroke-opacity="0.85"/>
<path d="M69 248h1m-4 1h1m1 2h1m0 3h1m-5 5h1m15 0h1h1h1m-3 1h1h1m-14 1h1m14 0h1m-5 1h1h1m-1 1h1h1h1m-10 1h1m1 0h1h1m4 0h1m2 0h1m1 0h1h1m-19 1h1h1h1m7 0h1m7 0h1h1m-15 1h1m12 0h1h1m-18 1h1m6 0h1m5 0h1m1 0h1h1h1m-19 1h1m17 0h1m-25 1h1m2 0h1m7 0h1m2 0h1m2 0h1m3 0h1m-19 1h1m7 0h1m3 0h1m1 0h1m4 0h1m-17 1h1h1m8 0h1m2 0h1h1h1h1h1m-23 1h1h1m3 0h1m6 0h1m2 0h1m6 0h1m-22 1h1m1 0h1m3 0h1m2 0h1h1m13 0h1m-20 1h1m6 0h1m4 0h1m3 0h1m1 0h1m-27 1h1m6 0h1h1m2 0h1m6 0h1m1 0h1m6 0h1m-15 1h1m9 0h1m3 0h1m-29 1h1m8 0h1m5 0h1m3 0h1m1 0h1m1 0h1h1m2 0h1m-29 1h1h1m3 0h1m1 0h1m4 0h1h1m2 0h1m3 0h1m5 0h1m-28 1h1m17 0h1m6 0h1m3 0h1m-26 1h1m4 0h1h1m13 0h1m4 0h1m-30 1h1m1 0h1m10 0h1h1m11 0h1h1m-31 1h1m3 0h1m1 0h1m9 0h1m3 0h1m5 0h1m6 0h1m-27 1h1h1m1 0h1m21 0h1m1 0h1m-28 1h1m16 0h1m1 0h1m6 0h1m-40 1h1m2 0h1m11 0h1h1h1m6 0h1m4 0h1m-30 1h1h1m3 0h1h1h1m1 0h1h1m1 0h1m11 0h1m2 0h1m2 0h1m1 0h1m4 0h1m-38 1h1m13 0h1h1m1 0h1h1m2 0h1m12 0h1m4 0h1m-35 1h1m2 0h1m1 0h1m12 0h1h1m3 0h1m1 0h1m6 0h1m-31 1h1m3 0h1h1m13 0h1m1 0h1h1m2 0h1m2 0h1m-39 1h1h1m1 0h1m4 0h1h1m1 0h1m3 0h1m1 0h1m2 0h1h1m4 0h1m1 0h1h1h1m2 0h1m3 0h1m1 0h1m-47 1h1m5 0h1m1 0h1h1m6 0h1m4 0h1h1m3 0h1h1m5 0h1h1m3 0h1h1m1 0h1m1 0h1h1m1 0h1m-45 1h1m6 0h1m1 0h1m1 0h1h1h1m8 0h1m5 0h1m2 0h1m8 0h1m3 0h1m-46 1h1m1 0h1m2 0h1h1m1 0h1m2 0h1h1h1m1 0h1m3 0h1m2 0h1m4 0h1m1 0h1h1m4 0h1m4 0h1m3 0h1m-48 1h1m6 0h1m10 0h1m1 0h1m1 0h1m7 0h1m8 0h1m6 0h1m1 0h1m-39 1h1m1 0h1m2 0h1m2 0h1h1m2 0h1m4 0h1m2 0h1m-30 1h1h1m3 0h1m6 0h1m14 0h1h1m1 0h1m2 0h1h1h1h1m1 0h1m-35 1h1m2 0h1m5 0h1m9 0h1m1 0h1h1m4 0h1m4 0h1h1m3 0h1m-41 1h1m5 0h1m1 0h1m1 0h1m1 0h1m7 0h1m2 0h1m2 0h1m1 0h1h1m1 0h1m6 0h1m1 0h1m1 0h1m-43 1h1h1m8 0h1m1 0h1m1 0h1h1h1h1m7 0h1m2 0h1m7 0h1m3 0h1h1m-43 1h1m1 0h1m5 0h1m9 0h1m7 0h1m8 0h1h1m1 0h1m-31 1h1h1m13 0h1h1m4 0h1m5 0h1h1m2 0h1h1m-33 1h1m3 0h1m2 0h1m4 0h1m7 0h1m1 0h1m6 0h1m1 0h1m-34 1h1m3 0h1m3 0h1m4 0h1m8 0h1m3 0h1m3 0h1m-26 1h1m1 0h1m3 0h1m1 0h1m1 0h1h1m5 0h1m1 0h1h1m3 0h1m-12 1h1m-6 1h1m5 0h1m1 0h1m4 0h1m-10 1h1" stroke="#e8333d" stroke-opacity="0.70"/>
<path d="M64 249h1m3 1h1m1 6h1m-2 7h1" stroke="#e8333d" stroke-opacity="0.85"/>
<path d="M62 250h1m9 0h1m-3 2h1m13 7h1m-8 2h1m1 0h1m1 0h1m4 0h1m-19 1h1m10 0h1m3 0h1h1m2 0h1m-16 1h1m3 0h1m3 0h1m3 0h1m-12 1h1m0 1h1m1 0h1m4 0h1m1 0h1h1m1 0h1h1m-16 1h1m1 0h1m4 0h1m1 0h1m-11 1h1m6 0h1m-1 1h1m1 0h1m1 0h1m1 0h1m2 0h1m-19 1h1m7 0h1m5 0h1h1m2 0h1m-18 1h1m3 0h1m2 0h1m5 0h1m4 0h1m-25 1h1m5 0h1m7 0h1m11 0h1m-23 1h1m4 0h1m-10 1h1h1m4 0h1m3 0h1m5 0h1m1 0h1m3 0h1m-22 1h1m1 0h1m2 0h1h1m-7 1h1m4 0h1m6 0h1m3 0h1m5 0h1m-24 1h1h1m5 0h1h1m10 0h1m6 0h1m-25 1h1m2 0h1m1 0h1m4 0h1m11 0h1h1m2 0h1m-28 1h1m2 0h1m2 0h1h1m6 0h1m10 0h1h1m-29 1h1m1 0h1m1 0h1h1h1m5 0h1m5 0h1h1m4 0h1m-22 1h1m1 0h1h1m8 0h1m2 0h1m1 0h1m4 0h1h1m2 0h1m-13 1h1m2 0h1m7 0h1h1m-34 1h1h1m4 0h1m4 0h1m5 0h1h1m2 0h1m5 0h1m1 0h1m-27 1h1h1m3 0h1m5 0h1h1m4 0h1m1 0h1m1 0h1h1m1 0h1m-29 1h1m4 0h1m2 0h1h1h1m1 0h1m3 0h1h1m1 0h1h1m1 0h1m2 0h1m1 0h1m3 0h1m-37 1h1h1m1 0h1m3 0h1h1m10 0h1m1 0h1h1m3 0h1h1m1 0h1m-32 1h1m2 0h1h1h1m6 0h1m8 0h1m7 0h1h1m5 0h1m3 0h1m-38 1h1m4 0h1m3 0h1m10 0h1m2 0h1h1m8 0h1m-33 1h1m3 0h1m10 0h1m1 0h1m5 0h1m2 0h1m6 0h1m-44 1h1m1 0h1m8 0h1h1h1m20 0h1m6 0h1m-45 1h1h1m3 0h1h1m6 0h1m7 0h1m1 0h1m6 0h1m8 0h1m1 0h1h1m4 0h1h1m-47 1h1m2 0h1m1 0h1m2 0h1m1 0h1m1 0h1m14 0h1m2 0h1m3 0h1m3 0h1m-43 1h1m7 0h1m5 0h1m5 0h1h1m3 0h1m2 0h1m1 0h1m2 0h1m8 0h1m3 0h1m-41 1h1h1m2 0h1m8 0h1m6 0h1m1 0h1m7 0h1h1m3 0h1m3 0h1m-47 1h1m1 0h1h1h1m1 0h1h1m3 0h1m2 0h1h1m8 0h1m7 0h1h1m3 0h1m6 0h1m-44 1h1h1m1 0h1h1h1m7 0h1m11 0h1m5 0h1m1 0h1h1m4 0h1m5 0h1m-43 1h1h1h1m1 0h1m1 0h1m12 0h1m2 0h1m6 0h1m5 0h1m1 0h1m2 0h1m2 0h1m-48 1h1m25 0h1m4 0h1h1m2 0h1m4 0h1m3 0h1m1 0h1m-45 1h1m2 0h1m1 0h1m2 0h1m7 0h1h1h1m4 0h1m9 0h1h1m1 0h1m-31 1h1m1 0h1m3 0h1m9 0h1h1m3 0h1m11 0h1m-30 1h1m6 0h1m1 0h1h1m2 0h1h1h1m2 0h1h1h1m1 0h1m1 0h1m-31 1h1m8 0h1m1 0h1m6 0h1m5 0h1m8 0h1h1m-21 1h1h1m1 0h1h1m1 0h1h1m3 0h1m3 0h1m1 0h1m2 0h1m2 0h1m-35 1h1m4 0h1m8 0h1m1 0h1m-8 1h1m1 0h1m1 0h1m11 0h1m-17 1h1h1m3 0h1m3 0h1m4 0h1" stroke="#e8333d"/>
<path d="M68 253h1m3 3h1m-5 2h1" stroke="#e8333d" stroke-opacity="0.80"/>
<path d="M62 255h1m4 10h1" stroke="#e8333d" stroke-opacity="0.50"/>
<path d="M82 258h1m-3 1h1m-3 1h1m1 0h1m3 0h1h1m-6 1h1m2 0h1m-6 1h1m3 0h1m2 0h1m-11 1h1m1 0h1m1 0h1m7 0h1m-13 1h1m3 0h1m3 0h1m2 0h1m-9 1h1h1m2 0h1m-5 1h1m3 0h1h1m1 0h1m4 0h1m-21 1h1m12 0h1m2 0h1m4 0h1m-24 1h1m3 0h1m2 0h1h1m4 0h1m1 0h1m4 0h1m-17 1h1h1m4 0h1m1 0h1h1m-17 1h1m1 0h1m1 0h1m1 0h1m3 0h1m3 0h1m6 0h1m-21 1h1m2 0h1m3 0h1m2 0h1m3 0h1m8 0h1m-25 1h1m3 0h1h1m1 0h1m1 0h1h1m3 0h1h1m4 0h1h1m2 0h1h1h1m-30 1h1m3 0h1m4 0h1m3 0h1m14 0h1m1 0h1m-24 1h1m11 0h1h1h1m1 0h1h1h1m1 0h1m1 0h1m-24 1h1m11 0h1m7 0h1m-21 1h1m5 0h1m1 0h1m2 0h1m4 0h1m1 0h1m1 0h1m3 0h1m-31 1h1m1 0h1h1m2 0h1m4 0h1h1h1m1 0h1m1 0h1m-19 1h1m2 0h1m11 0h1m3 0h1h1m1 0h1m3 0h1m4 0h1m-29 1h1m1 0h1m3 0h1m7 0h1m6 0h1m2 0h1h1m-30 1h1m3 0h1m8 0h1m3 0h1m1 0h1h1m10 0h1m-23 1h1m11 0h1m2 0h1m1 0h1m3 0h1m-30 1h1m1 0h1m2 0h1h1m1 0h1m12 0h1m6 0h1m-18 1h1m4 0h1m2 0h1m7 0h1m-33 1h1h1m4 0h1m6 0h1m1 0h1h1h1m2 0h1m9 0h1m-30 1h1m1 0h1m4 0h1m1 0h1m3 0h1h1m1 0h1m11 0h1m3 0h1m-24 1h1h1m2 0h1m2 0h1h1h1m7 0h1m1 0h1m-31 1h1m1 0h1m2 0h1m1 0h1m2 0h1m18 0h1h1m4 0h1m-43 1h1h1m1 0h1m2 0h1m1 0h1m6 0h1m13 0h1m1 0h1m10 0h1h1m-41 1h1m2 0h1h1m5 0h1h1m4 0h1m3 0h1h1h1m3 0h1m4 0h1m6 0h1m-46 1h1h1h1m4 0h1m2 0h1m1 0h1m5 0h1m11 0h1m10 0h1m-41 1h1m7 0h1m3 0h1m7 0h1h1m6 0h1m3 0h1m9 0h1m1 0h1m-48 1h1m2 0h1h1m5 0h1m9 0h1h1m5 0h1m-31 1h1m1 0h1h1m10 0h1m6 0h1h1m5 0h1m1 0h1m10 0h1m3 0h1m1 0h1m-38 1h1m1 0h1m4 0h1h1m9 0h1m1 0h1m5 0h1m1 0h1m3 0h1m3 0h1m1 0h1m-50 1h1m8 0h1h1h1m4 0h1m1 0h1h1m5 0h1h1m1 0h1m5 0h1m2 0h1m6 0h1m-45 1h1h1h1m10 0h1h1m3 0h1m1 0h1h1h1m2 0h1h1m1 0h1m14 0h1h1m-42 1h1h1m4 0h1m1 0h1m7 0h1m2 0h1m1 0h1m17 0h1h1m2 0h1m-24 1h1m4 0h1h1m1 0h1m6 0h1m2 0h1m1 0h1m-38 1h1m3 0h1m1 0h1m4 0h1m5 0h1m3 0h1h1m2 0h1m5 0h1h1m-33 1h1h1m1 0h1h1m1 0h1m1 0h1h1h1m1 0h1m5 0h1h1m4 0h1m3 0h1m5 0h1m1 0h1m2 0h1m-41 1h1m2 0h1h1m10 0h1m1 0h1m6 0h1h1m-19 1h1h1h1m2 0h1m8 0h1m3 0h1m4 0h1m1 0h1m-26 1h1m3 0h1m1 0h1h1h1h1m3 0h1m3 0h1h1m5 0h1m3 0h1m-24 1h1m8 0h1m1 0h1m1 0h1m-15 1h1m1 0h1m4 0h1m1 0h1m8 0h1h1m-12 1h1m7 0h1m-8 1h1" stroke="#e8333d" stroke-opacity="0.45"/>
<path d="M39 260h1m-2 1h1h1m2 2h1m5 0h1m-10 1h1m6 0h1m7 1h1m-10 1h1m-7 2h1m-2 1h1m2 0h1" stroke="#2e9a5c" stroke-opacity="0.40"/>
<path d="M83 260h1m-6 1h1m3 0h1m-7 1h1h1m10 0h1m-11 1h1m7 0h1m-9 1h1m1 0h1h1m2 0h1m-8 1h1m7 0h1m-16 1h1m2 0h1m13 0h1m-20 1h1m4 0h1h1m5 0h1h1m-15 1h1m2 0h1m2 0h1h1m4 0h1m5 0h1m4 0h1h1m-26 1h1m3 0h1m14 0h1m4 0h1h1m-19 1h1m4 0h1m2 0h1m2 0h1h1m4 0h1h1m-24 1h1m5 0h1m7 0h1h1m-20 1h1m12 0h1m4 0h1m4 0h1m-20 1h1m12 0h1m3 0h1m1 0h1h1m-25 1h1m1 0h1m6 0h1m1 0h1h1h1h1m1 0h1m-15 1h1h1m6 0h1m4 0h1m3 0h1m1 0h1m3 0h1h1m-25 1h1h1m7 0h1m4 0h1h1h1m2 0h1m3 0h1m3 0h1m-24 1h1m9 0h1h1m3 0h1m5 0h1m-26 1h1m3 0h1m15 0h1m2 0h1m-19 1h1m1 0h1h1m1 0h1h1m2 0h1m2 0h1h1m6 0h1h1m-31 1h1m21 0h1m2 0h1m-22 1h1h1m3 0h1m1 0h1m4 0h1m3 0h1m2 0h1m-18 1h1m2 0h1m1 0h1m1 0h1m5 0h1m3 0h1m4 0h1m-33 1h1h1h1h1m2 0h1m6 0h1m4 0h1m5 0h1m2 0h1m3 0h1m1 0h1m-33 1h1h1h1m19 0h1m6 0h1m1 0h1m1 0h1m-35 1h1m6 0h1m18 0h1m2 0h1h1m1 0h1h1m-32 1h1m4 0h1m3 0h1m7 0h1m8 0h1m1 0h1m1 0h1m-43 1h1m1 0h1h1m1 0h1m2 0h1m1 0h1m9 0h1m2 0h1h1m2 0h1h1m2 0h1h1h1m6 0h1m-39 1h1m1 0h1m5 0h1m2 0h1m2 0h1h1h1h1m1 0h1m1 0h1m1 0h1h1m10 0h1h1m-45 1h1m5 0h1h1h1m2 0h1m6 0h1m5 0h1m1 0h1h1h1m4 0h1h1m6 0h1m1 0h1m2 0h1m-36 1h1m5 0h1m8 0h1m2 0h1m1 0h1m2 0h1m3 0h1m6 0h1m-45 1h1m2 0h1m12 0h1h1h1h1m4 0h1m2 0h1m1 0h1m6 0h1m4 0h1m-42 1h1m3 0h1m1 0h1m8 0h1h1m4 0h1m2 0h1m9 0h1h1h1h1m2 0h1m1 0h1m-34 1h1m4 0h1m6 0h1m6 0h1m2 0h1h1m3 0h1m2 0h1m5 0h1m-41 1h1m3 0h1m6 0h1m4 0h1h1m2 0h1m4 0h1h1m3 0h1m1 0h1m-42 1h1m2 0h1m3 0h1m4 0h1m8 0h1h1m6 0h1m8 0h1h1m2 0h1m1 0h1m-36 1h1m5 0h1m2 0h1m3 0h1m5 0h1m5 0h1m10 0h1m-45 1h1m2 0h1h1m1 0h1m3 0h1h1m1 0h1m1 0h1m2 0h1m4 0h1m4 0h1h1m3 0h1m-34 1h1m2 0h1m1 0h1m1 0h1m3 0h1m1 0h1m1 0h1h1m6 0h1m19 0h1m-43 1h1m3 0h1h1m4 0h1m10 0h1m8 0h1h1h1m3 0h1m-32 1h1m10 0h1m16 0h1m6 0h1m-34 1h1m3 0h1h1m1 0h1m1 0h1m1 0h1m1 0h1h1m3 0h1m4 0h1h1m-28 1h1h1m7 0h1m2 0h1h1m8 0h1m-16 1h1m8 0h1m4 0h1m4 0h1h1m2 0h1h1m-24 1h1m2 0h1m8 0h1m1 0h1m2 0h1m4 0h1m-17 1h1h1m6 0h1h1h1m4 0h1m-17 1h1m4 0h1m1 0h1m1 0h1m-6 1h1" stroke="#e8333d" stroke-opacity="0.90"/>
<path d="M41 261h1m2 1h1m0 1h1m-9 1h1m4 0h1m-6 3h1m3 0h1m4 0h1" stroke="#2e9a5c" stroke-opacity="0.55"/>
<path d="M41 262h1m1 0h1m-1 2h1m-2 1h1m4 0h1m5 0h1m-8 1h1m-5 1h1m-3 1h1m1 0h1" stroke="#2e9a5c" stroke-opacity="0.25"/>
<path d="M51 266h1m5 0h1m-13 1h1m4 0h1m2 0h1m-9 1h1m1 0h1h1m1 0h1m5 0h1m1 0h1m-15 1h1h1m1 0h1m6 0h1h1m-11 1h1m6 0h1m2 0h1m2 0h1m1 0h1m-18 1h1m3 0h1m1 0h1m2 0h1m1 0h1m1 0h1m-19 1h1m2 0h1m2 0h1m2 0h1m3 0h1m6 0h1m2 0h1h1m-24 1h1m11 0h1m1 0h1m4 0h1m1 0h1m2 0h1m-26 1h1m3 0h1m2 0h1m7 0h1m2 0h1m2 0h1m1 0h1m-19 1h1m2 0h1m4 0h1m3 0h1m-18 1h1h1m1 0h1m5 0h1h1m3 0h1m1 0h1m-18 1h1h1m1 0h1m5 0h1h1m7 0h1m2 0h1h1m-26 1h1m4 0h1m1 0h1m6 0h1m4 0h1h1m-10 1h1m6 0h1m2 0h1m-21 1h1m1 0h1h1m1 0h1m1 0h1m1 0h1m3 0h1m6 0h1m3 0h1m-23 1h1h1m2 0h1m2 0h1m2 0h1m2 0h1m3 0h1m2 0h1m-21 1h1m2 0h1m1 0h1h1m8 0h1m3 0h1h1m-26 1h1h1h1m1 0h1h1m2 0h1m11 0h1m2 0h1m-22 1h1m2 0h1m1 0h1h1m1 0h1m1 0h1m2 0h1m-11 1h1h1m10 0h1m-18 1h1h1h1m4 0h1m3 0h1m-4 1h1m6 0h1m-14 1h1m10 0h1m-11 1h1h1m2 0h1m-4 1h1h1m-4 1h1m2 0h1m-2 1h1m1 0h1" stroke="#2b3888" stroke-opacity="0.50"/>
<path d="M53 266h1h1m-12 1h1h1m4 0h1m5 0h1m-3 1h1m3 0h1m1 0h1m-18 1h1m3 0h1m1 0h1m7 0h1h1m-12 1h1m3 0h1h1m1 0h1h1m1 0h1m-18 1h1h1m4 0h1h1m3 0h1m4 0h1m4 0h1m-21 1h1m7 0h1m4 0h1m2 0h1m3 0h1m-21 1h1h1h1m1 0h1h1h1m1 0h1m1 0h1m3 0h1m-18 1h1m1 0h1m1 0h1m2 0h1m2 0h1m7 0h1m4 0h1m-23 1h1h1h1h1m2 0h1m2 0h1h1m3 0h1m3 0h1m5 0h1m-26 1h1m4 0h1m8 0h1m3 0h1m1 0h1m1 0h1m-18 1h1h1m1 0h1m2 0h1h1m7 0h1m2 0h1m-16 1h1m5 0h1h1m2 0h1m-19 1h1h1m1 0h1m2 0h1h1m1 0h1m3 1h1m-17 1h1m7 0h1h1m2 0h1m2 0h1m1 0h1m-18 1h1h1m2 0h1m6 0h1m4 0h1m4 0h1m-14 1h1m1 0h1m1 0h1m3 0h1h1m-16 1h1m8 0h1m-13 1h1m5 0h1h1m4 0h1m-6 1h1h1h1m2 0h1m-11 1h1m5 0h1m2 0h1h1m-13 1h1m5 0h1m1 0h1m-9 1h1m6 0h1m2 0h1m-10 1h1h1m5 0h1m-7 2h1m1 0h1" stroke="#2b3888"/>
<path d="M56 266h1m-10 1h1m9 0h1m-15 1h1h1m6 0h1h1m-4 1h1m1 0h1h1h1m5 0h1m-18 1h1m1 0h1m4 0h1m7 0h1m-17 1h1h1m1 0h1m14 0h1m1 0h1h1m-24 1h1m5 0h1h1m7 0h1h1m1 0h1m-15 1h1m11 0h1m1 0h1m3 0h1m-26 1h1m3 0h1m2 0h1m2 0h1m1 0h1m5 0h1m3 0h1m4 0h1m-28 1h1m13 0h1m6 0h1m1 0h1h1m-21 1h1m2 0h1m1 0h1m3 0h1m3 0h1m-20 1h1h1m3 0h1m1 0h1m8 0h1m2 0h1m2 0h1m4 0h1m-27 1h1h1m5 0h1m1 0h1m1 0h1h1m12 0h1m-20 1h1m6 0h1h1h1m5 0h1h1m-25 1h1m7 0h1m1 0h1m1 0h1m6 0h1m3 0h1m1 0h1m-24 1h1m3 0h1h1m4 0h1m6 0h1h1m1 0h1h1m-16 1h1m4 0h1m1 0h1h1m3 0h1h1m-17 1h1m2 0h1m1 0h1m1 0h1m8 0h1m-14 1h1m4 0h1m1 0h1m2 0h1m-20 1h1m8 0h1m2 0h1m3 0h1m-1 1h1h1m-18 1h1m5 0h1h1m2 0h1h1m2 0h1m-10 1h1m6 0h1m-4 1h1m-10 1h1m5 0h1m1 0h1m-8 1h1m2 0h1m1 0h1h1" stroke="#2b3888" stroke-opacity="0.75"/>
<path d="M48 267h1m2 0h1m2 0h1m1 0h1m-11 1h1m2 0h1m4 0h1h1m-13 1h1m14 0h1m1 0h1m-18 1h1m3 0h1h1m2 1h1m1 0h1m3 0h1h1m-17 1h1h1m5 0h1h1m1 0h1m6 0h1m-23 1h1h1m8 0h1m1 0h1m6 0h1m-7 1h1m1 0h1m9 0h1m-28 1h1m6 0h1m2 0h1m3 0h1m3 0h1h1m-20 1h1h1m7 0h1m1 0h1m9 0h1m3 0h1h1m-26 1h1m15 0h1m1 0h1m-22 1h1m3 0h1h1m4 0h1m5 0h1h1m6 0h1h1h1m-26 1h1h1m3 0h1m2 0h1m8 0h1m1 0h1h1m4 0h1m-26 1h1m1 0h1m2 0h1m6 0h1h1m1 0h1m1 0h1m1 0h1h1m2 0h1m-25 1h1m2 0h1m11 0h1m9 0h1h1m-27 1h1m2 0h1m10 0h1m-13 1h1m3 0h1m8 0h1h1m3 0h1m-22 1h1h1m1 0h1m2 0h1m4 0h1m5 0h1h1m1 0h1m1 0h1m-21 1h1h1m6 0h1h1m2 0h1h1m2 0h1h1m-17 1h1h1m1 0h1m5 0h1m-12 1h1m2 0h1h1m-3 1h1h1m1 0h1m1 0h1m2 0h1m2 0h1m-10 1h1h1m-6 1h1m5 0h1m0 1h1" stroke="#2b3888" stroke-opacity="0.90"/>
<path d="M77 267h1m-1 1h1m-4 1h1h1m-1 2h1m-6 5h1m6 2h1m-4 2h1m4 2h1m-16 2h1" stroke="#2e9a5c" stroke-opacity="0.45"/>
<path d="M66 270h1m10 1h1m20 1h1m-6 1h1m2 0h1h1m-4 1h1m-22 1h1m-7 2h1m4 3h1m3 1h1" stroke="#2e9a5c" stroke-opacity="0.90"/>
<path d="M95 274h1h1" stroke="#2e9a5c" stroke-opacity="0.60"/>
</g>
<path d="M83 277.3L88 275.4L94 273.4L99.9 273.1L99.3 274.6L93.5 275.5L88 277.2L84 278.6Z" fill="#2e9a5c" opacity="0.8"/>
<path d="M23.6 219.5V312.6H108.2" stroke="#111" stroke-width="1.4" fill="none"/>
<text x="16.30" y="282.70" font-size="8.4" textLength="22.90" lengthAdjust="spacingAndGlyphs" transform="rotate(-90 16.30 282.70)" stroke="#111" stroke-width="0.32">UMAP 2</text>
<text x="61.00" y="321.90" font-size="8.2" textLength="23.00" lengthAdjust="spacingAndGlyphs" stroke="#111" stroke-width="0.32">UMAP 1</text>
<text x="45.00" y="237.20" font-size="7.8" textLength="15.00" lengthAdjust="spacingAndGlyphs" stroke="#111" stroke-width="0.32">Mega</text>
<text x="27.60" y="269.60" font-size="7.8" textLength="9.40" lengthAdjust="spacingAndGlyphs" stroke="#111" stroke-width="0.32">Pro</text>
<text x="93.00" y="304.00" font-size="7.8" textLength="9.60" lengthAdjust="spacingAndGlyphs" stroke="#111" stroke-width="0.32">Ery</text>
<rect x="143.2" y="237.20" width="9.70" height="24.08" fill="#c0213a"/>
<rect x="143.2" y="261.28" width="9.70" height="1.34" fill="#1f4f8c"/>
<rect x="143.2" y="262.62" width="9.70" height="41.48" fill="#1e6b4e"/>
<rect x="155.3" y="237.20" width="9.70" height="54.86" fill="#c0213a"/>
<rect x="155.3" y="292.06" width="9.70" height="11.71" fill="#1f4f8c"/>
<rect x="155.3" y="303.77" width="9.70" height="0.33" fill="#1e6b4e"/>
<rect x="167.1" y="237.20" width="9.80" height="59.88" fill="#c0213a"/>
<rect x="167.1" y="297.08" width="9.80" height="2.01" fill="#1f4f8c"/>
<rect x="167.1" y="299.08" width="9.80" height="5.02" fill="#1e6b4e"/>
<rect x="179.0" y="237.20" width="9.60" height="40.81" fill="#c0213a"/>
<rect x="179.0" y="278.01" width="9.60" height="6.02" fill="#1f4f8c"/>
<rect x="179.0" y="284.03" width="9.60" height="20.07" fill="#1e6b4e"/>
<rect x="190.9" y="237.20" width="9.50" height="33.45" fill="#c0213a"/>
<rect x="190.9" y="270.65" width="9.50" height="17.39" fill="#1f4f8c"/>
<rect x="190.9" y="288.04" width="9.50" height="16.06" fill="#1e6b4e"/>
<rect x="202.7" y="237.20" width="9.60" height="19.07" fill="#c0213a"/>
<rect x="202.7" y="256.27" width="9.60" height="29.77" fill="#1f4f8c"/>
<rect x="202.7" y="286.04" width="9.60" height="18.06" fill="#1e6b4e"/>
<rect x="142.4" y="260.9" width="11.4" height="1.8" fill="#1f4f8c"/>
<path d="M138.8 236V306.6H212.6M136.6 304.10H138.8M136.6 287.38H138.8M136.6 270.65H138.8M136.6 253.93H138.8M136.6 237.20H138.8M148.1 306.6V309M160.1 306.6V309M172.0 306.6V309M183.8 306.6V309M195.6 306.6V309M207.5 306.6V309" stroke="#111" stroke-width="1.3" fill="none"/>
<text x="134.80" y="306.70" font-size="7.4" text-anchor="end" stroke="#111" stroke-width="0.1">0</text>
<text x="134.80" y="289.98" font-size="7.4" text-anchor="end" stroke="#111" stroke-width="0.1">25</text>
<text x="134.80" y="273.25" font-size="7.4" text-anchor="end" stroke="#111" stroke-width="0.1">50</text>
<text x="134.80" y="256.53" font-size="7.4" text-anchor="end" stroke="#111" stroke-width="0.1">75</text>
<text x="134.80" y="239.80" font-size="7.4" text-anchor="end" stroke="#111" stroke-width="0.1">100</text>
<text x="118.30" y="287.20" font-size="8.2" textLength="33.00" lengthAdjust="spacingAndGlyphs" transform="rotate(-90 118.30 287.20)" stroke="#111" stroke-width="0.32">%AML Cells</text>
<text x="151.30" y="312.20" font-size="7" text-anchor="end" fill="#222" textLength="26.30" lengthAdjust="spacingAndGlyphs" transform="rotate(-90 151.30 312.20)" stroke="#222" stroke-width="0.1">Baseline</text>
<text x="162.60" y="312.20" font-size="7" text-anchor="end" fill="#222" textLength="18.00" lengthAdjust="spacingAndGlyphs" transform="rotate(-90 162.60 312.20)" stroke="#222" stroke-width="0.1">C2D1</text>
<text x="174.20" y="312.20" font-size="7" text-anchor="end" fill="#222" textLength="18.00" lengthAdjust="spacingAndGlyphs" transform="rotate(-90 174.20 312.20)" stroke="#222" stroke-width="0.1">C4D1</text>
<text x="185.60" y="312.20" font-size="7" text-anchor="end" fill="#222" textLength="25.00" lengthAdjust="spacingAndGlyphs" transform="rotate(-90 185.60 312.20)" stroke="#222" stroke-width="0.1">Relapse</text>
<text x="198.10" y="312.20" font-size="7" text-anchor="end" fill="#222" textLength="18.00" lengthAdjust="spacingAndGlyphs" transform="rotate(-90 198.10 312.20)" stroke="#222" stroke-width="0.1">C6D1</text>
<text x="209.30" y="312.20" font-size="7" text-anchor="end" fill="#222" textLength="37.00" lengthAdjust="spacingAndGlyphs" transform="rotate(-90 209.30 312.20)" stroke="#222" stroke-width="0.1">Progression</text>
<rect x="154.3" y="230.3" width="22.8" height="3.0" fill="#f4f7c8" stroke="#111" stroke-width="0.9"/>
<rect x="177.1" y="230.3" width="35.5" height="3.0" fill="#e4e4e4" stroke="#111" stroke-width="0.9"/>
<text x="153.00" y="224.60" font-size="7.8" textLength="26.00" lengthAdjust="spacingAndGlyphs" stroke="#111" stroke-width="0.32">Response</text>
<text x="190.00" y="224.60" font-size="7.8" textLength="22.00" lengthAdjust="spacingAndGlyphs" stroke="#111" stroke-width="0.32">Relapse</text>
<text x="217.50" y="252.30" font-size="7.9" fill="#c0213a" textLength="9.60" lengthAdjust="spacingAndGlyphs" stroke="#c0213a" stroke-width="0.1">Ery</text>
<text x="217.50" y="275.20" font-size="7.9" fill="#1f4f8c" textLength="9.40" lengthAdjust="spacingAndGlyphs" stroke="#1f4f8c" stroke-width="0.1">Pro</text>
<text x="217.50" y="297.20" font-size="7.9" fill="#1e6b4e" textLength="15.50" lengthAdjust="spacingAndGlyphs" stroke="#1e6b4e" stroke-width="0.1">Mega</text>
<text x="245.00" y="224.30" font-size="10" font-weight="bold" fill="#000">D</text>
<defs><linearGradient id="gPl" x1="0" x2="1" y1="0" y2="0"><stop offset="0" stop-color="#1c1c58"/><stop offset="0.25" stop-color="#3a3a8c"/><stop offset="0.45" stop-color="#6a4c9c"/><stop offset="0.65" stop-color="#e02a8a"/><stop offset="0.82" stop-color="#f87a40"/><stop offset="1" stop-color="#f8e41c"/></linearGradient></defs>
<g transform="translate(0 .5)" fill="none" stroke-width="1">
<path d="M286 242h1m-17 5h1m3 1h1h1m7 0h1m13 0h1m1 1h1m-35 1h1m17 0h1m1 0h1m3 0h1m1 0h1m-29 1h1m8 0h1m5 0h1m3 1h1m12 0h1h1m-34 1h1m7 0h1m-10 1h1h1m4 0h1m7 0h1m10 0h1m7 0h1m-30 1h1m3 0h1m9 0h1m9 0h1m3 0h1m2 0h1m-15 1h1m-17 1h1m3 0h1h1m2 0h1m1 0h1h1m14 0h1m-28 1h1m7 0h1m13 0h1m2 0h1m-18 1h1m0 1h1m5 0h1m-1 1h1m0 3h1" stroke="#443e8f" stroke-opacity="0.40"/>
<path d="M287 242h1m2 0h1m-5 1h1m-6 1h1m7 0h1m5 0h1m1 0h1m-19 1h1m8 0h1m1 0h1m2 1h1m3 0h1m-20 1h1m17 0h1m-13 1h1m1 0h1m1 0h1m-23 1h1m5 0h1m5 0h1m4 0h1m3 0h1m2 0h1m-20 1h1h1m2 0h1m10 0h1m1 0h1m3 0h1m1 0h1m-16 1h1m3 0h1m5 1h1m1 0h1m-19 1h1m2 0h1m0 1h1m16 0h1m-21 1h1m6 0h1m7 2h1m-11 1h1h1m1 1h1m4 1h1m19 11h1" stroke="#353583" stroke-opacity="0.25"/>
<path d="M288 242h1m5 0h1m1 1h1m-18 1h1m6 0h1m5 0h1m-17 1h1h1m1 1h1m8 0h1m7 0h1m-16 1h1m10 0h1m1 0h1m-26 1h1m10 0h1m4 0h1m1 0h1m2 0h1m-14 1h1m10 0h1m3 0h1m1 0h1m-22 1h1m3 0h1h1h1m13 0h1m3 0h1m-24 1h1m2 0h1m-11 1h1m14 1h1h1m1 0h1m12 0h1m-35 1h1m15 0h1h1m1 0h1h1m6 0h1m1 0h1m3 0h1m-36 1h1m10 0h1m5 0h1m9 1h1m-15 2h1m7 1h1m9 0h1" stroke="#353583" stroke-opacity="0.72"/>
<path d="M289 242h1m2 0h1m-10 1h1m10 0h1m-17 1h1m12 0h1m-17 2h1h1m12 1h1m2 1h1m2 0h1m-15 1h1m7 2h1m4 0h1m3 1h1m-30 1h1m25 0h1m1 0h1" stroke="#2b2b72" stroke-opacity="0.72"/>
<path d="M291 242h1m-8 1h1m7 0h1m-11 1h1m-2 1h1m4 0h1m4 0h1m3 0h1m-16 1h1m1 0h1m12 0h1m2 0h1m-28 1h1m2 0h1m9 0h1m3 0h1m1 0h1m4 0h1m-29 1h1m4 0h1m5 0h1m1 2h1m-13 1h1m19 0h1m1 0h1h1m4 0h1m-34 1h1m7 0h1m16 0h1m-21 1h1m11 0h1m10 0h1m-10 1h1m13 0h1m-15 1h1m-17 1h1m4 0h1m2 0h1m4 0h1m-18 1h1m10 0h1m9 0h1h1m-4 1h1m29 13h1" stroke="#353583" stroke-opacity="0.40"/>
<path d="M285 243h1m1 2h1m-5 2h1m-11 1h1m3 0h1m11 1h1m1 0h1m-26 1h1m20 0h1m-23 1h1m20 0h1m-19 1h1m7 0h1m2 0h1m4 0h1h1h1m3 0h1m-26 1h1h1m5 0h1m8 0h1m-11 1h1m13 0h1m-17 1h1m8 0h1m7 0h1h1m3 0h1h1h1m2 0h1m-33 1h1m2 0h1m4 0h1m4 0h1m3 0h1m-14 1h1m7 0h1m4 0h1m-14 1h1m-2 1h1m3 0h1m1 0h1m7 0h1m3 0h1m-15 1h1m4 0h1m0 1h1h1m-6 1h1m2 0h1m6 1h1m10 0h1m-16 1h1m4 2h1" stroke="#443e8f" stroke-opacity="0.55"/>
<path d="M287 243h1m3 0h1m2 2h1m-8 2h1m5 0h1m4 2h1m-23 1h1m4 0h1m13 0h1m-11 1h1m6 2h1m14 17h1m4 0h1m-4 1h1h1" stroke="#2b2b72" stroke-opacity="0.40"/>
<path d="M288 243h1m0 2h1m6 0h1m-19 1h1m10 0h1m-19 2h1m8 1h1m3 1h1m12 1h1m-20 2h1m17 0h1m-20 5h1m33 11h1m-2 1h1m-3 1h1m-3 1h1" stroke="#2b2b72" stroke-opacity="0.25"/>
<path d="M289 243h1m-6 1h1m2 0h1h1m7 0h1m-19 1h1m13 0h1m-20 1h1m1 1h1m4 0h1m4 0h1m3 1h1m-15 1h1m3 0h1m15 0h1h1m-10 2h1m10 0h1m-24 1h1m4 0h1m6 1h1m5 0h1m-20 1h1m36 16h1" stroke="#2b2b72" stroke-opacity="0.55"/>
<path d="M290 243h1m-6 3h1m8 0h1m-23 1h1m9 0h1m8 0h1m-13 1h1m-10 1h1m3 0h1m-6 1h1m4 0h1m23 0h1m-28 1h1m9 0h1m-16 1h1m3 0h1m12 0h1m3 0h1m-2 1h1m-14 1h1m-3 1h1m3 0h1h1m7 0h1h1m-2 1h1m1 0h1h1h1m5 1h1m-25 1h1m15 0h1m-18 1h1m22 0h1m4 0h1m-21 1h1h1m-2 2h1m3 0h1" stroke="#443e8f" stroke-opacity="0.25"/>
<path d="M280 244h1m2 0h1m1 0h1m7 0h1h1m-2 1h1m-22 1h1m4 0h1m3 0h1m8 0h1h1m-19 1h1m5 0h1m2 1h1m11 0h1m1 0h1m-29 1h1m13 0h1m10 0h1m3 0h1m-34 1h1m25 0h1m5 0h1m-5 1h1h1m1 0h1m-27 1h1m7 0h1m14 0h1m-16 1h1m1 0h1m8 0h1m-17 1h1m2 0h1m13 0h1m-27 1h1m24 0h1h1m-21 1h1m23 0h1m-6 1h1m-7 1h1m-6 1h1m6 1h1m22 12h1" stroke="#353583" stroke-opacity="0.55"/>
<path d="M282 245h1m8 3h1m16 22h1" stroke="#212161" stroke-opacity="0.72"/>
<path d="M283 245h1h1m12 2h1" stroke="#212161" stroke-opacity="0.55"/>
<path d="M274 246h1m8 0h1m2 0h1m-10 1h1m-2 1h1m4 0h1m11 0h1m-25 1h1m6 0h1m7 0h1m-15 1h1m11 0h1m-19 1h1m8 0h1m1 0h1h1m3 0h1m-16 1h1m12 0h1m15 0h1m-28 1h1m6 0h1m9 0h1m5 0h1m-21 1h1m7 0h1m-11 1h1m14 0h1m-19 1h1m2 0h1m25 0h1m-31 1h1m9 0h1m10 0h1m5 0h1m5 0h1m-14 1h1m10 0h1m-30 1h1m27 0h1m1 0h1m-17 1h1m9 0h1m-17 3h1m8 3h1" stroke="#443e8f" stroke-opacity="0.72"/>
<path d="M276 247h1m-5 5h1m1 0h1m-11 1h1m24 0h1m0 1h1m1 0h1m-29 1h1m-3 1h1m7 0h1m14 0h1m4 0h1m-21 1h1m9 0h1m1 0h1m7 0h1m-26 1h1m3 0h1m2 0h1m14 0h1m6 0h1m-25 1h1m7 0h1m-7 1h1m13 0h1m5 0h1m2 0h1m3 0h1m-30 1h1m5 0h1m6 0h1m1 0h1m16 0h1m-16 1h1m-15 1h1m6 1h1m5 1h1m0 2h1m-6 1h1m20 2h1m2 1h1" stroke="#584596" stroke-opacity="0.25"/>
<path d="M298 247h1" stroke="#212161" stroke-opacity="0.40"/>
<path d="M268 248h1m-1 2h1m-2 1h1m1 0h1m-3 3h1m9 1h1m0 1h1m-13 1h1m6 1h1m11 0h1m3 0h1m-18 1h1m2 0h1m10 0h1m1 0h1m6 0h1m-34 1h1m10 0h1m26 0h1m-22 1h1m2 0h1m-9 1h1m5 0h1m-6 1h1m1 0h1m14 0h1m-16 1h1m5 0h1h1m-12 1h1m31 0h1m-1 1h1m-29 1h1m27 0h1m-33 1h1m11 0h1m2 2h1" stroke="#584596" stroke-opacity="0.72"/>
<path d="M273 249h1m-8 2h1m17 0h1m-21 1h1m10 1h1m3 1h1m-13 1h1m23 1h1m0 1h1m-31 1h1h1m7 0h1m11 0h1m6 0h1m-27 1h1m14 0h1h1m6 0h1m10 0h1m-30 1h1m9 0h1m2 0h1m-19 1h1m7 0h1m14 0h1m9 0h1m-23 1h1m17 0h1m-13 1h1m19 0h1m-29 1h1m11 0h1m3 0h1m-20 1h1m32 0h1h1m-27 1h1m26 2h1m-19 1h1m18 4h1" stroke="#584596" stroke-opacity="0.55"/>
<path d="M285 249h1m22 20h1m0 1h1" stroke="#212161" stroke-opacity="0.25"/>
<path d="M267 250h1m-5 6h1m1 3h1m25 0h1m4 1h1m-26 1h1m16 0h1m-11 1h1m5 0h1m5 0h1m9 0h1m-25 1h1m5 0h1m3 0h1m1 0h1m2 1h1m6 0h1m-16 1h1m3 0h1m3 0h1m6 0h1m-23 1h1m15 0h1m8 0h1m-18 1h1m8 0h1m-14 1h1m-5 1h1m2 0h1m5 0h1m7 0h1m-21 1h1m8 0h1m22 0h1m-23 1h1m-23 1h1m20 0h1m2 0h1m12 0h1m6 0h1m-18 1h1m13 1h1m2 0h1m-40 1h1m38 0h1" stroke="#6f4b9b" stroke-opacity="0.25"/>
<path d="M282 251h1m11 2h1m-29 1h1m-2 1h1m6 0h1m22 0h1m-23 1h1m2 0h1m-14 1h1m0 1h1m11 0h1m1 0h1m17 0h1m-21 1h1m13 0h1m-24 1h1m6 0h1m16 0h1m-18 1h1m9 0h1m1 0h1m2 0h1m2 0h1m3 0h1m4 0h1m-19 1h1m4 0h1m3 0h1m-31 1h1m15 0h1m18 0h1m4 0h1m-18 2h1m-14 1h1m29 0h1m-25 1h1m4 0h1m19 2h1m-20 2h1" stroke="#584596" stroke-opacity="0.40"/>
<path d="M265 257h1m4 3h1m14 0h1m13 1h1m-36 1h1m14 0h1m9 0h1m9 0h1m-21 1h1h1m10 0h1m1 0h1m2 0h1m2 0h1m-24 1h1m11 0h1m1 0h1m1 0h1m1 0h1m7 0h1h1m-28 1h1m15 0h1h1m-23 1h1m1 0h1m20 0h1m2 0h1m5 0h1m-22 1h1m6 0h1m7 0h1m-30 2h1m6 0h1m1 0h1m5 0h1m1 1h1m3 0h1m-11 1h1m10 0h1m-10 1h1m2 0h1m17 0h1m1 0h1m-1 1h1m-24 1h1" stroke="#6f4b9b" stroke-opacity="0.55"/>
<path d="M269 257h1m-3 1h1m25 0h1m-31 1h1m4 0h1m25 1h1m-22 1h1m16 0h1m3 0h1m5 0h1m-29 1h1m9 0h1m12 0h1m2 0h1m-28 1h1m13 0h1m0 1h1h1m7 0h1m5 0h1m-21 1h1m8 0h1m3 0h1m6 0h1m-35 1h1m-3 1h1m14 0h1m18 0h1m-2 1h1m2 0h1m2 0h1m0 1h1m-30 1h1m3 0h1m3 0h1m5 0h1m13 0h1m-7 1h1m-21 1h1m1 0h1m2 0h1m-6 1h1m0 1h1m-2 1h1" stroke="#6f4b9b" stroke-opacity="0.40"/>
<path d="M292 258h1m5 0h1m-1 2h1m4 2h1m-23 2h1m14 0h1m-35 1h1m6 1h1m20 0h1m5 0h1m-34 1h1m5 0h1h1h1m3 0h1h1m14 0h1m11 0h1m-34 1h1m5 0h1m23 0h1m-28 1h1m6 0h1m3 0h1m3 0h1m-10 1h1m3 0h1m7 0h1m10 0h1m-38 1h1m8 0h1m7 0h1m10 0h1m9 0h1m-38 1h1m3 0h1m1 0h1m20 0h1m1 0h1m7 0h1m-35 1h1m3 0h1m7 0h1m1 0h1h1m2 0h1m1 0h1m3 0h1m-14 1h1m15 0h1m7 0h1m-41 1h1m16 0h1m1 0h1m1 0h1m20 0h1m-2 1h1m-5 2h1h1m1 0h1m-5 3h1" stroke="#a03c94" stroke-opacity="0.25"/>
<path d="M284 259h1m4 0h1m-25 1h1h1m21 0h1m8 0h1m-31 1h1m7 0h1m4 0h1m10 0h1m1 0h1m4 0h1m-29 1h1h1m13 0h1h1m4 0h1m2 0h1m7 0h1m-19 1h1m2 0h1m15 0h1m-11 1h1m5 0h1m-26 1h1m7 0h1m1 0h1m4 0h1m12 0h1m-28 1h1m13 0h1m-22 1h1m16 0h1h1m1 0h1m11 0h1m-37 1h1m10 0h1m8 0h1m4 0h1h1m3 0h1m-14 1h1m8 0h1m-16 1h1m2 0h1m27 0h1m-6 1h1m-2 1h1" stroke="#6f4b9b" stroke-opacity="0.72"/>
<path d="M289 260h1m7 2h1m-3 1h1m4 0h1m-1 1h1m-34 1h1m1 0h1m18 0h1m8 0h1m-28 1h1m16 0h1h1m6 0h1m8 0h1m-39 1h1m12 0h1m22 0h1m1 0h1m-18 1h1m4 0h1m9 0h1h1m-42 1h1m1 0h1h1h1m28 0h1m1 0h1m1 0h1h1m3 0h1m-39 1h1m2 0h1m4 0h1m2 0h1m-14 1h1m2 0h1m32 0h1m1 0h1m-14 1h1m1 0h1m4 0h1h1m1 0h1m1 0h1m-38 1h1m5 0h1m14 0h1m19 0h1m-15 1h1h1m-12 2h1m-7 1h1m24 0h1h1m1 1h1m1 0h1m-30 5h1" stroke="#a03c94" stroke-opacity="0.40"/>
<path d="M268 261h1m29 5h1m-34 2h1m29 0h1m-35 1h1m7 0h1m-6 1h1m2 0h1m4 0h1m19 0h1m-5 1h1m7 0h1m-26 1h1m18 0h1m3 0h1m-35 1h1m15 0h1m13 0h1m-33 1h1m11 0h1m16 0h1m1 1h1m8 0h1m3 0h1m1 0h1m-48 1h1h1h1m23 0h1m1 0h1h1m6 0h1m-30 1h1m1 0h1m14 0h1m-22 1h1m6 0h1m6 0h1m-9 1h1m32 0h1m-43 1h1m-2 1h1m14 0h1m29 0h1m-27 3h1m27 0h1" stroke="#d12e8c" stroke-opacity="0.55"/>
<path d="M295 261h1m5 1h1m-4 1h1m-30 1h1m27 0h1m-27 1h1m23 0h1m3 0h1m-32 1h1m5 1h1m-3 1h1m1 0h1m2 0h1m15 0h1m-23 1h1m20 0h1m3 0h1m-36 1h1m6 0h1m17 0h1h1m8 0h1m2 0h1m-32 1h1m4 0h1m1 0h1m1 0h1m7 0h1h1m-25 1h1m5 0h1m4 0h1m2 0h1m9 0h1m1 0h1m-10 1h1m2 0h1m3 0h1m15 0h1m-19 1h1m18 0h1m-24 1h1m22 0h1m-3 7h1m3 0h1" stroke="#a03c94" stroke-opacity="0.72"/>
<path d="M289 263h1m-26 3h1m12 0h1m15 0h1m2 1h1m-35 1h1m33 0h1m-19 1h1m-14 1h1m34 0h1m-43 1h1m2 0h1h1m3 0h1m5 0h1m16 0h1m4 0h1m9 0h1m-38 1h1m6 0h1m-16 1h1m41 0h1m-38 1h1m2 0h1m4 0h1h1m11 0h1m2 0h1m-24 1h1m16 0h1m-21 1h1m8 0h1m1 0h1m6 0h1m17 0h1m2 0h1m-33 1h1m13 0h1m6 0h1m3 0h1m1 0h1m5 0h1m-25 1h1m16 0h1m3 0h1m-31 1h1m4 0h1m27 0h1m-39 1h1m38 2h1m-27 1h1" stroke="#d12e8c" stroke-opacity="0.25"/>
<path d="M290 263h1m13 0h1m-1 1h1m-37 1h1m3 0h1m-7 1h1m7 0h1m16 0h1m7 0h1h1m-29 1h1m17 0h1m1 0h1m8 0h1m-34 1h1m10 0h1m17 0h1m-28 1h1m18 0h1m1 0h1m9 0h1m-32 1h1m22 0h1m3 0h1m-27 1h1m6 0h1m1 0h1h1m15 0h1m1 0h1m5 0h1m-29 1h1m1 0h1m7 0h1m4 0h1m-28 1h1m9 0h1m21 0h1m5 0h1m-4 1h1m-14 1h1m12 0h1h1m-38 1h1m37 0h1h1h1" stroke="#a03c94" stroke-opacity="0.55"/>
<path d="M296 265h1m3 0h1m-40 1h1m2 1h1m2 0h1m-5 1h1m7 0h1m26 1h1m3 0h1m-43 1h1m34 0h1m2 0h1m-30 1h1m6 0h1m10 0h1m-23 1h1m3 0h1m-12 1h1m41 0h1m-42 1h1m23 0h1m5 0h1m9 0h1m1 0h1m-45 1h1m34 0h1h1m3 0h1m-42 1h1m15 0h1m1 0h1h1m1 0h1h1m5 0h1m10 0h1m1 0h1m2 0h1m-16 1h1m-14 1h1m2 0h1m-8 1h1m-3 1h1m37 0h1m-3 1h1m2 0h1m-45 2h1m10 0h1" stroke="#d12e8c" stroke-opacity="0.72"/>
<path d="M294 267h1h1m-1 6h1m-36 1h1m33 0h1m-37 1h1h1m14 0h1m1 0h1m17 0h1m1 0h1m-29 1h1m18 0h1m8 0h1m2 0h1m-20 1h1m1 0h1m1 0h1m8 0h1m-14 1h1m5 0h1m1 0h1m2 0h1h1m1 0h1m2 0h1m-41 1h1m20 0h1m4 0h1m1 0h1m-24 1h1m38 0h1m-44 1h1m8 0h1h1m7 0h1m-20 1h1m18 0h1h1m10 0h1m15 0h1m-43 1h1h1m5 0h1m26 0h1m-13 1h1m-22 2h1m35 1h1m3 1h1m-6 1h1m-37 3h1" stroke="#e84571" stroke-opacity="0.55"/>
<path d="M298 267h1m-33 1h1m2 0h1m18 0h1m2 0h1m7 0h1m-33 1h1m3 1h1m29 0h1m-42 1h1m9 0h1m-8 1h1h1m-4 1h1m5 0h1m3 0h1m27 0h1m-39 1h1m1 0h1m2 0h1m1 0h1m7 0h1m1 0h1m7 0h1m3 0h1m4 0h1m1 0h1m-31 1h1m9 0h1m1 0h1m19 0h1m-34 1h1m21 0h1m1 0h1m-20 1h1m27 0h1m3 0h1m-25 1h1m0 1h1m23 0h1m-24 1h1m20 0h1m1 1h1m-3 3h1" stroke="#d12e8c" stroke-opacity="0.40"/>
<path d="M274 269h1m-13 1h1m-3 2h1m14 0h1m-14 1h1m5 0h1m22 0h1m2 0h1m-38 1h1m11 0h1m5 0h1m8 1h1m3 0h1m-28 1h1m5 0h1m1 0h1h1m23 0h1m-38 1h1m3 0h1m5 0h1h1m10 0h1m17 0h1m-39 1h1m4 0h1h1m2 0h1m1 0h1h1m15 0h1m-21 1h1m14 0h1m5 0h1m11 0h1m-41 1h1m21 0h1h1m4 0h1h1m-21 1h1m4 1h1m25 0h1m1 0h1m-28 1h1m25 0h1m1 0h1m-46 1h1m6 0h1m1 0h1m8 0h1m15 0h1m-34 2h1m15 0h1m3 0h1m-2 1h1m-18 2h1m15 4h1" stroke="#e84571" stroke-opacity="0.40"/>
<path d="M263 270h1m8 3h1m19 0h1m3 0h1m-23 1h1m23 0h1m-38 1h1m33 0h1m-14 1h1m-18 1h1m7 0h1h1m1 0h1m1 0h1m13 0h1m11 0h1m-50 1h1m21 0h1m3 0h1h1m17 0h1m-43 1h1m25 0h1m1 0h1m16 0h1m-41 1h1m7 0h1m3 0h1m18 0h1m1 0h1h1m5 0h1m-47 1h1m2 0h1h1m8 0h1m2 0h1h1h1m3 0h1m1 0h1m-17 1h1m30 0h1m1 0h1m-42 1h1m41 0h1m-34 1h1m31 0h1m5 0h1m-38 1h1m11 0h1m22 0h1h1h1m-41 1h1m-4 1h1m32 0h1m3 1h1m-37 1h1m5 0h1m8 0h1m-4 2h1m7 0h1m-4 1h1m6 1h1" stroke="#e84571" stroke-opacity="0.72"/>
<path d="M295 271h1m-22 2h1m-10 1h1m5 0h1m21 0h1m-26 1h1h1h1h1m-9 1h1m1 0h1m10 0h1m14 0h1m-34 1h1h1h1m1 0h1m9 0h1m13 0h1m4 0h1m3 0h1m2 0h1m-43 1h1m1 0h1m14 0h1m9 0h1m6 0h1m-32 1h1m1 0h1m1 0h1m6 0h1m2 0h1m2 0h1h1m14 0h1h1m3 0h1m-22 1h1m2 0h1m11 0h1m6 0h1m1 0h1m4 0h1m-21 1h1m-27 1h1m10 0h1h1m1 0h1m25 0h1m-44 2h1m16 0h1m19 0h1m6 2h1m-33 4h1m23 2h1" stroke="#e84571" stroke-opacity="0.25"/>
<path d="M259 272h1m3 3h1m27 0h1m-3 3h1m-35 1h1m8 0h1m14 0h1m-21 1h1m1 0h1m8 0h1m16 0h1m7 0h1m-30 1h1m5 0h1m4 0h1m5 0h1m13 0h1h1m-39 1h1m2 0h1m14 0h1m1 0h1h1m-26 1h1m7 0h1m-8 1h1m6 0h1m6 0h1m2 0h1m2 0h1m2 0h1m1 0h1m13 0h1m4 0h1m-33 1h1m19 0h1m-22 1h1m4 0h1m20 0h1m7 0h1m-43 1h1m1 0h1m3 0h1m1 0h1m4 0h1m27 0h1h1m-40 1h1m2 0h1m-2 1h1m12 0h1m14 0h1m-23 1h1m4 0h1m15 0h1m2 0h1m-32 1h1m29 0h1m2 0h1m-1 1h1h1m-4 1h1m1 0h1m-22 1h1m4 1h1m-1 1h1m3 0h1" stroke="#f46d4c" stroke-opacity="0.55"/>
<path d="M263 273h1m8 2h1m-13 1h1m0 2h1m31 0h1m-34 1h1m10 0h1m3 0h1m15 0h1m2 0h1m3 0h1m-43 1h1m27 0h1m7 0h1m-31 1h1h1m20 0h1m2 0h1m2 0h1h1m3 0h1m-35 1h1m4 0h1m1 0h1m26 0h1m-22 1h1m5 0h1m8 0h1m1 0h1m-29 1h1m5 0h1h1m20 0h1m7 0h1m-39 1h1h1m1 0h1m3 0h1m1 0h1m2 0h1m-17 1h1m22 0h1m9 0h1h1m3 0h1m-33 1h1m16 0h1m16 0h1m-36 1h1m11 0h1m1 0h1m24 0h1m-17 1h1m8 0h1m-29 1h1m6 0h1m26 0h1m-16 1h1m10 0h1m2 0h1m-5 1h1m-27 1h1m21 1h1m-10 1h1m-5 2h1m2 0h1m6 0h1" stroke="#f46d4c" stroke-opacity="0.40"/>
<path d="M256 275h1m33 0h1m-29 3h1m6 0h1m15 0h1m-24 1h1m24 0h1m7 0h1h1m-30 1h1m25 0h1m-29 1h1m12 0h1m10 0h1m3 0h1m-27 1h1m1 0h1m5 0h1m14 0h1m-21 1h1m12 0h1h1m1 0h1m6 0h1m8 0h1m-44 1h1m2 0h1m15 0h1m2 0h1m12 0h1m-17 1h1m2 0h1m16 0h1m-41 1h1m19 0h1m22 0h1m-20 1h1m-19 1h1m4 0h1m5 0h1m10 0h1m8 0h1m-29 1h1m16 0h1m3 0h1m3 0h1m8 0h1m-41 1h1m28 0h1m-29 1h1m21 0h1m8 0h1m5 1h1m-2 1h1m-34 1h1m4 0h1m8 0h1m6 0h1m2 1h1m2 0h1m-18 2h1m15 0h1m-6 1h1" stroke="#f46d4c" stroke-opacity="0.72"/>
<path d="M260 275h1m28 1h1m-13 1h1m9 0h1m-22 1h1m17 0h1m11 0h1m1 0h1m-34 1h1m6 1h1m7 0h1m4 0h1h1m-23 1h1m17 0h1m5 0h1m10 0h1m3 0h1m-42 1h1m19 0h1m6 0h1m-25 1h1m1 0h1m30 0h1m1 0h1m3 0h1m-45 1h1m11 0h1m13 0h1m8 0h1m-39 1h1h1m7 0h1m9 0h1m14 0h1m2 0h1m6 0h1m-37 1h1m3 0h1m26 0h1m6 0h1m-39 1h1m8 0h1m23 0h1m4 0h1m-19 1h1m11 0h1m1 0h1m-37 1h1m7 0h1m8 0h1m-3 1h1m10 0h1m8 0h1h1m1 0h1m-34 1h1m13 5h1m5 0h1m-5 1h1h1m-3 1h1" stroke="#f46d4c" stroke-opacity="0.25"/>
<path d="M257 278h1m22 3h1m5 0h1m-8 1h1m-14 1h1m25 0h1m-14 1h1m20 0h1m-30 1h1h1m1 0h1m2 0h1m4 0h1h1m2 0h1m3 0h1m5 0h1m3 0h1m-34 1h1m4 0h1m9 0h1m2 1h1m-21 1h1m13 0h1m11 0h1m-22 1h1m5 0h1m2 0h1m3 0h1m5 0h1m6 0h1m2 0h1m-37 1h1h1h1m1 0h1m18 0h1m-24 1h1m7 0h1m5 0h1m10 0h1m2 0h1m-15 1h1m2 0h1h1m3 0h1m1 0h1m8 0h1m-32 1h1m2 0h1m1 0h1m4 0h1m6 0h1m4 0h1h1m3 0h1m-13 2h1m9 0h1m-18 1h1h1m3 0h1h1m7 0h1m5 0h1m-15 1h1m5 1h1m2 0h1" stroke="#f89a35" stroke-opacity="0.25"/>
<path d="M256 279h1m32 0h1h1m-23 1h1m-5 2h1m27 0h1m-15 1h1m3 0h1m4 0h1m-3 1h1m3 0h1h1m-7 1h1m2 0h1m5 0h1m-34 1h1m16 0h1m14 0h1m-22 1h1m5 0h1m13 0h1h1m-26 1h1m4 0h1m17 0h1m5 0h1m3 0h1m-32 1h1m3 0h1m7 0h1m13 0h1m-26 1h1m6 0h1m19 0h1m-28 1h1m15 0h1m2 0h1m2 0h1m2 0h1m-32 1h1m2 0h1m8 0h1m-13 1h1m2 0h1m3 0h1m7 0h1m-6 1h1m6 0h1m11 0h1m-10 1h1m6 0h1m-6 2h1m5 0h1" stroke="#f89a35" stroke-opacity="0.72"/>
<path d="M258 280h1m-3 2h1m1 0h1m26 0h1m8 0h1m-36 1h1m13 0h1m5 0h1m10 0h1m4 0h1m-35 1h1m21 0h1m3 0h1h1m-14 1h1m9 0h1m9 0h1m-35 1h1m4 0h1m17 0h1m-21 1h1m2 0h1m8 0h1m2 0h1m13 0h1m-33 1h1m9 0h1m8 0h1m6 0h1h1h1m-18 1h1m-11 1h1m19 0h1m2 0h1m5 0h1m4 0h1m-25 1h1m3 0h1m4 0h1m16 0h1m-33 1h1m1 0h1m1 0h1h1h1m9 0h1m-17 2h1m21 0h1m6 0h1m-26 1h1m3 0h1m8 0h1m10 0h1h1m-19 1h1m5 0h1h1m-5 2h1" stroke="#f89a35" stroke-opacity="0.55"/>
<path d="M269 280h1m20 0h1m-32 1h1m23 1h1h1m1 0h1h1m3 0h1m-21 1h1m-12 2h1m27 0h1m3 0h1m4 0h1m-28 1h1m3 0h1m8 0h1m2 0h1m6 0h1m5 0h1m-30 1h1m4 0h1m10 0h1m1 0h1m6 0h1h1m-20 1h1m5 0h1m-20 1h1m9 0h1m7 0h1m3 0h1m3 0h1h1m-18 1h1m-10 1h1m1 0h1m7 0h1m7 0h1m3 0h1m-5 1h1m5 0h1m1 0h1m-12 1h1m10 0h1m2 0h1m-26 1h1m1 0h1h1m11 0h1m4 0h1h1m5 0h1m-25 1h1m3 0h1h1m1 0h1m5 0h1h1m-15 1h1m2 0h1m4 0h1m-5 1h1m13 0h1" stroke="#f89a35" stroke-opacity="0.40"/>
<path d="M281 283h1m12 0h1m-14 4h1m2 0h1m-12 1h1m7 0h1m12 0h1m-15 2h1m3 0h1m8 0h1m-28 1h1m-4 1h1m5 0h1m6 1h1m6 0h1m-2 1h1m11 0h1m-28 1h1m19 0h1m-12 1h1m12 0h1m-3 1h1m-6 1h1m1 1h1" stroke="#f8cb24" stroke-opacity="0.55"/>
<path d="M285 283h1m3 3h1m3 2h1m-19 1h1m11 0h1m-9 1h1m1 0h1m5 0h1m-15 1h1m12 1h1m1 0h1m-15 1h1m3 0h1m2 0h1m2 0h1m5 0h1m-23 1h1m9 0h1m1 0h1m-6 1h1m12 0h1m4 0h1m-23 1h1m18 0h1h1h1m1 0h1m-11 2h1m-3 1h1" stroke="#f8cb24" stroke-opacity="0.25"/>
<path d="M297 283h1m-18 2h1m-10 1h1m13 0h1m1 0h1h1m-2 1h1m1 0h1m-20 1h1m11 0h1m-17 1h1m30 0h1m-10 1h1m-9 1h1m-8 1h1m4 0h1m15 0h1m-29 1h1m6 0h1m15 0h1m-7 1h1m3 0h1m4 0h1m-15 1h1m-10 1h1m7 1h1m2 0h1m1 0h1m6 0h1m-13 1h1" stroke="#f8cb24" stroke-opacity="0.40"/>
<path d="M292 288h1m1 2h1m-21 2h1m9 0h1m5 0h1m-6 1h1m7 0h1m2 0h1m-24 1h1m1 0h1m1 0h1m7 0h1m-17 1h1m0 1h1m12 1h1" stroke="#f8cb24" stroke-opacity="0.72"/>
</g>
<polygon points="299.4,273.9 302.8,272.5 307.9,270.9 312.8,270.6 312.3,271.5 307.4,272.1 302.8,273.5 300.2,274.6" fill="#28286d" opacity="0.55"/>
<rect x="258.8" y="301.4" width="48.6" height="5.6" fill="url(#gPl)" stroke="#111" stroke-width="1"/>
<path d="M261.2 307V308.6M272.9 307V308.6M285.0 307V308.6M296.7 307V308.6" stroke="#111" stroke-width="0.8"/>
<text x="256.70" y="316.40" font-size="7.4" stroke="#111" stroke-width="0.1">1.0</text>
<text x="293.10" y="316.40" font-size="7.4" stroke="#111" stroke-width="0.1">1.3</text>
<text x="264.20" y="231.30" font-size="8.7" textLength="27.80" lengthAdjust="spacingAndGlyphs" font-style="italic" stroke="#111" stroke-width="0.1">GATA2</text>
<g transform="translate(0 .5)" fill="none" stroke-width="1">
<path d="M349 241h1m-1 2h1m4 0h1m-6 2h1m-8 1h1m4 1h1m6 0h1h1h1m2 0h1m-12 1h1m4 0h1m-5 1h1m2 0h1m-1 2h1m5 0h1m-8 1h1m6 1h1m1 0h1m-9 1h1h1m2 0h1m-2 1h1m-2 2h1m1 0h1m-2 1h1h1m2 1h1m-10 1h1m8 0h1m2 0h1m-7 1h1m2 0h1m3 0h1m-8 2h1m6 0h1m2 1h1m-9 2h1m4 0h1m-1 1h1m1 3h1m0 1h1m-8 1h1m-2 1h1m3 1h1m3 0h1m-7 2h1m-8 1h1m6 0h1m-10 3h1h1m8 1h1m-5 1h1m1 0h1h1m-9 1h1m2 1h1m4 0h1m-4 1h1m-9 1h1m-5 1h1m12 0h1m-14 1h1m7 0h1m6 0h1m2 0h1m-20 2h1m6 2h1m-12 1h1m0 1h1m2 0h1m13 1h1m-25 2h1m12 1h1" stroke="#443e8f" stroke-opacity="0.25"/>
<path d="M353 241h1m-6 1h1m1 0h1m1 0h1m-7 2h1m13 1h1m-11 4h1m-6 1h1m4 0h1m-2 1h1m0 1h1m1 0h1m1 0h1m-7 1h1m7 0h1m2 1h1m-6 1h1m-1 1h1m1 0h1m-4 1h1m1 3h1m5 0h1m4 3h1m-2 1h1m-7 1h1m1 0h1m3 1h1m-9 1h1h1m2 0h1m-3 2h1m7 1h1h1m-5 1h1m-8 2h1m4 0h1m-5 1h1m2 1h1m3 1h1m-3 1h1m-7 1h1h1h1m-5 1h1m6 0h1m-9 1h1m1 0h1m1 0h1m7 0h1m1 0h1m-17 1h1m2 0h1m9 0h1m-15 1h1m10 0h1m-8 1h1m1 0h1m7 0h1m-17 1h1m12 0h1m1 0h1m-7 2h1m5 0h1m-18 1h1m3 0h1m-2 1h1m5 0h1m8 0h1m-3 1h1m-21 1h1m6 0h1h1m-9 2h1m0 3h1m-2 1h1m1 0h1m-5 1h1m11 0h1" stroke="#443e8f" stroke-opacity="0.72"/>
<path d="M346 242h1m2 0h1m-6 1h1m5 3h1m-14 1h1m-4 1h1h1m11 0h1m-13 2h1m2 0h1m4 0h1m-1 1h1m-1 1h1m7 2h1m-1 1h1m-5 1h1m2 0h1m7 3h1m-3 1h1m1 0h1m-6 2h1m6 0h1m2 0h1m-9 1h1m5 1h1m0 1h1m1 0h1m-9 1h1h1m7 1h1h1m-7 1h1m-8 3h1m8 1h1m5 1h1m-15 1h1m6 0h1m-10 1h1h1m2 0h1m-7 1h1m1 0h1m4 0h1m-3 1h1m-8 4h1m-3 1h1m2 0h1h1m-5 2h1m1 1h1m7 0h1m-7 2h1m-9 1h1m-5 2h1m24 0h1m-25 2h1m1 0h1m-1 1h1h1h1m-10 1h1m-1 1h1m4 0h1m1 0h1m-6 1h1m6 1h1" stroke="#584596" stroke-opacity="0.40"/>
<path d="M347 242h1m-6 2h1m4 1h1m0 1h1m-4 1h1m-9 1h1h1m-2 1h1m-1 1h1m0 1h1m-3 1h1h1m-4 1h1m1 0h1h1m3 0h1m1 0h1m-11 1h1m9 0h1h1m-13 1h1h1m6 0h1m6 0h1m-11 1h1h1m0 1h1m0 1h1m4 0h1m3 1h1m2 0h1m-7 1h1m-5 1h1m10 0h1m-6 1h1m1 1h1m0 1h1h1m0 1h1m3 0h1m-8 1h1m8 0h1m-9 4h1m0 1h1m0 1h1m1 0h1m-2 1h1h1m-7 1h1m5 0h1m-11 1h1m9 1h1m-6 1h1m1 0h1m-4 1h1m-4 1h1m1 0h1m-4 4h1m1 0h1m-4 2h1m-9 1h1m-3 4h1m1 2h1m-9 1h1m4 0h1m2 0h1m-4 1h1m4 0h1m-1 1h1m-9 1h1m4 1h1" stroke="#6f4b9b" stroke-opacity="0.40"/>
<path d="M353 242h1m1 1h1m-2 1h1m-7 1h1m8 3h1m-5 1h1m7 2h1m-5 1h1m-1 1h1m-1 1h1m6 7h1m-1 5h1m-3 2h1m1 0h1m-7 1h1m7 0h1m0 4h1m-4 1h1m-1 1h1m-1 4h1m1 0h1m-14 2h1m5 2h1m-3 1h1m1 0h1m1 0h1m1 0h1m1 2h1m-9 1h1m3 0h1m1 0h1m-15 1h1m2 0h1m8 0h1h1m-13 1h1m3 0h1m-3 1h1m-10 1h1m8 0h1m5 0h1m-2 1h1m-12 1h1m7 0h1h1m-7 2h1m2 0h1m0 1h1m3 0h1m-14 1h1" stroke="#353583" stroke-opacity="0.55"/>
<path d="M356 242h1m-5 1h1m3 0h1m-8 3h1m1 0h1m0 1h1m1 1h1m6 0h1m-11 1h1m2 0h1m3 0h1m-5 1h1h1h1m2 0h1h1m-6 1h1m3 1h1m-1 1h1m-3 3h1m-1 1h1m3 20h1m0 1h1m-9 1h1m5 0h1m6 0h1m-6 1h1m2 0h1m-12 1h1m-1 1h1m8 0h1m-11 1h1m9 0h1m-11 1h1h1m-2 1h1m5 0h1h1m2 0h1h1m-15 1h1m7 3h1m-17 1h1m5 0h1m11 0h1m-15 1h1m7 0h1m-6 2h1h1m9 0h1m-14 1h1h1m-5 2h1m2 0h1m1 0h1m5 0h1m-10 1h1m-4 1h1" stroke="#353583" stroke-opacity="0.25"/>
<path d="M345 243h1m-12 3h1m11 1h1m-13 2h1m4 0h1h1m-12 1h1m0 1h1m13 0h1m-17 1h1m2 0h1m10 0h1m-14 1h1m5 0h1m2 1h1m2 0h1h1m-13 1h1m13 1h1h1m-5 1h1m2 0h1h1m2 0h1m4 1h1m-17 1h1m5 0h1m3 0h1m2 0h1m6 0h1m-11 1h1m0 1h1m5 0h1m2 0h1m-12 3h1m8 0h1h1m-9 1h1m5 0h1m-7 1h1m3 2h1m0 1h1h1m5 1h1m-11 2h1m1 0h1m-2 1h1m0 1h1m-3 1h1m7 0h1m-12 1h1m6 1h1m6 2h1m-17 3h1m1 2h1m-6 3h1m-10 2h1m6 0h1m-6 1h1m5 1h1m0 1h1m-8 1h1m2 0h1m-7 2h1h1" stroke="#6f4b9b" stroke-opacity="0.25"/>
<path d="M346 243h1m-3 1h1m8 0h1m-18 1h1m6 0h1m2 0h1m-9 4h1m4 0h1m-8 1h1m5 0h1m4 0h1h1m-8 1h1m2 4h1m5 0h1m-2 1h1m1 1h1h1m-5 1h1m3 0h1m-2 1h1m1 1h1h1m-6 1h1m1 0h1h1m3 1h1m0 1h1m-5 1h1m4 0h1m1 1h1m5 0h1m-14 1h1m6 0h1m-7 1h1m10 1h1m-7 2h1m-6 1h1m4 0h1m2 0h1m-5 1h1m10 1h1m-10 1h1m-6 1h1m7 0h1m3 0h1m-15 1h1h1m-6 1h1m7 0h1m-3 1h1m-7 1h1h1m2 0h1m-5 1h1m7 0h1m1 0h1m-3 1h1m-10 3h1m4 5h1m-17 1h1m5 4h1m-7 2h1" stroke="#584596" stroke-opacity="0.55"/>
<path d="M347 243h1h1m0 1h1m7 0h1m1 0h1m-12 3h1h1m-1 1h1m2 0h1m-9 1h1h1m7 1h1m-1 1h1m-5 2h1m5 0h1m-10 1h1m6 1h1m2 0h1h1m1 0h1m-5 1h1m2 2h1m-1 3h1m2 0h1h1m-3 2h1m3 0h1h1m1 1h1m-3 1h1m-11 2h1m3 1h1m6 0h1h1m-5 1h1m-3 1h1m-2 2h1m7 0h1m-9 1h1m-5 3h1m1 0h1m-1 1h1m6 0h1m-16 1h1m2 0h1m7 0h1m3 0h1m-10 1h1m1 0h1m1 1h1m3 0h1m-14 1h1m-5 1h1h1m3 0h1m2 0h1m2 0h1m5 0h1m-14 1h1m4 0h1m3 0h1m1 0h1m-11 1h1m-7 1h1m8 0h1m9 0h1m-18 1h1m7 0h1m-11 1h1m7 0h1m9 0h1m-19 1h1m11 0h1h1m4 0h1m-21 1h1m2 0h1h1m6 0h1m1 0h1m-13 1h1m3 0h1m9 0h1m-16 1h1m2 0h1m5 0h1m5 0h1m-14 1h1m3 0h1m-7 1h1m2 0h1m5 0h1m-1 1h1m5 0h1m-24 1h1m5 0h1m11 0h1m-4 1h1m-3 1h1m2 0h1" stroke="#443e8f" stroke-opacity="0.55"/>
<path d="M350 243h1m6 2h1m-2 4h1m2 0h1m-2 8h1m14 12h1m-14 9h1m-8 4h1m12 3h1m-5 1h1m-8 1h1m1 1h1m-9 1h1m4 1h1m-6 4h1m-2 1h1" stroke="#2b2b72" stroke-opacity="0.55"/>
<path d="M351 243h1m-4 1h1m2 0h1m2 1h1m-9 1h1m7 0h1m3 0h1m-16 1h1m7 0h1m-5 2h1m9 0h1m2 0h1m-22 1h1m11 0h1m-1 1h1m-5 1h1m8 0h1m-6 1h1m3 1h1m-7 1h1m8 0h1m-5 4h1m2 1h1m2 0h1m-1 1h1m0 1h1h1m1 0h1m-6 1h1m2 0h1m0 1h1m-8 1h1m9 1h1m-5 1h1m-6 2h1m-1 1h1m6 0h1m1 0h1m0 1h1m-3 1h1m-10 1h1m6 0h1m1 0h1m-1 1h1m3 0h1m-4 1h1m-1 2h1m1 0h1m-5 1h1m-2 1h1m-3 1h1m1 0h1m-1 1h1m2 1h1m-19 1h1m1 0h1m3 0h1m-10 1h1m5 0h1m-5 1h1m2 0h1h1m10 0h1m-19 1h1m6 0h1m11 0h1m2 0h1m-18 1h1m2 0h1m9 0h1m2 0h1m-22 1h1m3 0h1m2 0h1m-11 2h1m4 0h1m1 1h1m-10 2h1m5 0h1m6 0h1m2 1h1m-10 2h1m7 0h1m-4 1h1m-8 1h1" stroke="#443e8f" stroke-opacity="0.40"/>
<path d="M353 243h1m-4 2h1m2 0h1m2 0h1m-2 1h1h1m1 1h1m-3 1h1m-2 1h1m5 0h1m-5 2h1m-5 2h1h1m-1 5h1m6 1h1h1m-2 4h1m0 1h1m-1 2h1m1 1h1m-2 1h1m-4 3h1m12 0h1m-13 1h1m4 0h1m-1 1h1m1 1h1m-7 2h1h1m-5 1h1m7 0h1m-5 1h1m-7 1h1m10 0h1m-7 2h1m3 0h1m-11 1h1m10 0h1m-12 2h1m-12 1h1m3 0h1m4 0h1m6 0h1m-15 1h1m9 0h1m3 0h1m-9 1h1m7 2h1m-1 1h1m-12 1h1m10 0h1m-18 1h1h1m2 0h1m3 0h1m2 0h1h1m1 0h1h1m-15 2h1m4 0h1m5 1h1h1m-10 2h1m-7 1h1" stroke="#353583" stroke-opacity="0.40"/>
<path d="M357 243h1m-6 1h1m3 0h1m-5 1h1m-1 1h1h1m6 0h1m0 1h1m-11 1h1m7 0h1h1m-12 2h1m7 0h1m2 1h1m-6 1h1m2 0h1m-1 2h1m8 13h1m-3 2h1m1 0h1m3 0h1m2 0h1m-13 1h1m7 0h1m-10 1h1m1 0h1m1 0h1m4 0h1m-8 1h1m-1 2h1m-4 1h1m3 1h1m0 3h1m1 1h1m-12 1h1m2 0h1m4 2h1m1 0h1m-17 1h1m7 0h1m6 0h1m-8 1h1m-6 1h1m1 0h1m3 0h1m-4 1h1m-2 1h1m0 1h1m2 0h1h1m-14 1h1m1 1h1m5 0h1m1 0h1m2 0h1m1 0h1m-16 1h1m6 0h1m6 0h1m-14 1h1m2 0h1m6 0h1h1m-8 1h1m4 0h1m-12 1h1m3 0h1m4 0h1m4 0h1m-19 1h1m5 0h1m1 0h1m1 0h1m-8 1h1m1 0h1m6 0h1m-6 1h1m1 0h1" stroke="#353583" stroke-opacity="0.72"/>
<path d="M343 244h1m-2 1h1m0 1h1m1 0h1m-12 1h1m5 0h1m-2 1h1m2 0h1m2 0h1m-5 1h1m-9 1h1h1m6 0h1m-15 1h1m10 1h1m5 0h1h1m-14 1h1m13 0h1m-15 1h1m-9 1h1m10 0h1m6 0h1m3 0h1m-4 1h1m-8 1h1h1m2 0h1m2 1h1m8 2h1m2 1h1m-10 2h1m0 2h1m5 2h1m2 0h1m-3 1h1m2 0h1m4 1h1m-11 1h1m-4 1h1m4 1h1m-7 1h1m1 0h1m8 1h1m-11 1h1m-3 2h1m4 1h1m-7 2h1m2 1h1m-6 2h1m-1 1h1m-5 3h1m-6 1h1h1m2 0h1m1 1h1m-12 3h1m4 0h1m1 0h1m-4 1h1m-3 1h1m3 0h1m-4 2h1h1m3 0h1" stroke="#6f4b9b" stroke-opacity="0.55"/>
<path d="M345 244h1m-6 1h1m3 0h1m-1 1h1m12 1h1m2 0h1m-21 1h1m1 1h1m3 1h1m-16 1h1m13 0h1m0 1h1m1 0h1m-6 3h1m1 0h1m6 0h1m-2 1h1h1h1m3 2h1m-12 1h1m13 0h1m2 0h1m-7 3h1m-7 1h1m5 1h1m1 0h1m3 1h1m-10 1h1m6 0h1m5 0h1m-9 1h1m0 2h1m-7 1h1m1 0h1m1 0h1m-4 1h1h1m12 0h1m-6 1h1m-14 3h1m2 0h1m13 0h1m-18 1h1m-6 1h1m4 0h1m4 0h1m5 0h1m-4 2h1m-11 4h1m-3 5h1m-6 3h1m-4 3h1m0 1h1m-2 1h1m0 1h1m1 0h1" stroke="#584596" stroke-opacity="0.72"/>
<path d="M347 244h1m2 0h1m4 0h1m-9 2h1m2 1h1m-8 1h1h1m1 0h1m1 1h1m-5 1h1m-8 1h1m1 0h1m7 0h1m2 0h1m3 0h1m-6 1h1m0 1h1m1 0h1m-5 1h1m1 0h1m3 0h1m-7 1h1m-9 1h1m1 0h1m3 0h1m-1 1h1h1m2 0h1m4 0h1m-9 1h1m1 0h1h1m0 2h1m0 2h1m1 0h1m3 0h1h1m5 0h1m-12 1h1m3 0h1m1 1h1m-9 2h1m7 1h1m-3 1h1m2 0h1m-1 1h1m2 0h1m-7 2h1m-11 1h1m7 0h1h1m-5 1h1m5 0h1m-7 1h1m3 0h1m-1 1h1m1 0h1m-1 1h1m-12 1h1m2 1h1m2 0h1m-3 1h1m-6 1h1m2 0h1m-1 1h1m14 1h1m-20 1h1m-2 3h1m-3 1h1h1m-2 1h1m-1 1h1m1 0h1m-6 1h1m-3 2h1m1 0h1m-6 3h1m1 0h1m5 0h1m-4 1h1h1" stroke="#584596" stroke-opacity="0.25"/>
<path d="M337 245h1m-3 1h1m4 0h1m0 2h1m-11 2h1m-6 1h1m6 0h1m-7 1h1m11 0h1h1h1m-17 1h1m16 0h1m-18 1h1m10 1h1m-4 2h1h1h1m6 0h1m-11 1h1m5 0h1m3 0h1m-11 1h1m15 1h1m-5 1h1h1m0 1h1m-7 1h1m2 1h1m3 0h1m-3 1h1m0 3h1m2 0h1m3 0h1m-8 3h1m-4 3h1m2 2h1m-3 1h1h1m-2 4h1m-13 2h1m8 1h1m-2 1h1m-4 1h1h1m-2 1h1h1m2 0h1m-17 2h1m1 1h1m6 1h1m-4 1h1m-1 2h1m-1 1h1m4 2h1" stroke="#a03c94" stroke-opacity="0.55"/>
<path d="M341 245h1m-3 2h1m2 0h1m-11 1h1m2 1h1m-6 1h1m-2 1h1m6 0h1m1 2h1m8 0h1m-18 1h1m8 0h1m7 0h1m-7 1h1m-15 1h1m13 0h1m-18 1h1m12 1h1m-2 1h1m1 0h1m-3 1h1m1 0h1m2 0h1m-3 1h1m9 1h1m-5 1h1m3 0h1m-6 1h1m3 0h1m0 1h1m2 0h1m-2 1h1m-5 1h1m3 1h1m-1 1h1m-6 1h1m2 0h1m-5 2h1m5 2h1m-4 1h1m-1 1h1m-5 4h1m-1 2h1m-9 1h1m3 1h1m-7 2h1m-4 3h1m5 0h1m-12 1h1m-2 1h1h1m8 0h1m-11 2h1m4 0h1" stroke="#a03c94" stroke-opacity="0.72"/>
<path d="M345 245h1m5 0h1m-6 4h1m-12 2h1m10 0h1m1 0h1m-21 2h1m15 0h1m-8 1h1m1 2h1m8 0h1m-11 1h1m4 0h1m-3 1h1m2 0h1m-5 1h1m3 0h1m8 0h1m-9 1h1m1 1h1m3 1h1m3 0h1m-4 1h1m-3 2h1m4 0h1m-9 1h1m1 0h1m0 1h1m-4 1h1m7 0h1m-6 1h1m1 0h1m2 0h1h1m-4 1h1m1 0h1m1 1h1m-6 2h1m-6 2h1m8 3h1m-12 1h1m5 0h1m-4 1h1m-2 1h1m-6 2h1m-1 2h1h1m-3 1h1h1m3 0h1m-8 3h1m2 0h1m-4 1h1m-4 1h1m1 0h1m-7 1h1m-6 2h1m2 0h1m4 0h1m1 0h1m2 0h1m-9 2h1" stroke="#6f4b9b" stroke-opacity="0.72"/>
<path d="M355 245h1m-3 2h1m7 5h1m2 12h1m9 6h1m-7 1h1m-2 5h1m-16 10h1m1 0h1m5 0h1m-10 3h1m6 1h1m-10 2h1m4 2h1m1 0h1m-12 1h1m1 0h1" stroke="#2b2b72" stroke-opacity="0.25"/>
<path d="M359 245h1m-10 3h1m8 3h1m1 31h1m-4 1h1m3 6h1m-8 1h1m-5 1h1m4 0h1m0 2h1m-7 1h1m6 0h1" stroke="#2b2b72" stroke-opacity="0.40"/>
<path d="M336 246h1m1 0h1h1m-4 1h1m-4 1h1m8 3h1m-11 1h1m12 1h1m-18 1h1h1m6 0h1m8 0h1m-10 2h1m9 2h1m-1 3h1m-3 1h1m-3 1h1m2 4h1m5 0h1h1m-8 1h1m3 1h1m-6 1h1m3 4h1m-4 4h1m2 0h1m-2 1h1m-6 1h1m2 1h1m-7 4h1m-1 1h1m-14 1h1m0 2h1m8 1h1m-13 1h1m3 1h1m4 0h1h1m-9 1h1m2 1h1m1 2h1m3 0h1" stroke="#a03c94" stroke-opacity="0.40"/>
<path d="M357 246h1" stroke="#212161" stroke-opacity="0.25"/>
<path d="M333 247h1m1 0h1m8 0h1m-9 1h1m-6 1h1m4 0h1m-5 1h1m-7 2h1m3 0h1m2 1h1m6 0h1m-1 1h1m-16 1h1m3 1h1m11 3h1m3 0h1m3 1h1m-10 1h1m1 1h1m7 0h1m-4 1h1h1m4 0h1m-3 2h1m-6 2h1m3 1h1m-6 2h1m4 1h1m-2 1h1m1 0h1m-2 2h1m5 0h1m-8 2h1m-7 2h1m-1 5h1m-6 1h1h1m2 0h1m-8 2h1m4 0h1m-3 2h1m2 0h1m-12 2h1h1m5 1h1m-11 1h1m-1 1h1m1 0h1m2 0h1m4 0h1" stroke="#a03c94" stroke-opacity="0.25"/>
<path d="M338 247h1m-8 1h1m-4 3h1m5 1h1m-11 1h1m2 0h1m3 0h1m3 1h1m-5 2h1m-4 1h1h1m5 1h1m-6 1h1h1m10 0h1m0 1h1h1m-4 1h1m1 1h1m0 1h1m1 2h1m-6 3h1h1m5 0h1m-4 1h1m1 0h1m-5 1h1m0 2h1m2 0h1m-3 1h1m1 0h1m-5 6h1h1m0 1h1m-8 2h1m-4 3h1m1 0h1m-19 1h1m2 1h1m10 0h1h1m-5 1h1m2 0h1m-9 2h1m3 0h1m2 0h1m-5 5h1" stroke="#d12e8c" stroke-opacity="0.72"/>
<path d="M355 248h1m2 0h1m12 22h1m0 1h1m-8 4h1m0 3h1m-7 3h1m-13 6h1m5 1h1m-9 1h1m9 1h1m-4 5h1m-4 3h1" stroke="#2b2b72" stroke-opacity="0.72"/>
<path d="M330 249h1m2 0h1m-8 5h1m4 1h1m6 0h1m-14 1h1m6 1h1m-7 1h1m12 0h1m-12 1h1h1m8 3h1m1 0h1m4 2h1m-8 1h1m5 0h1m-4 5h1m5 0h1m-8 1h1m2 1h1m0 1h1m1 0h1m2 0h1m-3 1h1m-2 1h1m-2 1h1m-4 3h1m0 2h1m2 0h1m-14 1h1m5 0h1m1 0h1m1 0h1m-7 1h1m1 0h1m-6 2h1m6 0h1m-20 1h1m4 0h1m3 0h1m-3 2h1m2 0h1m1 0h1m-7 1h1m9 0h1m-11 1h1m4 0h1m-8 2h1" stroke="#d12e8c" stroke-opacity="0.55"/>
<path d="M328 250h1m-4 2h1m3 0h1m-4 3h1m-1 1h1m1 0h1m1 0h1m2 0h1m1 0h1m-10 1h1h1m5 1h1h1m-10 1h1m7 0h1h1h1m-3 2h1m1 0h1m7 0h1m-3 1h1m-5 1h1m11 4h1m-4 2h1m1 1h1m-1 1h1m-3 3h1m-5 3h1h1m0 1h1m-5 1h1m0 1h1m1 0h1m-5 1h1m-8 1h1m9 0h1m-9 1h1h1m-5 1h1m5 0h1m0 1h1m-9 1h1m1 1h1m3 0h1m2 0h1m-11 2h1m5 0h1h1m-13 1h1m4 1h1m3 0h1m-9 1h1" stroke="#d12e8c" stroke-opacity="0.40"/>
<path d="M334 251h1m-2 1h1m1 0h1m-10 1h1m0 1h1m3 0h1m2 0h1m-7 1h1h1m-6 1h1m7 0h1m1 0h1m-10 2h1m4 0h1m5 0h1m3 2h1m1 0h1m-7 1h1m13 3h1m-5 2h1m-5 3h1m5 0h1m-7 6h1m0 1h1m3 2h1m-8 2h1m0 1h1h1m-13 2h1m5 1h1m-6 1h1m-5 3h1m-4 1h1m1 0h1m5 0h1m1 0h1m-5 2h1h1m-3 1h1m1 1h1" stroke="#d12e8c" stroke-opacity="0.25"/>
<path d="M334 255h1m-10 2h1m3 3h1m1 1h1m2 0h1m-2 1h1m2 0h1m8 0h1m-3 1h1m-4 1h1m-4 2h1m2 1h1h1m-2 1h1m-1 1h1m0 2h1h1m-2 1h1m4 0h1m-8 2h1m1 1h1m-2 1h1m3 0h1m-8 1h1m2 1h1m-7 1h1m2 0h1m-5 1h1m1 0h1m2 1h1m-12 1h1m12 0h1m-18 1h1m3 1h1m-1 1h1h1m7 0h1m-14 1h1m5 1h1m-7 3h1" stroke="#e84571" stroke-opacity="0.40"/>
<path d="M323 256h1m6 1h1m-4 1h1m-2 1h1h1m16 10h1m-3 3h1m-4 1h1m2 0h1m-3 1h1m4 0h1m-3 1h1m-6 1h1m-5 4h1m-17 1h1m14 0h1m3 0h1m-12 1h1m3 0h1m-9 2h1m2 0h1h1m1 0h1m4 0h1m1 0h1m-3 1h1m-3 2h1m-9 2h1m8 2h1" stroke="#e84571" stroke-opacity="0.25"/>
<path d="M331 257h1m-1 1h1m7 1h1m-8 2h1m5 0h1m-2 1h1m0 1h1m0 2h1m-1 1h1m-1 1h1m-1 2h1m3 0h1m3 2h1m-11 3h1m3 0h1m2 1h1m-6 5h1m-3 2h1m-18 1h1m8 0h1m-6 1h1m-5 1h1m8 0h1m-10 1h1h1m3 1h1m-3 1h1" stroke="#e84571" stroke-opacity="0.55"/>
<path d="M324 258h1m3 2h1m1 0h1m1 2h1m1 0h1m-7 1h1m6 2h1m-6 1h1h1m-1 3h1m1 1h1m-1 2h1m-7 1h1m5 1h1m3 1h1m-12 1h1m4 0h1m-14 2h1m19 0h1m-13 1h1m1 0h1m9 0h1h1m-21 1h1h1m3 0h1m12 0h1m-17 1h1m-3 1h1m-1 1h1m1 0h1m4 0h1m-8 1h1h1h1m1 0h1m8 1h1m-4 1h1" stroke="#f46d4c" stroke-opacity="0.72"/>
<path d="M328 258h1h1m5 2h1m1 1h1m1 1h1m-6 1h1h1m2 3h1m-1 2h1m-1 2h1m1 0h1m2 1h1m1 0h1m-5 2h1m-3 2h1m1 2h1m-1 1h1h1m-18 2h1m10 1h1m3 0h1m-5 1h1m-10 1h1h1m9 0h1m1 0h1m-9 1h1m0 2h1m-7 1h1m2 0h1m-5 1h1m3 1h1m-3 2h1m-5 1h1" stroke="#e84571" stroke-opacity="0.72"/>
<path d="M324 260h1m2 0h1m7 2h1m0 1h1m-3 2h1m0 1h1m-7 1h1m8 2h1m-1 2h1m5 0h1m-6 1h1m-4 1h1m1 2h1m-6 1h1m1 0h1m5 0h1m-7 1h1m4 0h1m-14 1h1m8 0h1m-15 1h1m8 0h1h1m-10 1h1m7 0h1m-10 1h1m5 0h1m2 0h1m2 1h1m-11 1h1m8 0h1m-13 2h1m2 3h1" stroke="#f46d4c" stroke-opacity="0.40"/>
<path d="M331 260h1m-4 2h1m-6 1h1m10 1h1m1 0h1m-3 2h1m2 1h1m4 0h1m-12 1h1m3 1h1m5 0h1m0 1h1m-7 1h1m0 1h1h1m-10 1h1m7 0h1m-2 4h1m-9 1h1h1m2 0h1m-10 1h1m11 0h1m-15 1h1m16 0h1m-10 1h1m-9 1h1m9 1h1m-10 2h1h1m1 0h1m2 1h1m-1 1h1" stroke="#f46d4c" stroke-opacity="0.55"/>
<path d="M333 260h1h1m-10 1h1m3 0h1m1 1h1m1 2h1m1 0h1m4 2h1m-7 1h1m-12 5h1m10 0h1m5 0h1m-7 1h1h1m4 0h1m-3 1h1m-12 1h1m1 1h1m-7 1h1m8 0h1m5 0h1h1m-10 2h1m-13 1h1m16 1h1m-12 1h1h1m2 0h1m6 0h1m-6 2h1m3 0h1m-10 4h1" stroke="#f46d4c" stroke-opacity="0.25"/>
<path d="M330 261h1m-3 3h1m-2 1h1m4 2h1h1m2 1h1m-10 1h1m8 0h1m-12 1h1m9 0h1m1 0h1m-5 1h1m-4 1h1m1 0h1m-15 2h1m8 0h1m8 0h1m-11 1h1m7 0h1m1 0h1m3 0h1m-23 1h1m4 0h1m-4 1h1m7 0h1m1 0h1m-12 1h1m15 0h1m-15 1h1m-3 2h1h1m13 0h1m-6 1h1" stroke="#f89a35" stroke-opacity="0.55"/>
<path d="M325 262h1m-1 1h1m-2 4h1m0 1h1m2 0h1h1m5 0h1m-4 1h1m-10 1h1h1m-2 1h1m3 1h1m-8 2h1m5 0h1m4 0h1m-13 1h1m9 0h1m-11 1h1m4 0h1m-3 1h1m6 0h1" stroke="#f8cb24" stroke-opacity="0.25"/>
<path d="M327 263h1m4 1h1m-3 1h1m2 1h1m3 2h1m-1 1h1m-9 1h1m2 0h1m-7 1h1m1 0h1m0 1h1m2 1h1m-5 1h1h1h1m1 0h1m-12 1h1m8 0h1m-6 1h1m10 0h1m5 0h1m-25 1h1m6 1h1m11 0h1m-14 1h1m8 0h1m2 0h1m-15 1h1m4 0h1m4 0h1m-11 2h1m-4 3h1m10 0h1" stroke="#f89a35" stroke-opacity="0.40"/>
<path d="M323 264h1m7 1h1m-6 2h1h1m3 0h1m-5 4h1m4 0h1m-5 2h1m-5 1h1h1m-6 1h1m1 0h1m8 0h1m-5 1h1m6 0h1m-9 1h1m-10 1h1m5 0h1m-5 1h1m7 0h1" stroke="#f8cb24" stroke-opacity="0.72"/>
<path d="M331 264h1m-6 2h1m3 2h1m3 1h1m-4 1h1m2 0h1m4 0h1m-19 1h1m2 0h1m5 0h1h1m2 0h1m0 1h1m-12 1h1m8 0h1m-11 2h1m8 0h1h1m5 1h1m-13 1h1m3 1h1m-12 1h1m5 2h1h1m2 0h1m-8 1h1m-2 1h1m2 0h1" stroke="#f89a35" stroke-opacity="0.72"/>
<path d="M329 265h1m-9 1h1m7 0h1m2 0h1m-5 1h1m-3 1h1m-2 1h1h1m2 0h1h1m-4 1h1h1m-4 1h1m-7 1h1m1 0h1m6 0h1m2 0h1m-11 1h1m3 0h1m-5 1h1m2 1h1h1m2 1h1m3 0h1m-12 2h1m11 0h1m-9 1h1m3 0h1m-7 2h1m-4 1h1m-3 1h1" stroke="#f8cb24" stroke-opacity="0.55"/>
<path d="M332 265h1h1m-6 1h1m-7 1h1m7 0h1m5 0h1m-5 1h1m1 0h1m-2 1h1m2 1h1m-2 1h1m1 0h1m-2 1h1m-15 1h1m-4 1h1m15 1h1m-16 1h1m1 0h1m7 0h1m-6 1h1m5 0h1m1 0h1m-14 1h1m1 0h1m1 0h1m1 0h1m3 0h1m-3 2h1h1h1m-7 1h1m-7 1h1" stroke="#f89a35" stroke-opacity="0.25"/>
<path d="M325 266h1m-2 2h1m8 0h1m-11 1h1h1m3 0h1m-3 1h1m-5 1h1m6 0h1m-8 1h1m1 0h1m-5 1h1m5 0h1m4 0h1m6 0h1m-11 2h1m-8 1h1m12 1h1m-17 2h1" stroke="#f8cb24" stroke-opacity="0.40"/>
<path d="M353 290h1" stroke="#212161" stroke-opacity="0.40"/>
</g>
<polygon points="361.6,273.9 365.0,272.5 370.1,270.9 375.0,270.6 374.5,271.5 369.6,272.1 365.0,273.5 362.4,274.6" fill="#2d2d75" opacity="0.55"/>
<rect x="325.0" y="301.4" width="48.6" height="5.6" fill="url(#gPl)" stroke="#111" stroke-width="1"/>
<path d="M327.4 307V308.6M339.1 307V308.6M351.2 307V308.6M362.9 307V308.6" stroke="#111" stroke-width="0.8"/>
<text x="323.30" y="316.40" font-size="7.4" stroke="#111" stroke-width="0.1">0.7</text>
<text x="368.60" y="316.40" font-size="7.4" stroke="#111" stroke-width="0.1">1.2</text>
<text x="339.80" y="231.30" font-size="8.7" textLength="21.20" lengthAdjust="spacingAndGlyphs" font-style="italic" stroke="#111" stroke-width="0.1">KLF1</text>
<g transform="translate(0 .5)" fill="none" stroke-width="1">
<path d="M422 241h1m-2 1h1m1 0h1m-6 1h1m7 0h1m-6 1h1m4 0h1m-15 1h1m4 0h1m1 0h1m4 0h1m-13 1h1m5 0h1m3 0h1m3 0h1m1 0h1h1m-18 1h1m2 0h1m13 0h1m2 0h1m-24 1h1h1m13 0h1h1h1m2 0h1m1 0h1m-32 1h1m7 0h1m6 0h1m11 0h1m2 0h1h1m-27 1h1m20 1h1h1m1 0h1m-24 1h1m2 0h1m17 0h1m4 0h1m-33 1h1m19 0h1m1 0h1m6 0h1m-22 1h1m20 0h1" stroke="#f8cb24" stroke-opacity="0.25"/>
<path d="M419 242h1m2 0h1m2 0h1m-10 1h1m3 0h1m-4 1h1m1 0h1h1m6 0h1m-8 1h1m9 0h1m-15 1h1m7 0h1m2 0h1m3 0h1m-21 1h1m1 0h1m5 0h1h1h1m5 0h1h1m1 0h1m-20 1h1m10 0h1m-3 1h1h1m4 0h1m1 0h1m3 0h1m-12 1h1m2 0h1m1 0h1m1 0h1m1 0h1m2 0h1m-25 1h1m13 0h1m-10 1h1m7 0h1m7 0h1m-24 1h1m14 1h1m4 0h1m-7 1h1m-15 1h1m13 0h1m22 14h1m-3 1h1m3 0h1" stroke="#f8cb24" stroke-opacity="0.55"/>
<path d="M424 242h1m3 0h1m-8 1h1h1m4 0h1h1m-13 1h1m7 0h1h1m4 0h1m-18 1h1m1 0h1h1m6 0h1m1 0h1h1m4 0h1m-23 1h1m5 0h1m3 0h1m3 0h1m-18 1h1m2 0h1m13 0h1m1 0h1m-23 1h1m1 0h1m14 0h1m2 0h1m6 0h1m-27 1h1m4 0h1m0 1h1h1m2 0h1h1m1 0h1m5 0h1m8 0h1m-29 1h1m11 0h1m7 1h1m-14 1h1m4 0h1m13 0h1m0 2h1m-22 3h1m15 1h1m14 10h1m-1 1h1m1 0h1m1 0h1m-5 1h1m2 0h1" stroke="#f8cb24" stroke-opacity="0.40"/>
<path d="M426 242h1m-8 1h1m3 0h1m4 1h1m-15 1h1m-7 1h1m16 0h1m-20 2h1m5 0h1h1m1 0h1m-3 1h1m9 0h1h1m-21 1h1m1 0h1m-1 1h1m8 0h1m4 0h1m-10 1h1m-4 1h1m4 0h1m4 0h1m4 0h1m8 0h1m-37 1h1m15 0h1m1 0h1m5 0h1h1m6 0h1m3 0h1m-36 1h1m4 0h1m1 0h1m10 0h1m9 0h1m-21 1h1m23 0h1m-24 1h1m13 0h1m5 0h1m19 13h1m-4 1h1" stroke="#f89a35" stroke-opacity="0.25"/>
<path d="M417 243h1m6 0h1m-10 1h1m7 0h1m-3 1h1m7 0h1m-20 1h1m2 0h1m7 0h1m8 0h1m-5 1h1m4 0h1m-28 1h1m3 0h1m5 0h1m4 0h1m1 0h1m5 0h1m-17 1h1m10 0h1m2 0h1m3 0h1m-21 1h1m10 0h1m8 0h1m-27 1h1m6 0h1m6 0h1m1 0h1m4 0h1m6 0h1m-15 1h1m1 0h1m1 0h1m3 0h1m-23 1h1h1m7 0h1m-14 1h1m16 0h1m6 0h1m2 0h1m-16 1h1m5 0h1m-5 4h1m31 12h1" stroke="#f8cb24" stroke-opacity="0.72"/>
<path d="M425 243h1m-16 2h1m7 0h1m3 0h1m-9 1h1m-8 1h1h1m7 0h1m1 0h1m5 0h1m-18 1h1m-2 1h1m9 0h1h1m-6 1h1m18 0h1m-25 1h1m4 0h1m1 0h1m10 0h1m-28 1h1m27 0h1m2 0h1m-24 1h1m19 0h1m-20 1h1m3 0h1m13 0h1m-18 1h1m5 0h1m3 0h1h1m-11 1h1m3 0h1m4 0h1m3 0h1m-7 1h1m-3 1h1m6 0h1m3 0h1m-17 1h1m9 0h1" stroke="#f89a35" stroke-opacity="0.55"/>
<path d="M418 244h1m3 0h1m-15 1h1m-4 2h1m4 0h1m22 1h1m-33 1h1h1m2 0h1m4 0h1m-8 1h1m12 0h1m5 0h1m2 0h1m-21 1h1m2 0h1m13 0h1m5 0h1m1 0h1m-19 1h1h1m9 0h1m4 0h1m-24 1h1m3 0h1m5 0h1m12 0h1m-26 1h1m5 0h1h1m2 0h1m10 0h1m-8 2h1m12 0h1m-10 1h1m2 0h1m-3 2h1m-1 1h1m19 10h1" stroke="#f89a35" stroke-opacity="0.40"/>
<path d="M427 245h1h1m-25 2h1m12 0h1m-17 1h1m14 0h1h1h1m-12 1h1m6 0h1m3 0h1m-17 1h1m5 0h1m4 0h1m4 0h1m-19 1h1h1h1m15 0h1m-12 1h1m8 0h1m1 0h1m12 0h1m-15 1h1m1 0h1m1 0h1m5 0h1m-13 1h1m2 0h1m11 0h1m-30 1h1m11 0h1m8 0h1m-3 1h1m-8 1h1h1m-7 1h1m15 1h1" stroke="#f89a35" stroke-opacity="0.72"/>
<path d="M422 247h1m-24 3h1m27 0h1m-28 2h1m2 0h1h1m-8 1h1m1 0h1m24 0h1m-25 1h1m5 0h1m10 0h1m-22 1h1m8 0h1m4 0h1m1 0h1m3 0h1m6 0h1m2 0h1m1 0h1m-31 1h1m11 0h1h1h1m-6 1h1m1 0h1m7 0h1m4 0h1m4 0h1h1m-23 1h1m2 0h1m13 0h1h1m6 0h1m-17 1h1m-2 1h1h1m2 0h1m-12 1h1m14 0h1m-5 1h1m-2 2h1" stroke="#f46d4c" stroke-opacity="0.55"/>
<path d="M400 250h1m6 0h1m-6 2h1m2 0h1m2 0h1m1 0h1m-9 1h1m11 0h1m-10 1h1m13 0h1m-22 1h1m4 0h1m2 0h1m17 0h1m2 0h1m-31 1h1m5 0h1h1m3 0h1m14 0h1m1 0h1m-26 1h1m1 0h1m20 0h1m1 0h1m-28 1h1m6 0h1m9 0h1m2 0h1m8 0h1m-27 1h1m5 1h1m21 0h1m-24 1h1m6 0h1m3 0h1m1 0h1m-7 1h1m5 7h1" stroke="#f46d4c" stroke-opacity="0.72"/>
<path d="M401 250h1m-4 3h1m11 0h1m20 0h1m-34 1h1m5 0h1m2 1h1m21 0h1m-14 1h1m7 0h1m3 0h1m-32 1h1m13 0h1h1m16 0h1m-13 1h1m-20 1h1m9 0h1m19 0h1m-32 1h1m8 0h1m16 0h1m2 0h1m-12 2h1m5 1h1m3 2h1" stroke="#f46d4c" stroke-opacity="0.25"/>
<path d="M399 251h1m1 2h1m7 2h1m-14 1h1m29 0h1m-19 1h1m-12 1h1m3 0h1m1 0h1h1m7 0h1m-6 1h1m-6 1h1m16 0h1m1 0h1m-14 1h1m5 0h1m8 0h1m5 0h1m3 0h1m-26 1h1m1 0h1m8 0h1m6 0h1m-16 1h1m5 0h1m-15 3h1m3 0h1h1m7 2h1m2 3h1" stroke="#e84571" stroke-opacity="0.72"/>
<path d="M411 251h1m-15 3h1m3 3h1m-3 1h1m2 0h1m-7 1h1m7 0h1m9 0h1m2 0h1m9 0h1m-33 1h1m17 0h1m17 0h1h1m2 0h1m-1 1h1m-27 1h1m7 0h1m14 0h1m-24 1h1m4 1h1h1m10 0h1m-10 1h1m9 1h1m10 11h1" stroke="#e84571" stroke-opacity="0.25"/>
<path d="M413 251h1m-15 1h1m-4 1h1m28 0h1m-25 1h1h1m-3 1h1m26 1h1m-18 1h1m4 0h1m2 0h1m-6 1h1m2 0h1m3 0h1m7 0h1m-30 1h1m2 0h1m18 0h1m-14 1h1m11 0h1m4 0h1m-17 1h1m1 0h1m13 1h1m-5 4h1" stroke="#f46d4c" stroke-opacity="0.40"/>
<path d="M401 252h1m18 3h1m-22 1h1m2 0h1m16 0h1m-17 1h1h1m-5 1h1m18 0h1m2 0h1m-18 1h1m10 0h1m14 0h1m-32 1h1h1m3 0h1m5 0h1h1m4 0h1m-23 1h1m14 0h1m4 0h1m4 1h1h1h1m10 1h1m-14 2h1m6 0h1m-11 1h1m6 0h1m-13 1h1m6 1h1m6 0h1m-16 1h1" stroke="#e84571" stroke-opacity="0.40"/>
<path d="M400 256h1h1m12 0h1m-17 1h1h1m11 1h1m14 0h1m-30 1h1m5 0h1m8 0h1m7 0h1m2 0h1m-21 1h1m12 0h1m13 0h1m-19 1h1m8 0h1m2 0h1h1m-14 1h1m1 0h1m8 0h1m6 0h1m-36 1h1m22 0h1m4 0h1m11 0h1h1m-32 1h1m29 2h1m-19 1h1m-1 2h1m13 0h1" stroke="#e84571" stroke-opacity="0.55"/>
<path d="M405 257h1m4 2h1m19 0h1m-7 1h1m2 0h1m0 1h1m5 0h1m-28 1h1m3 0h1m16 0h1m7 0h1m-27 1h1m2 0h1m18 0h1m-12 1h1m5 0h1m3 0h1m3 0h1m-15 1h1m7 0h1m-25 1h1m7 0h1m4 0h1m1 0h1m1 0h1h1m-14 2h1m12 0h1m9 0h1m-19 1h1m6 0h1m-13 1h1m21 0h1m-13 1h1m13 1h1m4 5h1" stroke="#d12e8c" stroke-opacity="0.25"/>
<path d="M407 258h1m-2 1h1m22 0h1m-21 1h1h1m23 0h1m-31 1h1m22 1h1m1 0h1m4 0h1m-21 1h1m14 0h1m-23 1h1m12 0h1m2 0h1m9 0h1h1m-29 1h1m11 0h1m15 0h1m3 0h1m-29 1h1h1m-4 1h1m23 0h1m1 0h1m3 0h1m1 0h1m-26 1h1m2 0h1m2 0h1m7 0h1m-16 1h1m1 0h1m22 0h1m-22 1h1m20 1h1m-27 1h1m12 0h1m13 0h1m-24 2h1" stroke="#d12e8c" stroke-opacity="0.40"/>
<path d="M411 259h1m21 0h1m-30 1h1m23 0h1m-27 1h1h1m1 0h1m14 0h1m9 0h1m-35 1h1h1m6 0h1m19 0h1m6 0h1m-28 1h1m22 0h1m2 0h1m-25 1h1m9 0h1m1 0h1m6 0h1m2 0h1m8 0h1m-36 1h1m4 0h1m8 0h1m8 1h1m-17 1h1m1 0h1m6 0h1h1m4 0h1m-14 1h1m1 0h1h1m5 0h1m1 0h1m1 0h1m15 0h1m-28 1h1m5 1h1m3 0h1m-10 1h1h1m14 1h1m8 2h1" stroke="#d12e8c" stroke-opacity="0.72"/>
<path d="M399 260h1m0 1h1m30 0h1m5 1h1m-40 1h1m8 0h1m7 0h1m3 0h1m2 0h1m2 0h1m11 0h1m-39 1h1m19 0h1m2 0h1m1 0h1m-3 1h1m3 0h1m12 0h1m-45 1h1m2 0h1m1 0h1m1 0h1m-5 1h1m11 0h1m9 0h1m1 0h1m-11 1h1m-17 1h1m29 0h1m2 1h1m-24 1h1m30 0h1m2 2h1m-1 3h1" stroke="#d12e8c" stroke-opacity="0.55"/>
<path d="M401 261h1m3 2h1m14 0h1m-13 1h1m-11 1h1m6 0h1m2 0h1m19 0h1m1 0h1m2 0h1m1 0h1m-35 1h1m10 0h1m13 0h1m1 0h1m2 0h1m-28 1h1h1m1 1h1m27 0h1h1m1 0h1m-39 1h1h1m2 0h1m13 0h1m1 0h1m2 0h1m4 0h1m-5 1h1h1m1 0h1h1m5 0h1m2 0h1m-37 1h1m11 0h1m7 1h1m17 0h1m-29 1h1m6 0h1m-6 1h1m6 0h1m-13 1h1m31 0h1m-38 1h1m34 2h1" stroke="#a03c94" stroke-opacity="0.25"/>
<path d="M436 261h1m-32 1h1m0 1h1m21 0h1m0 1h1m2 0h1m-33 1h1m3 1h1m4 0h1m20 0h1m7 0h1m-14 1h1h1m-29 1h1m1 0h1m4 0h1m24 0h1m3 1h1m1 0h1m-38 1h1h1m7 0h1m5 0h1m1 0h1m-5 1h1m12 0h1m-25 1h1m2 0h1m14 0h1m13 0h1m2 0h1m-24 1h1m24 0h1m-28 2h1m-4 2h1m31 0h1m-2 1h1" stroke="#a03c94" stroke-opacity="0.40"/>
<path d="M403 262h1m2 0h1m28 0h1m-37 1h1m12 0h1m18 0h1m-29 2h1m28 0h1m0 1h1m5 0h1m-46 1h1m18 0h1m9 0h1m4 0h1h1h1m5 0h1m-38 1h1m28 0h1m2 0h1m7 0h1m-34 1h1m1 0h1m12 0h1m15 0h1m-36 1h1m8 0h1m1 0h1m1 0h1m1 0h1m3 0h1m8 0h1m4 0h1m2 0h1h1m-22 1h1m2 0h1m9 0h1m3 0h1m2 0h1m1 0h1m-38 1h1m19 0h1m-31 1h1m10 0h1m10 0h1m3 0h1m10 0h1m5 0h1m-33 2h1m5 0h1m27 0h1m-29 3h1m28 1h1" stroke="#a03c94" stroke-opacity="0.55"/>
<path d="M433 262h1m-15 4h1m-17 1h1m23 1h1m-4 1h1m2 0h1m-25 1h1m8 0h1m-19 1h1m3 0h1m5 0h1m22 0h1m4 0h1m-41 1h1m3 0h1m8 0h1m-10 1h1m1 0h1m29 0h1m6 0h1m-13 1h1m3 0h1m7 1h1m-26 1h1m21 0h1m-22 1h1m-13 1h1m16 1h1m21 0h1m-28 2h1m23 0h1m1 1h1m1 1h1" stroke="#6f4b9b" stroke-opacity="0.25"/>
<path d="M400 263h1h1m22 0h1m9 0h1m-5 1h1m5 0h1m-36 1h1m2 0h1m4 0h1m27 0h1m-32 1h1m22 0h1m4 0h1m-35 1h1h1m5 0h1m6 0h1m6 0h1m9 0h1m1 0h1m3 0h1m-41 1h1m4 0h1h1h1m4 0h1m24 0h1m-32 1h1m6 0h1m1 0h1m-20 1h1m15 0h1m10 0h1m1 0h1m3 0h1m13 0h1m-33 1h1h1h1m6 0h1m-2 1h1m14 0h1m5 0h1h1m-38 1h1m6 0h1h1m7 0h1m21 0h1m-34 2h1m30 0h1m-1 3h1" stroke="#a03c94" stroke-opacity="0.72"/>
<path d="M436 265h1m-38 1h1m32 0h1m4 0h1m-32 2h1m30 0h1m-39 1h1m5 0h1m19 0h1m7 0h1m-38 1h1m4 0h1m34 0h1m-44 1h1m6 0h1m2 0h1m1 0h1m18 0h1m1 0h1m-32 1h1m2 0h1m3 0h1m4 0h1h1m2 0h1m6 0h1m1 0h1m3 0h1m3 0h1m-35 1h1h1m7 0h1m18 0h1m-25 1h1m2 0h1m2 0h1m5 0h1m1 0h1m6 0h1m2 0h1m9 0h1m3 0h1m-32 1h1m9 0h1m4 0h1m10 0h1m-31 1h1m11 0h1m2 0h1m16 0h1m-32 1h1m11 0h1m-9 2h1m27 0h1m-38 2h1m5 13h1" stroke="#6f4b9b" stroke-opacity="0.40"/>
<path d="M436 266h1m-38 1h1m6 0h1m28 0h1m-4 1h1m-36 1h1m32 0h1m7 0h1m-42 1h1h1m6 0h1m25 0h1m-39 2h1h1m11 0h1m7 0h1h1m1 0h1m7 0h1m-21 1h1m1 0h1m2 0h1m1 0h1m21 0h1m-39 1h1m6 0h1m12 0h1m4 0h1m-9 1h1m4 0h1m6 0h1m2 0h1m5 0h1m-23 1h1m10 0h1m13 0h1m1 0h1m-30 1h1m2 0h1m22 0h1m-2 1h1m1 1h1m-39 1h1m15 0h1m2 1h1m20 0h1m-4 2h1" stroke="#6f4b9b" stroke-opacity="0.55"/>
<path d="M427 267h1m-27 1h1m23 0h1m-24 1h1m-7 2h1h1m4 0h1m8 0h1m4 0h1m6 0h1m6 0h1m2 0h1m-12 1h1m-3 1h1h1m3 0h1m11 0h1m-38 1h1m5 0h1m22 0h1m1 0h1m2 0h1m5 0h1m-25 1h1h1m15 0h1m2 0h1m2 0h1m-36 1h1m1 0h1m12 0h1m-28 1h1m36 0h1m5 0h1m1 0h1m-2 3h1m0 1h1m-2 4h1" stroke="#6f4b9b" stroke-opacity="0.72"/>
<path d="M395 269h1m39 0h1m-39 3h1m25 1h1m2 0h1m2 0h1m-36 1h1m14 0h1m1 0h1m6 0h1m14 0h1m-43 1h1h1m10 0h1m22 0h1m2 0h1m-38 1h1m5 0h1m8 0h1h1m9 0h1m8 0h1m3 0h1m-39 1h1m3 0h1m7 0h1m11 0h1m13 0h1h1m1 0h1m-33 1h1m9 0h1m1 0h1m-18 1h1m5 0h1m9 0h1m-13 1h1h1m1 0h1m5 0h1m20 0h1m-4 1h1m4 0h1m-38 1h1" stroke="#584596" stroke-opacity="0.40"/>
<path d="M398 269h1m33 0h1m-27 1h1m-10 3h1m29 0h1m-4 1h1m3 0h1m-39 1h1m10 0h1m19 0h1m-27 1h1h1m8 0h1m8 0h1m2 0h1m16 0h1m1 0h1m-37 1h1h1m1 0h1m12 0h1m11 0h1m1 0h1m-30 1h1m11 0h1m2 0h1h1m-24 1h1m7 0h1m1 0h1m7 0h1m22 0h1m-36 1h1m6 0h1m30 0h1h1m-38 1h1m4 0h1m28 0h1m-44 1h1m41 0h1m-41 1h1m2 0h1m6 0h1m5 0h1m-14 1h1m33 0h1" stroke="#584596" stroke-opacity="0.55"/>
<path d="M395 270h1m13 2h1m22 0h1m-1 1h1h1m-37 1h1m1 0h1m5 0h1m29 0h1m-42 1h1m4 0h1m2 0h1m4 0h1m1 0h1m2 0h1m6 0h1m12 0h1m-36 1h1m1 0h1m2 0h1m6 0h1m-15 1h1m8 0h1m1 0h1m8 0h1m4 0h1m4 0h1m-21 1h1h1m2 0h1m1 0h1m6 0h1m-12 1h1m1 0h1m9 0h1h1m12 0h1m2 0h1m-40 1h1m13 0h1m23 0h1m-37 1h1m38 0h1m-50 1h1m2 0h1" stroke="#584596" stroke-opacity="0.25"/>
<path d="M433 270h1m-27 1h1m-9 1h1m27 0h1m-36 1h1m7 0h1m30 0h1m-7 1h1m4 0h1m6 0h1m-45 1h1m2 0h1h1m24 0h1h1h1m5 0h1m-31 1h1m10 0h1m9 0h1m-31 1h1m1 1h1h1m20 0h1m-24 1h1h1m2 0h1m1 0h1m11 0h1m7 0h1m-25 1h1m42 0h1m-21 1h1m-28 1h1m4 0h1m42 0h1m-29 3h1" stroke="#584596" stroke-opacity="0.72"/>
<path d="M400 272h1m25 2h1m-36 2h1m23 0h1m4 0h1m3 0h1m-35 1h1m36 0h1m-32 1h1m22 0h1h1m9 0h1m-41 1h1m4 0h1m9 0h1m8 0h1m9 0h1m-35 1h1h1h1m2 0h1m7 0h1m2 0h1m7 0h1m4 0h1m6 0h1m1 0h1m-38 1h1m2 0h1m3 0h1m2 0h1m29 0h1m-33 1h1m9 0h1m5 0h1m1 0h1m18 0h1m-38 1h1m6 0h1h1m1 0h1m3 0h1m2 0h1m-14 1h1m1 0h1m8 0h1m3 0h1m14 0h1m4 1h1m-36 1h1m27 0h1m2 0h1m2 0h1m-3 1h1m-32 1h1m27 1h1m-36 1h1m6 0h1m2 0h1m-1 1h1m14 0h1m-22 2h1m4 0h1m-2 2h1" stroke="#443e8f" stroke-opacity="0.40"/>
<path d="M391 274h1m3 1h1m13 2h1m8 0h1h1m-29 1h1m5 0h1m6 0h1m18 0h1m1 0h1m1 0h1m1 0h1m3 0h1m2 0h1m-38 1h1m22 0h1m6 0h1m-37 1h1m19 0h1m3 0h1m2 0h1m-7 1h1h1m4 0h1m-24 1h1m9 0h1m26 0h1m-25 1h1m9 0h1m7 0h1m-29 1h1m6 0h1m19 0h1m7 0h1m-44 2h1m1 0h1h1m2 0h1m36 0h1m-40 2h1m17 3h1m-2 1h1m17 1h1" stroke="#443e8f" stroke-opacity="0.25"/>
<path d="M395 274h1m6 0h1m-9 2h1m33 0h1m-35 1h1m0 1h1m32 0h1m-28 1h1m15 0h1m7 0h1m2 0h1m-24 1h1m26 0h1m-40 1h1m1 0h1m4 0h1m3 0h1m7 0h1m9 0h1m9 0h1m-32 1h1m4 0h1m3 0h1m3 0h1m8 0h1m-32 1h1m4 0h1m26 0h1m13 0h1m-46 1h1m23 0h1m19 1h1m-8 1h1m2 0h1m-28 1h1m27 0h1m-41 1h1m5 1h1m-1 1h1m4 4h1m1 2h1m4 0h1" stroke="#443e8f" stroke-opacity="0.72"/>
<path d="M427 275h1m-35 1h1m2 1h1m15 0h1m10 0h1m9 0h1m-42 1h1m5 0h1m1 0h1m2 0h1m3 0h1m18 0h1m4 0h1h1m1 0h1m-35 1h1m7 0h1m6 0h1m-7 1h1m2 0h1m11 0h1m8 0h1m-45 1h1h1m15 0h1m1 0h1m4 0h1m20 0h1m-35 1h1m2 0h1m1 0h1m2 0h1m3 0h1m5 0h1m-18 1h1m29 0h1m-38 1h1h1m13 0h1m13 0h1m-16 1h1m8 0h1m7 0h1m2 0h1h1m-28 1h1m3 0h1m-13 1h1m41 0h1m-8 1h1m3 0h1m-23 1h1m2 1h1m-10 1h1m5 3h1m-10 1h1" stroke="#443e8f" stroke-opacity="0.55"/>
<path d="M425 276h1m-2 1h1m1 2h1m-31 1h1m1 0h1m17 0h1m8 0h1m1 0h1m-36 1h1m32 0h1h1m-29 1h1m3 0h1m8 0h1m1 0h1m7 0h1h1m2 0h1m2 0h1m-35 1h1m1 0h1m7 0h1m7 0h1m1 0h1m8 0h1m8 0h1m2 0h1m-30 1h1m23 0h1m5 0h1m-43 1h1m14 0h1m6 0h1m7 0h1m6 0h1h1m-40 1h1m2 0h1m4 0h1m5 0h1h1m10 0h1m7 0h1h1m-26 1h1m3 0h1m3 0h1h1m15 0h1m-31 1h1m13 0h1m11 0h1m9 0h1m-37 1h1m8 0h1m4 0h1h1m5 0h1m-14 1h1m4 0h1m1 0h1m1 0h1m6 0h1m4 0h1m6 0h1m-38 1h1m2 0h1m2 0h1m2 0h1m14 0h1m1 0h1m6 0h1m1 0h1h1m-31 1h1h1m2 0h1m-5 1h1m4 0h1h1m6 0h1m15 0h1m-6 1h1m-19 2h1h1m11 0h1m-5 1h1m5 1h1" stroke="#353583" stroke-opacity="0.40"/>
<path d="M426 276h1m3 0h1m-9 1h1m3 0h1m-3 1h1m6 1h1m-9 1h1m6 0h1m-22 1h1m6 0h1m4 0h1m-31 1h1m2 0h1m24 0h1h1m6 0h1m-37 1h1m1 0h1m6 0h1m14 0h1m1 0h1m7 0h1m3 0h1m3 0h1m-26 1h1m10 0h1m9 0h1m1 0h1m-26 1h1m14 0h1m4 0h1m3 0h1m3 0h1m-36 1h1m-7 1h1m6 0h1m24 0h1m4 0h1m-28 1h1m3 0h1m20 0h1m3 0h1m-32 1h1m7 0h1m4 0h1m1 0h1m1 0h1m1 0h1m9 0h1m-33 1h1m6 0h1m10 0h1m12 0h1m3 0h1m1 0h1m-37 1h1m4 0h1m14 0h1m-23 1h1m10 0h1h1m11 0h1m1 0h1m-10 1h1m4 0h1h1m3 0h1m4 0h1m-29 1h1m4 0h1m8 0h1m14 0h1m-23 1h1m6 0h1m14 0h1m-24 2h1m12 0h1m-7 1h1m3 0h1m4 0h1" stroke="#353583" stroke-opacity="0.72"/>
<path d="M390 278h1m0 1h1m29 0h1m5 0h1m-39 1h1m28 0h1m2 0h1m7 0h1m-20 1h1m8 0h1m7 0h1m2 0h1m-1 1h1h1m1 0h1m-16 1h1m8 0h1m-13 1h1m-25 1h1m9 0h1m3 0h1m1 0h1m3 0h1m10 0h1m10 0h1m-29 1h1m6 0h1m11 0h1m1 0h1m2 0h1m2 0h1m3 0h1m-38 1h1m1 0h1m2 0h1h1m11 0h1m3 0h1m5 0h1m-31 1h1m16 0h1m12 0h1m-22 1h1m24 0h1m-36 1h1m27 0h1m6 0h1m-23 1h1h1m2 0h1m-8 1h1m13 0h1m-21 1h1m17 2h1m-13 1h1m11 0h1m8 0h1m-7 1h1m3 0h1m-4 1h1" stroke="#353583" stroke-opacity="0.25"/>
<path d="M422 278h1m7 1h1m3 1h1m-6 1h1m-1 1h1m2 0h1m-7 1h1m3 0h1m-35 1h1m4 0h1m2 0h1m5 0h1h1m1 0h1m2 0h1m4 0h1m4 0h1m-32 1h1m4 0h1m1 0h1m10 0h1m5 0h1m-20 1h1m3 0h1m4 0h1m-14 1h1m12 0h1h1m5 0h1m5 0h1m-23 1h1m5 0h1m8 0h1m9 0h1m9 0h1m-41 1h1m1 0h1m24 0h1m4 0h1m1 0h1m4 0h1m-36 1h1m2 0h1m5 0h1m1 0h1m8 0h1m8 0h1m-13 1h1h1m10 0h1m2 0h1m-16 1h1m9 0h1m2 0h1m-31 1h1m2 0h1m2 0h1m5 0h1h1m4 0h1m3 0h1m3 0h1m4 0h1m-29 1h1m11 0h1m1 0h1m5 0h1m6 0h1m-13 1h1m10 0h1m-18 1h1m3 0h1m7 1h1m-5 1h1" stroke="#353583" stroke-opacity="0.55"/>
<path d="M422 280h1m-27 1h1m26 0h1m-20 1h1m11 0h1m5 1h1m-26 1h1m6 1h1m3 2h1m5 0h1m8 0h1m2 0h1m6 0h1m-33 1h1m9 0h1m-10 1h1m2 0h1m17 1h1m-16 1h1m-10 1h1m2 0h1m27 0h1m2 0h1m-30 1h1m21 0h1m-23 1h1m7 0h1m5 0h1m7 0h1m-23 1h1m16 0h1m7 0h1m-17 1h1m0 1h1" stroke="#2b2b72" stroke-opacity="0.40"/>
<path d="M424 281h1m-3 3h1m11 0h1m-15 1h1m-11 1h1m6 0h1m2 0h1m-3 1h1m1 0h1m3 0h1m-8 1h1h1m1 0h1m5 0h1m-19 1h1m1 0h1m22 0h1m1 0h1m-27 1h1m7 0h1m3 0h1m8 0h1m-33 1h1m16 0h1m-18 1h1m1 0h1m4 0h1m6 0h1m6 0h1m7 0h1m4 0h1m-23 1h1m2 0h1m4 0h1m8 0h1m-28 1h1m7 0h1m19 0h1m2 0h1m-25 1h1m3 0h1h1m1 0h1m1 0h1m2 0h1h1m4 0h1m-9 1h1m3 0h1m2 0h1m-6 1h1m6 0h1" stroke="#2b2b72" stroke-opacity="0.72"/>
<path d="M424 282h1m-4 1h1m-2 1h1m-29 1h1m30 0h1m-9 1h1m6 0h1m-25 1h1m33 0h1m-38 1h1m3 0h1m2 0h1m5 0h1h1m12 0h1h1m6 0h1m-35 1h1m2 0h1m17 0h1m10 0h1m-26 1h1m14 0h1m-1 1h1m6 0h1m1 0h1m1 0h1m-20 1h1h1m3 0h1m8 0h1h1m2 0h1m-31 1h1m8 0h1m-9 1h1m10 0h1m10 0h1m1 0h1h1m-3 1h1m-4 1h1m-9 1h1m-3 1h1m11 0h1" stroke="#2b2b72" stroke-opacity="0.55"/>
<path d="M391 284h1m20 0h1m-20 1h1m5 0h1m12 0h1m1 0h1h1m-3 1h1m4 0h1m4 0h1m-11 1h1m5 0h1m-10 1h1m8 0h1m11 0h1m-29 1h1h1m18 0h1m-23 1h1m18 0h1m5 1h1m-26 1h1m29 0h1m-9 1h1m4 0h1m-22 1h1m1 0h1m3 0h1m11 0h1m-20 1h1m2 0h1h1m2 0h1m10 0h1m-17 1h1m5 0h1m10 0h1m-13 1h1m1 0h1h1" stroke="#2b2b72" stroke-opacity="0.25"/>
<path d="M424 284h1m1 6h1m-22 6h1m10 0h1m3 0h1" stroke="#212161" stroke-opacity="0.55"/>
<path d="M398 285h1m30 2h1m-9 1h1m1 7h1m-7 2h1" stroke="#212161" stroke-opacity="0.25"/>
<path d="M418 285h1m8 0h1m4 5h1m-18 3h1m6 0h1m-6 1h1m2 0h1m5 1h1m-4 1h1" stroke="#212161" stroke-opacity="0.72"/>
<path d="M414 286h1m-18 1h1m18 1h1m-2 1h1m8 0h1m-1 2h1m-11 1h1m3 0h1" stroke="#212161" stroke-opacity="0.40"/>
</g>
<polygon points="433.5,273.9 436.9,272.5 442.0,270.9 446.9,270.6 446.4,271.5 441.5,272.1 436.9,273.5 434.3,274.6" fill="#f8c726" opacity="0.55"/>
<rect x="393.5" y="301.4" width="48.6" height="5.6" fill="url(#gPl)" stroke="#111" stroke-width="1"/>
<path d="M395.9 307V308.6M407.6 307V308.6M419.7 307V308.6M431.4 307V308.6" stroke="#111" stroke-width="0.8"/>
<text x="395.40" y="316.40" font-size="7.4" stroke="#111" stroke-width="0.1">0.8</text>
<text x="430.80" y="316.40" font-size="7.4" stroke="#111" stroke-width="0.1">1.1</text>
<text x="408.30" y="231.30" font-size="8.7" textLength="16.20" lengthAdjust="spacingAndGlyphs" font-style="italic" stroke="#111" stroke-width="0.1">FLI1</text>
<g transform="translate(0 .5)" fill="none" stroke-width="1">
<path d="M485 242h1m3 1h1m-9 1h1m1 1h1m7 0h1m4 0h1m-26 1h1h1m12 0h1m5 0h1m-14 1h1m5 0h1m3 0h1m-17 1h1m1 0h1m4 0h1m-14 1h1m5 0h1m4 0h1m9 0h1m2 0h1m4 0h1m2 0h1m-29 1h1m12 0h1m-11 1h1m16 0h1m-24 1h1m2 0h1m6 0h1h1m-15 1h1h1h1m4 0h1m3 0h1m19 0h1m-32 2h1m7 1h1m-11 1h1m7 0h1m13 1h1m12 1h1m-9 2h1m6 0h1m2 1h1m-6 1h1m-1 1h1m-7 2h1m4 0h1m-31 7h1m5 0h1m-14 2h1m10 0h1m4 0h1m-11 1h1m3 1h1m-9 1h1m-3 1h1m1 0h1m3 0h1m3 0h1m-10 1h1m8 0h1" stroke="#e84571" stroke-opacity="0.40"/>
<path d="M486 242h1m-3 1h1m2 0h1m-12 2h1h1m-4 1h1m20 0h1m-16 1h1m-12 2h1m26 1h1m1 0h1m-35 2h1m29 5h1m5 4h1m-6 2h1m-7 4h1m5 1h1m-2 1h1m1 0h1m-5 1h1m10 1h1m-16 1h1m-3 1h1m0 1h1m-5 1h1m-2 1h1h1m-29 1h1m13 0h1m10 0h1m-25 1h1m7 0h1m2 0h1m35 0h1m-47 1h1m3 0h1m-3 1h1m5 0h1m6 0h1m4 0h1m-23 1h1m1 0h1m5 0h1h1h1m1 0h1m3 0h1m4 0h1m-13 2h1m2 2h1" stroke="#d12e8c" stroke-opacity="0.25"/>
<path d="M487 242h1h1m3 1h1m-10 1h1m3 0h1m2 0h1m-15 2h1h1m3 0h1m1 0h1m4 0h1m7 0h1m1 0h1m-12 1h1m8 0h1m-30 1h1m9 0h1m18 0h1m-29 1h1m2 0h1m-4 1h1m3 0h1m-9 1h1m15 0h1m2 0h1m2 0h1m9 0h1m-26 1h1m3 0h1m5 0h1m13 0h1m-29 1h1m16 0h1m5 0h1h1m-27 1h1m10 0h1m16 0h1m1 0h1m-33 2h1m0 1h1m12 0h1m15 1h1m3 2h1m0 1h1m-8 1h1m0 3h1h1m-4 2h1h1m-1 1h1m-25 2h1m19 0h1m0 1h1m-30 2h1m27 0h1m-25 2h1m18 0h1m1 0h1m-25 1h1m-1 1h1m2 0h1h1m11 0h1m1 0h1m-10 1h1m3 0h1m-10 1h1m5 0h1m3 0h1m-1 1h1" stroke="#e84571" stroke-opacity="0.55"/>
<path d="M489 242h1m-7 1h1m10 0h1m-16 1h1m1 1h1m-2 1h1m5 0h1m3 0h1m3 0h1m-19 2h1m10 0h1m-15 2h1m4 0h1m7 0h1h1m2 0h1m1 0h1h1m-29 1h1m9 0h1m3 0h1m-14 3h1m4 0h1m8 0h1h1m6 0h1m8 0h1m-21 1h1m6 0h1m3 0h1m5 0h1m-16 1h1m4 0h1m3 0h1m2 0h1m3 0h1m-15 1h1m2 0h1m5 0h1m-29 1h1m3 0h1m18 0h1m-22 1h1m21 0h1m5 0h1m-14 1h1m12 0h1m2 0h1m-8 1h1m1 0h1m-25 1h1m16 0h1m-10 1h1m11 0h1m0 1h1m4 0h1m-9 2h1m2 0h1m0 1h1m-18 1h1m16 1h1m-6 1h1h1m1 1h1m-29 1h1m2 0h1m7 0h1m4 0h1m7 0h1m3 0h1m-26 2h1m2 0h1m8 0h1m-12 1h1m5 0h1h1m10 0h1m-1 1h1m-14 1h1h1m4 0h1m-15 2h1" stroke="#f46d4c" stroke-opacity="0.40"/>
<path d="M490 242h1m-11 3h1m5 0h1m-12 1h1m16 0h1m-4 1h1h1m-20 1h1m8 0h1h1m8 0h1h1m-13 1h1m3 0h1m7 0h1m-25 1h1m1 0h1m5 0h1m-10 1h1m5 0h1m3 0h1m5 0h1m1 0h1h1m2 0h1h1m-27 1h1m10 0h1m16 0h1h1m-16 1h1m1 0h1m6 0h1h1m6 0h1m1 0h1m-24 1h1m8 0h1m8 0h1m4 0h1m-31 1h1h1h1h1m2 0h1m7 0h1m10 0h1h1m-29 1h1m18 0h1m2 0h1m-24 1h1m3 0h1m21 0h1m5 0h1m-31 1h1m23 0h1m1 0h1m-14 1h1m9 0h1m-18 1h1m21 0h1m-14 2h1m9 0h1m-4 1h1m0 2h1m1 0h1m-6 1h1m3 0h1m1 0h1m-7 3h1m25 0h1m-47 1h1m20 0h1m-27 1h1m4 0h1m18 0h1m0 1h1m-30 1h1m15 0h1m1 0h1m9 0h1m-26 1h1h1m2 0h1m4 0h1m13 0h1m-26 1h1m3 0h1m3 0h1h1m3 0h1m8 0h1m-14 1h1m12 0h1m-5 1h1m-6 1h1h1" stroke="#f46d4c" stroke-opacity="0.72"/>
<path d="M492 242h1m-11 1h1m-3 1h1m4 0h1m9 0h1m-3 1h1m-12 1h1m1 0h1m2 0h1m-18 1h1m10 0h1m4 0h1m-19 1h1m1 0h1m22 0h1h1m3 0h1m-34 1h1m7 0h1m22 0h1m-20 1h1m4 0h1m-13 1h1m6 0h1m-16 2h1h1m6 0h1m3 0h1m-14 1h1m10 0h1m4 0h1m-17 1h1m9 0h1m23 0h1m-34 1h1m25 2h1m1 1h1m3 1h1m-12 1h1m8 1h1m-2 1h1m1 1h1m-5 4h1m-1 1h1h1h1m-4 1h1m-2 2h1m1 0h1m-29 1h1m23 0h1m5 0h1m-35 1h1m12 0h1m-13 1h1m5 0h1m20 0h1m-29 1h1m1 0h1m-3 1h1m8 1h1m1 0h1m8 0h1m-13 1h1m9 0h1m3 0h1" stroke="#e84571" stroke-opacity="0.25"/>
<path d="M485 243h1m0 1h1m6 0h1m-20 1h1m3 0h1m3 0h1m-4 1h1m2 2h1m2 0h1m2 0h1m-9 1h1m1 0h1m1 0h1m4 0h1m-1 1h1m4 0h1m-24 1h1m20 0h1m1 0h1m2 0h1m-29 1h1m9 0h1h1m1 0h1m1 0h1m5 0h1m2 0h1m-21 1h1m11 0h1m-19 1h1m2 0h1m3 0h1m-5 1h1m7 0h1m7 0h1h1m2 0h1m-30 1h1m15 0h1m12 0h1m-19 1h1m-6 1h1m2 0h1m11 0h1m-15 1h1m4 1h1m6 0h1m1 1h1m8 0h1m-4 3h1h1m-17 1h1m18 1h1m-27 2h1m6 0h1m14 0h1m-22 1h1m-10 2h1m7 0h1m22 0h1m-7 1h1m-24 1h1m20 0h1m-15 1h1m4 0h1m13 0h1m-28 1h1m11 0h1m3 0h1m-13 1h1m-8 1h1m6 1h1m8 0h1m1 0h1m3 0h1m-18 2h1" stroke="#f46d4c" stroke-opacity="0.25"/>
<path d="M488 243h1m3 2h1m-21 2h1m3 0h1m18 0h1m-4 1h1m-22 2h1m23 0h1m1 3h1m-29 3h1m23 1h1m5 3h1m-7 1h1m1 0h1m3 0h1m0 1h1m1 2h1m-10 4h1m-1 1h1m-1 1h1m-6 4h1m-8 1h1m-24 1h1m25 0h1m-28 2h1m7 0h1m14 0h1h1m-15 2h1m2 1h1m6 0h1m-11 1h1m3 0h1m-17 1h1" stroke="#d12e8c" stroke-opacity="0.72"/>
<path d="M490 243h1m3 1h1m-22 2h1m4 0h1m-4 1h1m-7 1h1m5 0h1m-1 1h1m-10 1h1m7 0h1m-10 2h1m20 0h1m-19 1h1m28 5h1m-7 1h1m2 2h1m-1 1h1m4 1h1m2 5h1m-8 1h1m-7 1h1m11 1h1m1 4h1m-49 1h1m25 1h1m-28 1h1m27 0h1m-28 1h1m4 0h1m11 0h1m3 0h1m1 0h1m4 0h1m-28 1h1m5 0h1m10 0h1m2 0h1m-16 1h1m11 0h1m-13 4h1" stroke="#d12e8c" stroke-opacity="0.55"/>
<path d="M491 243h1m-4 1h1h1m2 0h1m3 0h1m-24 1h1m11 0h1m1 0h1m7 0h1m-7 1h1m-19 1h1m1 0h1m5 0h1m2 0h1h1m-1 1h1m-10 1h1m1 0h1m1 0h1m18 0h1m-19 1h1m17 0h1m-31 1h1m6 0h1m3 0h1m14 0h1m-32 1h1m3 0h1m18 0h1m10 0h1m-36 1h1m10 0h1m5 0h1m19 0h1m-36 1h1m30 0h1m-32 1h1m1 0h1m27 0h1m2 0h1m-31 1h1h1m20 1h1m5 2h1h1h1m-8 1h1m1 0h1m4 0h1m-9 3h1m2 1h1m-1 1h1m0 2h1m-3 3h1m-4 1h1m-5 2h1m-24 2h1m0 1h1m3 0h1m3 0h1h1m1 0h1m-14 1h1m11 0h1m2 0h1m-20 1h1m7 1h1m5 0h1m3 0h1m-16 1h1m11 0h1h1m3 1h1" stroke="#e84571" stroke-opacity="0.72"/>
<path d="M493 243h1m-12 1h1m8 0h1m-13 1h1m-3 2h1m-8 2h1m-6 1h1m3 1h1m24 1h1m2 0h1m0 7h1m-2 3h1m-5 1h1m3 1h1m-4 1h1m-1 1h1m10 1h1m-16 4h1m4 1h1m-11 4h1h1m-26 1h1m10 0h1m31 0h1h1m-47 1h1m1 0h1h1m16 0h1m-13 1h1m3 0h1m3 1h1m-18 2h1m11 0h1m-14 1h1m3 0h1m-6 1h1" stroke="#d12e8c" stroke-opacity="0.40"/>
<path d="M484 245h1m-4 4h1m6 0h1m-25 1h1m26 0h1m-16 2h1m5 1h1h1m-6 1h1m-6 2h1h1m10 0h1m3 0h1m-12 1h1h1m3 0h1m-11 1h1m5 0h1m-6 1h1m9 0h1h1m-23 1h1m5 0h1m-6 1h1m16 1h1m4 0h1m1 0h1m-17 1h1m-6 1h1m4 0h1m1 0h1m1 0h1m2 0h1m3 0h1m2 0h1m-19 1h1m10 0h1m-4 1h1m6 1h1m-17 1h1m6 0h1m5 2h1h1h1m2 0h1m23 0h1m-43 1h1h1m6 0h1m1 0h1m5 0h1m23 0h1m2 0h1m-44 1h1m2 0h1m5 0h1m3 1h1m-14 3h1" stroke="#f89a35" stroke-opacity="0.40"/>
<path d="M488 245h1m1 0h1m3 0h1m-2 1h1m-9 1h1m5 0h1m2 0h1m-17 1h1m-12 1h1m17 0h1m6 0h1m-17 1h1m3 0h1h1m-14 1h1m12 0h1m13 0h1m-9 1h1m-19 1h1m-8 1h1m1 0h1m4 0h1m5 0h1m8 0h1m4 0h1m-17 1h1h1m-15 1h1m19 0h1m13 0h1m-30 1h1m9 0h1m16 0h1m-30 1h1m4 0h1m17 0h1m5 0h1m-27 1h1m2 0h1m17 0h1m-24 1h1m27 1h1m4 0h1m-9 1h1m3 0h1m-31 1h1m26 0h1m-30 2h1m7 1h1m0 1h1m14 0h1m-25 1h1m24 0h1m-22 1h1m-7 2h1m9 0h1m4 0h1m-16 1h1m6 0h1m5 0h1m-11 1h1m-5 1h1m3 0h1m3 0h1m4 0h1m6 0h1m6 0h1m-9 1h1m-22 1h1m7 0h1m6 0h1m2 0h1m-17 1h1m3 0h1m2 0h1m9 1h1m-7 2h1" stroke="#f46d4c" stroke-opacity="0.55"/>
<path d="M489 245h1m-9 8h1m-17 3h1m9 0h1m0 1h1m-6 1h1m-7 1h1m2 1h1m7 0h1m1 0h1m-13 1h1m1 0h1m5 1h1m2 0h1m6 1h1m-10 1h1m9 0h1m-16 1h1m13 0h1m-20 2h1m6 0h1m1 0h1m-5 1h1m5 0h1m-6 1h1m4 0h1m30 0h1m-40 1h1m7 0h1m-1 1h1m-6 1h1m5 0h1m-11 1h1" stroke="#f8cb24" stroke-opacity="0.55"/>
<path d="M484 248h1m10 14h1m1 1h1m-3 1h1m0 1h1m6 0h1m-8 1h1m5 0h1m-8 1h1h1m-3 1h1m3 0h1m0 1h1m-8 2h1m13 0h1m-17 2h1m8 1h1m5 0h1m-20 1h1h1m13 0h1m2 0h1m-24 1h1m21 0h1h1m-22 1h1m-20 3h1m15 0h1m1 0h1m-27 1h1m5 0h1m5 0h1m5 0h1m-20 1h1m1 0h1m10 0h1m35 0h1m-43 1h1m4 0h1m-3 1h1m8 1h1m-20 1h1m6 0h1" stroke="#a03c94" stroke-opacity="0.72"/>
<path d="M486 248h1m1 2h1m2 1h1m-20 1h1m19 1h1m-7 1h1h1m2 0h1m-16 1h1m0 1h1m15 0h1m-27 1h1m18 0h1m-17 1h1m10 0h1m-18 1h1m11 0h1m7 0h1m-14 1h1m10 0h1m1 0h1m-15 1h1h1m2 1h1m4 1h1m3 0h1m2 0h1m3 0h1m2 0h1m-13 1h1m-6 1h1m10 0h1h1m-25 1h1m4 0h1m5 0h1m-16 1h1m13 0h1m3 0h1m6 0h1m1 0h1m-18 1h1m9 0h1m3 0h1m3 0h1m-25 1h1m20 0h1m-8 1h1m33 0h1m-50 1h1m7 0h1m8 0h1h1m-21 1h1m1 0h1m21 0h1m-12 1h1m2 0h1h1m-13 1h1m9 0h1m1 0h1m1 0h1m1 0h1" stroke="#f89a35" stroke-opacity="0.72"/>
<path d="M495 248h1m1 0h1m-14 2h1m-17 2h1m19 0h1m-9 1h1m12 0h1m-11 1h1m-1 1h1m1 0h1m-16 1h1m16 0h1m-19 1h1m10 0h1m5 0h1m-13 1h1h1h1h1m3 0h1m-12 1h1m1 0h1m4 0h1m11 0h1m-29 1h1m23 0h1m-8 1h1m-1 1h1m-14 2h1m12 0h1m5 0h1m4 1h1m-12 1h1m-11 1h1m-9 1h1m-2 1h1m12 0h1m5 0h1m30 0h1m-49 2h1m19 0h1m27 0h1m-32 1h1m-13 1h1m2 1h1m4 0h1m-1 1h1m1 0h1m-1 1h1" stroke="#f89a35" stroke-opacity="0.55"/>
<path d="M487 251h1m1 1h1m-2 1h1h1m-22 1h1m10 0h1m2 1h1m-2 1h1h1m-12 1h1m1 0h1m17 0h1m-20 1h1m0 1h1m5 0h1m1 0h1h1m-16 1h1m6 0h1m7 0h1m3 0h1m3 0h1m-24 1h1m13 0h1m2 0h1h1h1m-12 1h1h1m2 0h1m4 0h1h1m-15 1h1m3 0h1m4 0h1m2 0h1m-3 1h1h1m-2 1h1m-20 1h1m2 0h1m24 0h1m-22 1h1m8 0h1m8 0h1m-29 1h1m21 0h1m2 0h1h1m-24 1h1m17 0h1h1m1 0h1m2 0h1m-28 1h1m4 0h1m1 0h1m4 0h1h1m5 0h1m27 0h1m1 0h1m-46 1h1m18 0h1m2 0h1m-29 1h1m6 0h1m14 0h1m1 0h1m-18 1h1m5 0h1h1m6 0h1m3 0h1m-7 1h1m-4 1h1m-6 1h1m8 0h1m-8 1h1" stroke="#f89a35" stroke-opacity="0.25"/>
<path d="M476 255h1m2 0h1m-2 1h1m4 2h1m3 0h1m2 0h1m-24 1h1m8 0h1m-5 1h1m2 0h1m1 0h1m10 0h1m-17 1h1h1m2 0h1m-5 1h1m3 1h1m-10 2h1m17 0h1m-20 1h1m5 0h1m3 1h1m-13 1h1m-5 1h1m5 0h1m1 0h1h1m12 0h1m-20 1h1m11 0h1m31 0h1m-37 1h1m1 0h1m-9 2h1m9 0h1m7 1h1" stroke="#f8cb24" stroke-opacity="0.25"/>
<path d="M481 255h1m-11 6h1m5 0h1m-13 1h1m16 0h1m-13 2h1m6 0h1m-3 2h1m1 0h1m-7 1h1m-7 1h1m9 0h1m2 0h1m8 1h1m-28 1h1m8 0h1m4 0h1m4 0h1m30 0h1m-3 1h1m-36 1h1m-6 1h1m10 0h1m-2 2h1" stroke="#f8cb24" stroke-opacity="0.72"/>
<path d="M474 257h1m12 0h1m-10 1h1m-13 2h1m20 0h1m-23 1h1m8 0h1h1m3 0h1h1m-11 1h1h1m5 1h1m1 0h1m-14 2h1m2 0h1m4 0h1m7 0h1h1m-25 1h1m4 0h1m5 0h1h1m-6 1h1h1m7 0h1m-13 1h1m4 0h1m13 0h1m-22 1h1m2 0h1m5 0h1m2 0h1h1h1m1 0h1m-17 1h1h1m7 0h1m2 0h1m-10 1h1m7 0h1m5 0h1m-14 1h1m9 0h1" stroke="#f8cb24" stroke-opacity="0.40"/>
<path d="M496 258h1m1 2h1m2 2h1m0 1h1m-7 1h1m-2 1h1m2 0h1m5 0h1m-8 1h1m5 1h1m0 1h1m-13 1h1m11 0h1m-14 1h1m4 0h1m-6 1h1m-1 1h1m6 0h1m4 0h1m-4 3h1m-22 2h1m2 0h1m3 1h1m-19 1h1m8 0h1m-15 1h1m4 0h1m-11 1h1m19 0h1m26 0h1m-43 1h1m14 0h1m-23 1h1m17 0h1m-11 2h1m6 0h1m-8 1h1" stroke="#a03c94" stroke-opacity="0.40"/>
<path d="M499 259h1m0 1h1m-3 4h1m-4 2h1m3 0h1h1m3 0h1m-4 2h1m1 0h1m1 0h1m-8 1h1m-2 1h1m4 0h1m-9 1h1m2 0h1m1 0h1m5 0h1m-16 1h1m8 0h1m-11 2h1m11 0h1m-14 1h1m13 0h1m-19 3h1m-4 1h1m-27 1h1m4 0h1m17 0h1m-20 1h1h1m5 0h1m14 0h1m-16 1h1m2 0h1m4 0h1m2 0h1m-20 1h1h1m5 0h1m10 0h1m-9 1h1m1 0h1m-8 1h1m-7 1h1m3 0h1" stroke="#a03c94" stroke-opacity="0.55"/>
<path d="M501 261h1m-2 2h1m-4 2h1m-5 2h1m6 3h1m3 2h1m-4 1h1m3 2h1m-16 1h1m-6 2h1m19 0h1m-11 1h1m-17 1h1m-26 1h1m28 0h1m-27 3h1m1 0h1m13 0h1h1m1 0h1m-11 1h1m-9 1h1h1h1m2 0h1m7 1h1m-12 1h1m3 0h1m-3 1h1m6 0h1" stroke="#6f4b9b" stroke-opacity="0.25"/>
<path d="M496 262h1m4 1h1m-1 2h1m-1 1h1m0 1h1m-6 1h1m1 0h1m0 1h1m3 1h1m-13 3h1m2 0h1m3 0h1m4 0h1h1m-15 1h1m2 0h1h1m-5 1h1m5 0h1m-3 2h1m4 0h1m2 0h1m-7 2h1m4 1h1m-23 1h1m23 0h1m-46 1h1h1h1m6 1h1m8 0h1m-17 1h1h1m14 0h1m-20 1h1m3 0h1m5 1h1m-8 1h1m2 0h1m7 0h1m-9 2h1m6 0h1" stroke="#6f4b9b" stroke-opacity="0.72"/>
<path d="M498 262h1m-1 1h1m0 2h1m-1 2h1m1 0h1m0 2h1h1m-8 2h1m4 1h1m-13 1h1m12 0h1m-1 1h1m1 0h1m-10 1h1m-9 1h1m11 0h1m-16 1h1m13 1h1m-14 1h1m15 0h1m1 0h1h1m-18 1h1m-12 2h1m24 0h1m1 0h1m-44 1h1m9 0h1m0 1h1h1m-16 1h1m-2 1h1m8 0h1m6 0h1m2 0h1m25 0h1m-36 1h1m-4 1h1m0 2h1" stroke="#6f4b9b" stroke-opacity="0.55"/>
<path d="M502 262h1m-7 1h1m3 1h1m2 2h1m-8 2h1m3 0h1m-4 1h1m-4 1h1h1m2 0h1h1m1 0h1m3 0h1m-13 1h1m8 0h1m1 0h1m0 1h1m-18 1h1m5 0h1m5 0h1m-18 5h1m-4 1h1m0 1h1m-13 1h1m2 0h1m-19 1h1m1 0h1m5 0h1m1 0h1h1m6 0h1m-10 1h1m2 0h1m2 0h1m1 0h1m-9 1h1m-5 1h1h1" stroke="#a03c94" stroke-opacity="0.25"/>
<path d="M501 264h1m-4 3h1m1 0h1m-1 7h1m-8 1h1m2 1h1h1m-12 1h1m1 0h1m6 1h1m-6 1h1m1 0h1m10 1h1m-5 1h1h1h1m-29 2h1m26 0h1m-23 1h1m23 0h1m-35 1h1m7 0h1m-10 1h1m8 0h1h1m-13 1h1m-4 1h1m15 0h1m-16 1h1m3 0h1m1 1h1m-7 1h1m7 1h1" stroke="#584596" stroke-opacity="0.40"/>
<path d="M500 265h1m3 2h1m-4 2h1m-2 3h1m1 0h1m-11 2h1m0 2h1m-7 1h1m9 0h1m-9 1h1m9 0h1h1h1h1m-21 1h1m1 0h1m14 0h1m-6 1h1m-16 2h1m1 0h1m-15 2h1m11 0h1m-7 1h1m-5 1h1m1 0h1m-3 1h1h1m7 0h1m-13 2h1m-5 1h1m5 0h1m-4 2h1m-1 1h1" stroke="#584596" stroke-opacity="0.25"/>
<path d="M502 265h1m-6 2h1m5 3h1m-9 1h1m4 0h1m-9 1h1h1m2 0h1m-1 1h1m-4 1h1m9 0h1m-14 1h1m1 0h1m-5 1h1m12 0h1h1m-1 1h1m1 1h1m-5 1h1m-18 1h1m-5 1h1m23 0h1m-29 1h1m-10 2h1m8 0h1m-11 1h1m11 0h1h1m-6 1h1m-11 1h1" stroke="#6f4b9b" stroke-opacity="0.40"/>
<path d="M497 272h1m-1 1h1m0 2h1m-5 1h1m-4 1h1m1 0h1m2 0h1m-12 4h1m16 0h1m-23 2h1m22 0h1m-6 1h1h1m-31 1h1m-4 1h1m3 0h1m4 1h1m-6 1h1m1 0h1m-5 3h1m-5 1h1" stroke="#584596" stroke-opacity="0.55"/>
<path d="M493 273h1m4 0h1m-5 2h1m4 0h1m0 1h1m0 1h1m-6 1h1m-10 1h1m10 0h1m0 1h1m-4 2h1m-25 1h1m5 0h1m6 0h1m13 0h1m-40 1h1m20 0h1m15 0h1m-28 1h1m4 0h1m24 1h1m-39 1h1m4 0h1m34 0h1m-42 1h1m4 0h1h1h1m2 0h1m-11 1h1m6 0h1m-8 1h1m10 0h1m-6 3h1" stroke="#584596" stroke-opacity="0.72"/>
<path d="M489 275h1m-3 3h1m6 0h1m-6 1h1m6 0h1m-12 1h1m3 0h1m8 0h1m1 0h1m-10 1h1m5 0h1m-13 1h1m-5 1h1m12 0h1m7 0h1m-10 1h1m1 0h1m3 2h1m2 0h1m-35 1h1m5 0h1m1 0h1m24 1h1m-27 1h1m-10 1h1m16 0h1m16 0h1m-36 1h1m6 0h1m2 0h1m1 0h1m-9 2h1m2 1h1m24 0h1m-27 1h1" stroke="#443e8f" stroke-opacity="0.55"/>
<path d="M496 275h1m-4 3h1m-1 2h1m2 1h1m1 0h1m-15 1h1m8 0h1m9 2h1m-1 1h1m-31 2h1m10 0h1m5 0h1m5 0h1m4 0h1m-22 1h1m13 0h1m3 0h1m-34 1h1m7 0h1m3 0h1m-13 1h1m5 0h1m16 0h1m7 0h1m-28 1h1m-1 1h1m18 0h1m-9 2h1m-13 1h1h1m18 0h1m-17 1h1" stroke="#443e8f" stroke-opacity="0.72"/>
<path d="M489 276h1m1 0h1m3 0h1m-7 1h1h1m1 0h1m1 0h1m4 0h1m-9 1h1h1m4 0h1m-10 1h1m-1 1h1m12 0h1m-18 1h1m15 1h1m-18 1h1m16 1h1m-20 1h1m1 0h1m2 1h1m4 0h1m5 0h1m-21 1h1m20 0h1m-34 1h1m8 2h1m-8 1h1m16 0h1m14 0h1m-34 1h1h1m11 0h1m15 0h1m-33 1h1h1m9 0h1m16 0h1m-22 1h1m3 2h1m2 0h1" stroke="#443e8f" stroke-opacity="0.40"/>
<path d="M492 276h1m5 1h1m-17 4h1m11 0h1m-9 1h1m5 0h1m6 0h1m-18 1h1m12 2h1m5 0h1m-28 1h1m3 0h1h1m1 0h1m5 0h1m-9 1h1m9 0h1m-21 1h1m3 0h1m1 0h1m-6 1h1m5 0h1m3 0h1m14 0h1m4 0h1h1m-4 1h1m-33 1h1m4 0h1m23 0h1m-33 1h1m6 1h1m2 0h1m-3 1h1m2 1h1m1 0h1m14 0h1m-10 1h1" stroke="#443e8f" stroke-opacity="0.25"/>
<path d="M488 278h1m2 1h1m1 0h1m-10 1h1m1 1h1h1m-6 1h1m8 1h1m-8 1h1m4 1h1m3 0h1m-4 1h1m1 0h1m2 0h1m-16 1h1h1h1h1m1 0h1m7 0h1m1 0h1m-17 1h1m-6 1h1m7 0h1m7 0h1m3 0h1m1 0h1m-22 1h1m-14 1h1m20 0h1m13 0h1m-25 1h1m1 0h1h1m3 0h1m17 0h1m-31 1h1m-2 1h1m6 0h1m4 0h1m8 0h1m-19 1h1m9 0h1m4 0h1m-19 1h1m1 0h1m1 0h1m9 0h1m6 0h1m4 0h1m-19 1h1m7 0h1m5 0h1" stroke="#353583" stroke-opacity="0.25"/>
<path d="M494 279h1m-10 7h1m12 3h1m-10 3h1m-10 5h1m1 0h1" stroke="#212161" stroke-opacity="0.40"/>
<path d="M486 280h1m10 0h1m-5 1h1m-5 1h1m5 0h1m2 1h1m2 0h1m-14 1h1m5 0h1m-11 1h1h1m6 0h1m3 0h1m-3 1h1m-4 1h1m2 0h1m-11 1h1m4 0h1m1 0h1m5 0h1m-26 1h1m5 0h1m2 0h1m6 0h1m-16 1h1m12 0h1m3 0h1m8 0h1m-15 2h1m-15 1h1m7 0h1m2 0h1m11 0h1h1m-28 1h1m4 0h1m1 0h1m6 0h1m-8 1h1m11 0h1m2 0h1m-3 2h1" stroke="#353583" stroke-opacity="0.40"/>
<path d="M490 280h1m-2 1h1m-7 1h1m3 0h1m3 0h1m2 0h1m2 0h1m-8 1h1m2 0h1m3 0h1m-16 1h1m6 0h1m1 0h1m4 0h1m3 3h1m-19 1h1m5 0h1m11 0h1m-17 1h1h1m11 0h1m1 0h1m-33 1h1m8 0h1m4 0h1m2 0h1m4 0h1m5 0h1m-20 1h1m1 0h1m9 0h1m-21 1h1m1 0h1m1 0h1m1 0h1m2 0h1h1m12 0h1m-3 1h1m-9 1h1m12 0h1h1m-19 1h1m9 1h1m-2 1h1m1 1h1" stroke="#353583" stroke-opacity="0.72"/>
<path d="M491 280h1h1m-5 1h1m1 0h1m4 0h1m-8 1h1m9 0h1m-15 1h1m1 0h1h1m7 0h1h1m-17 1h1m4 0h1m4 0h1m-11 1h1m7 0h1m9 0h1h1m-16 1h1m3 0h1h1m-16 2h1m15 0h1m2 0h1m-5 1h1m3 0h1m-31 1h1m6 0h1m6 0h1m4 0h1m4 0h1m4 0h1m4 0h1m-34 1h1m5 0h1m2 0h1m6 0h1m5 0h1m2 0h1m8 0h1m-17 1h1m4 0h1m9 0h1m-32 1h1m9 0h1m4 0h1m3 0h1m12 0h1m-23 1h1m-4 1h1m4 0h1m7 0h1m-12 1h1m2 2h1m6 0h1" stroke="#353583" stroke-opacity="0.55"/>
<path d="M490 282h1m-4 2h1m4 0h1m-7 1h1m-10 3h1m5 0h1m1 0h1h1m12 0h1m-14 1h1m-5 2h1m7 0h1m-7 1h1m8 0h1m-11 1h1m-6 1h1m6 0h1m4 0h1m-12 1h1m9 0h1m3 0h1m-2 1h1m-15 1h1m2 1h1" stroke="#2b2b72" stroke-opacity="0.72"/>
<path d="M489 283h1m2 0h1m-7 1h1m5 3h1m4 0h1m1 0h1m-19 1h1m13 0h1m-4 1h1m-2 1h1m-18 1h1m21 0h1m-9 2h1m3 0h1m-7 1h1m-14 2h1m6 0h1m3 0h1m4 0h1m0 1h1" stroke="#2b2b72" stroke-opacity="0.25"/>
<path d="M487 285h1m5 1h1m2 0h1m-11 1h1h1m3 2h1m-12 1h1m4 0h1m-7 1h1m1 0h1m12 0h1m-5 1h1m1 0h1m-16 1h1m9 0h1m-5 1h1h1m7 0h1h1m2 0h1m-14 2h1m2 0h1m4 0h1m2 0h1m-19 1h1h1m7 0h1m-3 2h1" stroke="#2b2b72" stroke-opacity="0.55"/>
<path d="M490 285h1h1m2 0h1m2 0h1m2 0h1m-19 1h1h1m4 1h1m-13 1h1m10 0h1m4 0h1m-14 1h1m-1 1h1m13 0h1m-9 1h1m6 0h1h1m-13 1h1m1 0h1m-9 1h1m2 0h1m5 0h1m8 0h1m-17 1h1m9 0h1m1 0h1m1 0h1m-20 1h1m8 0h1m1 0h1h1m-6 1h1m5 0h1m-7 1h1m1 0h1m0 1h1h1" stroke="#2b2b72" stroke-opacity="0.40"/>
<path d="M498 286h1m-8 5h1m-2 2h1m-4 4h1" stroke="#212161" stroke-opacity="0.55"/>
<path d="M483 289h1m-8 7h1m1 0h1" stroke="#212161" stroke-opacity="0.72"/>
<path d="M494 290h1m-8 1h1m6 1h1m1 1h1h1m-8 3h1" stroke="#212161" stroke-opacity="0.25"/>
</g>
<polygon points="498.6,273.9 502.0,272.5 507.1,270.9 512.0,270.6 511.5,271.5 506.6,272.1 502.0,273.5 499.4,274.6" fill="#f8a930" opacity="0.55"/>
<rect x="460.8" y="301.4" width="48.6" height="5.6" fill="url(#gPl)" stroke="#111" stroke-width="1"/>
<path d="M463.2 307V308.6M474.9 307V308.6M487.0 307V308.6M498.7 307V308.6" stroke="#111" stroke-width="0.8"/>
<text x="461.50" y="316.40" font-size="7.4" stroke="#111" stroke-width="0.1">0.25</text>
<text x="495.40" y="316.40" font-size="7.4" stroke="#111" stroke-width="0.1">0.40</text>
<text x="466.80" y="231.30" font-size="8.7" textLength="25.10" lengthAdjust="spacingAndGlyphs" font-style="italic" stroke="#111" stroke-width="0.1">PD-L1</text>
<text x="366.90" y="329.20" font-size="8.6" textLength="11.30" lengthAdjust="spacingAndGlyphs" stroke="#111" stroke-width="0.1">Log</text>
<text x="378.60" y="331.60" font-size="5.4" stroke="#111" stroke-width="0.1">2</text>
<text x="380.90" y="329.20" font-size="8.6" textLength="50.20" lengthAdjust="spacingAndGlyphs" stroke="#111" stroke-width="0.1">(NormCounts + 1)</text>
<text x="7.40" y="363.20" font-size="10" font-weight="bold" fill="#000">E</text>
<rect x="31.5" y="377.5" width="4.10" height="89" fill="#a6d9f1"/>
<rect x="45.4" y="377.5" width="5.60" height="89" fill="#a6d9f1"/>
<rect x="70.0" y="377.5" width="4.00" height="89" fill="#a6d9f1"/>
<rect x="80.9" y="377.5" width="3.10" height="89" fill="#a6d9f1"/>
<path d="M27.2 406.6L27.20 406.25L27.45 406.25L27.70 406.25L27.95 406.25L28.20 406.25L28.45 406.25L28.70 406.25L28.95 406.25L29.20 406.25L29.45 406.25L29.70 406.25L29.95 406.25L30.20 406.25L30.45 406.25L30.70 406.25L30.95 406.25L31.20 406.25L31.45 406.25L31.70 406.25L31.95 406.25L32.20 406.25L32.45 406.25L32.70 406.25L32.95 406.25L33.20 406.25L33.45 406.25L33.70 406.25L33.95 406.25L34.20 406.25L34.45 406.25L34.70 406.25L34.95 406.25L35.20 406.25L35.45 406.25L35.70 406.25L35.95 406.25L36.20 406.25L36.45 405.81L36.70 405.00L36.95 404.00L37.20 402.82L37.45 403.07L37.70 404.21L37.95 405.18L38.20 405.95L38.45 406.25L38.70 406.25L38.95 406.25L39.20 406.25L39.45 406.25L39.70 406.25L39.95 406.25L40.20 406.25L40.45 406.25L40.70 406.25L40.95 406.25L41.20 406.25L41.45 406.25L41.70 406.25L41.95 406.25L42.20 406.25L42.45 406.25L42.70 406.25L42.95 406.25L43.20 406.25L43.45 406.25L43.70 406.25L43.95 406.25L44.20 406.25L44.45 406.25L44.70 406.25L44.95 406.25L45.20 406.25L45.45 406.25L45.70 406.25L45.95 406.25L46.20 406.25L46.45 406.25L46.70 406.25L46.95 406.25L47.20 406.25L47.45 406.25L47.70 406.08L47.95 405.79L48.20 405.73L48.45 406.02L48.70 406.25L48.95 406.25L49.20 406.25L49.45 406.25L49.70 406.25L49.95 406.25L50.20 406.25L50.45 406.25L50.70 406.25L50.95 406.25L51.20 406.25L51.45 406.25L51.70 406.25L51.95 406.25L52.20 406.25L52.45 406.25L52.70 406.25L52.95 406.25L53.20 406.25L53.45 406.25L53.70 406.25L53.95 406.25L54.20 406.25L54.45 406.25L54.70 406.25L54.95 406.25L55.20 406.25L55.45 406.09L55.70 405.79L55.95 405.45L56.20 405.05L56.45 404.62L56.70 403.49L56.95 401.79L57.20 399.84L57.45 397.64L57.70 395.22L57.95 392.58L58.20 389.75L58.45 386.73L58.70 388.56L58.95 391.47L59.20 394.19L59.45 396.70L59.70 398.99L59.95 401.04L60.20 402.85L60.45 404.37L60.70 405.57L60.95 406.25L61.20 406.25L61.45 406.25L61.70 406.25L61.95 406.25L62.20 406.25L62.45 406.25L62.70 406.25L62.95 406.25L63.20 406.25L63.45 406.25L63.70 406.25L63.95 406.25L64.20 406.25L64.45 406.25L64.70 406.25L64.95 406.25L65.20 406.25L65.45 406.25L65.70 406.25L65.95 406.25L66.20 406.25L66.45 406.25L66.70 406.25L66.95 406.25L67.20 406.25L67.45 406.25L67.70 406.25L67.95 406.25L68.20 406.25L68.45 406.25L68.70 406.25L68.95 406.25L69.20 406.25L69.45 406.25L69.70 406.25L69.95 406.25L70.20 406.25L70.45 406.25L70.70 406.25L70.95 406.25L71.20 406.25L71.45 406.03L71.70 405.70L71.95 405.48L72.20 405.84L72.45 406.15L72.70 406.25L72.95 406.25L73.20 406.25L73.45 406.25L73.70 406.25L73.95 406.25L74.20 406.25L74.45 406.25L74.70 406.25L74.95 406.25L75.20 406.25L75.45 406.25L75.70 406.25L75.95 406.25L76.20 406.25L76.45 406.25L76.70 406.25L76.95 406.25L77.20 406.25L77.45 406.25L77.70 406.25L77.95 406.25L78.20 406.25L78.45 406.25L78.70 406.25L78.95 406.25L79.20 406.25L79.45 406.25L79.70 406.25L79.95 406.25L80.20 406.25L80.45 406.25L80.70 406.25L80.95 406.25L81.20 406.25L81.45 406.25L81.70 406.25L81.95 406.25L82.20 406.25L82.45 406.15L82.70 405.84L82.95 405.91L83.20 406.20L83.45 406.25L83.70 406.25L83.95 406.25L84.20 406.25L84.45 406.25L84.70 406.25L84.95 406.25L85.20 406.25L85.45 406.25L85.70 406.25L85.95 406.25L86.20 406.25L86.45 406.25L86.70 406.25L86.95 406.25L87.20 406.25L87.45 406.25L87.70 406.25L87.95 406.25L88.20 406.25L88.45 406.25L88.70 406.25L88.95 406.25L89.20 406.25L89.45 406.25L89.70 406.25L89.95 406.25L90 406.6Z" fill="#c81e36"/>
<path d="M27.2 436.1L27.20 435.75L27.45 435.75L27.70 435.75L27.95 435.75L28.20 435.75L28.45 435.75L28.70 435.75L28.95 435.75L29.20 435.75L29.45 435.75L29.70 435.75L29.95 435.75L30.20 435.75L30.45 435.75L30.70 435.75L30.95 435.75L31.20 435.75L31.45 435.75L31.70 435.75L31.95 435.75L32.20 435.75L32.45 435.75L32.70 435.75L32.95 435.75L33.20 435.75L33.45 435.75L33.70 435.75L33.95 435.75L34.20 435.75L34.45 435.75L34.70 435.75L34.95 435.75L35.20 435.75L35.45 435.75L35.70 435.75L35.95 435.75L36.20 435.75L36.45 435.75L36.70 434.76L36.95 432.55L37.20 429.64L37.45 430.27L37.70 433.05L37.95 435.10L38.20 435.75L38.45 435.75L38.70 435.75L38.95 435.75L39.20 435.75L39.45 435.75L39.70 435.75L39.95 435.75L40.20 435.75L40.45 435.75L40.70 435.75L40.95 435.75L41.20 435.75L41.45 435.75L41.70 435.75L41.95 435.75L42.20 435.75L42.45 435.75L42.70 435.75L42.95 435.75L43.20 435.75L43.45 435.75L43.70 435.75L43.95 435.75L44.20 435.75L44.45 435.75L44.70 435.75L44.95 435.75L45.20 435.75L45.45 435.75L45.70 435.75L45.95 435.75L46.20 435.75L46.45 435.75L46.70 435.75L46.95 435.75L47.20 435.75L47.45 435.75L47.70 435.75L47.95 435.75L48.20 435.75L48.45 435.75L48.70 435.75L48.95 435.75L49.20 435.75L49.45 435.75L49.70 435.75L49.95 435.75L50.20 435.75L50.45 435.75L50.70 435.75L50.95 435.75L51.20 435.75L51.45 435.75L51.70 435.75L51.95 435.75L52.20 435.75L52.45 435.75L52.70 435.75L52.95 435.75L53.20 435.75L53.45 435.75L53.70 435.75L53.95 435.75L54.20 435.75L54.45 435.75L54.70 435.75L54.95 435.70L55.20 435.52L55.45 435.31L55.70 435.08L55.95 434.83L56.20 434.56L56.45 434.27L56.70 433.97L56.95 433.00L57.20 430.45L57.45 427.37L57.70 423.82L57.95 419.83L58.20 415.43L58.45 410.64L58.70 409.64L58.95 414.50L59.20 418.98L59.45 423.05L59.70 426.70L59.95 429.88L60.20 432.54L60.45 434.60L60.70 435.44L60.95 435.60L61.20 435.45L61.45 435.29L61.70 435.12L61.95 434.94L62.20 435.05L62.45 435.23L62.70 435.39L62.95 435.54L63.20 435.68L63.45 435.75L63.70 435.75L63.95 435.75L64.20 435.75L64.45 435.75L64.70 435.75L64.95 435.75L65.20 435.75L65.45 435.75L65.70 435.75L65.95 435.75L66.20 435.75L66.45 435.75L66.70 435.75L66.95 435.75L67.20 435.75L67.45 435.75L67.70 435.75L67.95 435.75L68.20 435.75L68.45 435.75L68.70 435.75L68.95 435.75L69.20 435.75L69.45 435.75L69.70 435.75L69.95 435.75L70.20 435.75L70.45 435.75L70.70 435.75L70.95 435.75L71.20 435.75L71.45 435.75L71.70 435.75L71.95 435.75L72.20 435.75L72.45 435.75L72.70 435.75L72.95 435.75L73.20 435.75L73.45 435.75L73.70 435.75L73.95 435.75L74.20 435.75L74.45 435.75L74.70 435.75L74.95 435.75L75.20 435.75L75.45 435.75L75.70 435.75L75.95 435.75L76.20 435.75L76.45 435.75L76.70 435.75L76.95 435.75L77.20 435.75L77.45 435.75L77.70 435.75L77.95 435.75L78.20 435.75L78.45 435.75L78.70 435.75L78.95 435.75L79.20 435.75L79.45 435.75L79.70 435.75L79.95 435.75L80.20 435.75L80.45 435.75L80.70 435.75L80.95 435.75L81.20 435.75L81.45 435.75L81.70 435.75L81.95 435.75L82.20 435.75L82.45 435.75L82.70 435.75L82.95 435.75L83.20 435.75L83.45 435.75L83.70 435.75L83.95 435.75L84.20 435.75L84.45 435.75L84.70 435.75L84.95 435.75L85.20 435.75L85.45 435.75L85.70 435.75L85.95 435.75L86.20 435.75L86.45 435.75L86.70 435.75L86.95 435.75L87.20 435.75L87.45 435.75L87.70 435.75L87.95 435.75L88.20 435.75L88.45 435.75L88.70 435.75L88.95 435.75L89.20 435.75L89.45 435.75L89.70 435.75L89.95 435.75L90 436.1Z" fill="#1b3c80"/>
<path d="M27.2 466.1L27.20 465.75L27.45 465.75L27.70 465.75L27.95 465.75L28.20 465.75L28.45 465.75L28.70 465.75L28.95 465.75L29.20 465.75L29.45 465.75L29.70 465.75L29.95 465.75L30.20 465.75L30.45 465.75L30.70 465.75L30.95 465.75L31.20 465.75L31.45 465.75L31.70 465.75L31.95 465.75L32.20 465.46L32.45 464.41L32.70 463.02L32.95 461.33L33.20 460.97L33.45 462.70L33.70 464.15L33.95 465.28L34.20 465.75L34.45 465.75L34.70 465.75L34.95 465.75L35.20 465.75L35.45 465.75L35.70 465.75L35.95 465.75L36.20 465.75L36.45 465.71L36.70 464.22L36.95 462.01L37.20 459.22L37.45 455.92L37.70 457.96L37.95 460.96L38.20 463.41L38.45 465.21L38.70 465.75L38.95 465.75L39.20 465.75L39.45 465.75L39.70 465.75L39.95 465.75L40.20 465.75L40.45 465.75L40.70 465.75L40.95 465.75L41.20 465.75L41.45 465.75L41.70 465.75L41.95 465.75L42.20 465.75L42.45 465.75L42.70 465.75L42.95 465.75L43.20 465.75L43.45 465.75L43.70 465.75L43.95 465.75L44.20 465.75L44.45 465.75L44.70 465.75L44.95 465.75L45.20 465.75L45.45 465.75L45.70 465.75L45.95 465.75L46.20 465.75L46.45 465.75L46.70 465.75L46.95 465.75L47.20 465.75L47.45 465.75L47.70 465.55L47.95 464.98L48.20 464.27L48.45 463.44L48.70 462.50L48.95 463.08L49.20 463.95L49.45 464.71L49.70 465.34L49.95 465.75L50.20 465.75L50.45 465.75L50.70 465.75L50.95 465.75L51.20 465.75L51.45 465.75L51.70 465.75L51.95 465.75L52.20 465.75L52.45 465.75L52.70 465.75L52.95 465.75L53.20 465.75L53.45 465.75L53.70 465.75L53.95 465.75L54.20 465.75L54.45 465.75L54.70 465.75L54.95 465.75L55.20 465.75L55.45 465.39L55.70 464.81L55.95 464.10L56.20 463.29L56.45 462.37L56.70 461.37L56.95 460.27L57.20 459.09L57.45 459.34L57.70 457.69L57.95 453.10L58.20 447.81L58.45 441.86L58.70 445.51L58.95 451.07L59.20 455.94L59.45 460.07L59.70 463.33L59.95 463.18L60.20 463.41L60.45 463.79L60.70 464.14L60.95 464.47L61.20 464.78L61.45 465.06L61.70 465.31L61.95 465.54L62.20 465.74L62.45 465.75L62.70 465.75L62.95 465.75L63.20 465.75L63.45 464.82L63.70 463.50L63.95 461.86L64.20 462.88L64.45 464.33L64.70 465.43L64.95 465.75L65.20 465.75L65.45 465.75L65.70 465.45L65.95 464.69L66.20 463.73L66.45 463.94L66.70 464.86L66.95 465.58L67.20 465.75L67.45 465.75L67.70 465.75L67.95 465.75L68.20 465.75L68.45 465.75L68.70 465.75L68.95 465.75L69.20 465.75L69.45 465.75L69.70 465.75L69.95 465.75L70.20 465.75L70.45 465.75L70.70 465.75L70.95 465.75L71.20 465.35L71.45 463.35L71.70 460.53L71.95 457.02L72.20 452.90L72.45 453.77L72.70 457.77L72.95 461.15L73.20 463.82L73.45 465.63L73.70 465.75L73.95 465.75L74.20 465.75L74.45 465.75L74.70 465.75L74.95 465.75L75.20 465.75L75.45 465.75L75.70 465.75L75.95 465.75L76.20 465.75L76.45 465.75L76.70 465.75L76.95 465.75L77.20 465.75L77.45 465.75L77.70 465.75L77.95 465.75L78.20 465.75L78.45 465.75L78.70 465.75L78.95 465.75L79.20 465.75L79.45 465.75L79.70 465.75L79.95 465.75L80.20 465.75L80.45 465.75L80.70 465.75L80.95 465.75L81.20 465.75L81.45 465.75L81.70 465.75L81.95 465.75L82.20 464.46L82.45 462.54L82.70 460.10L82.95 460.63L83.20 462.96L83.45 464.78L83.70 465.75L83.95 465.75L84.20 465.75L84.45 465.75L84.70 465.75L84.95 465.75L85.20 465.75L85.45 465.75L85.70 465.75L85.95 465.75L86.20 465.75L86.45 465.75L86.70 465.75L86.95 465.75L87.20 465.75L87.45 465.75L87.70 465.75L87.95 465.75L88.20 465.75L88.45 465.75L88.70 465.75L88.95 465.75L89.20 465.75L89.45 465.75L89.70 465.75L89.95 465.75L90 466.1Z" fill="#3aaa3a"/>
<path d="M26.6 377.3H127.6V466.6H26.6ZM26.6 407.1H127.6M26.6 436.8H127.6" fill="none" stroke="#111" stroke-width="1.1"/>
<text x="23.80" y="381.60" font-size="7.4" text-anchor="end" stroke="#111" stroke-width="0.1">100</text>
<text x="23.80" y="410.40" font-size="7.4" text-anchor="end" stroke="#111" stroke-width="0.1">0</text>
<path d="M100 375.6H127.4" stroke="#111" stroke-width="1.1"/>
<text x="108.00" y="373.00" font-size="6.8" textLength="15.70" lengthAdjust="spacingAndGlyphs" stroke="#111" stroke-width="0.1">10kb</text>
<text x="132.50" y="396.60" font-size="6.8" stroke="#111" stroke-width="0.1">Ery</text>
<text x="132.50" y="426.80" font-size="6.8" stroke="#111" stroke-width="0.1">Pro</text>
<text x="132.50" y="457.30" font-size="6.8" stroke="#111" stroke-width="0.1">Mega</text>
<text x="132.50" y="484.10" font-size="6.8" stroke="#111" stroke-width="0.1">Peaks</text>
<rect x="26.6" y="476.7" width="101" height="14.3" fill="none" stroke="#111" stroke-width="1.1"/>
<path d="M33.75 478.8V488.5M37.5 478.8V488.5M49.4 478.8V488.5M57.1 478.8V488.5M58.7 478.8V488.5M62.4 478.8V488.5M64.0 478.8V488.5M65.5 478.8V488.5M67.0 478.8V488.5M72.75 478.8V488.5M83.75 478.8V488.5" stroke="#52246e" stroke-width="0.9"/>
<path d="M49.7 502.6H105" stroke="#c0213a" stroke-width="3.2"/>
<path d="M49.7 499.5h1.4v6.2h-1.4ZM97.7 499.5H105v6.2h-7.3Z" fill="#c0213a"/>
<path d="M65.7 499.8V505.4M68.2 499.8V505.4M84.2 499.8V505.4M91.5 499.8V505.4M93.8 499.8V505.4" stroke="#c0213a" stroke-width="0.9"/>
<rect x="38.6" y="508.3" width="20.2" height="8.2" rx="2.2" fill="#ececec" stroke="#d04050" stroke-width="0.8"/>
<text x="40.00" y="515.00" font-size="6.9" textLength="17.60" lengthAdjust="spacingAndGlyphs" stroke="#111" stroke-width="0.1">PD-L1</text>
<text x="159.80" y="363.70" font-size="10" font-weight="bold" fill="#000">F</text>
<path d="M200.3 403.1V476.2H253.6M198.2 472.90H200.3M198.2 458.50H200.3M198.2 444.10H200.3M198.2 429.70H200.3M198.2 415.30H200.3M209.5 476.2V478.3M226.8 476.2V478.3M244.1 476.2V478.3" stroke="#111" stroke-width="1" fill="none"/>
<text x="195.60" y="475.50" font-size="7.3" text-anchor="end" stroke="#111" stroke-width="0.1">0</text>
<text x="195.60" y="461.10" font-size="7.3" text-anchor="end" stroke="#111" stroke-width="0.1">0.05</text>
<text x="195.60" y="446.70" font-size="7.3" text-anchor="end" stroke="#111" stroke-width="0.1">0.10</text>
<text x="195.60" y="432.30" font-size="7.3" text-anchor="end" stroke="#111" stroke-width="0.1">0.15</text>
<text x="195.60" y="417.90" font-size="7.3" text-anchor="end" stroke="#111" stroke-width="0.1">0.20</text>
<text x="176.40" y="477.70" font-size="8.3" textLength="79.20" lengthAdjust="spacingAndGlyphs" transform="rotate(-90 176.40 477.70)" stroke="#111" stroke-width="0.32">Integrated scRNA-seq PD-L1</text>
<path d="M209.1 385.8V382.4H244.1V385.8M226.8 400.3V396.9H244.1V400.3" stroke="#111" stroke-width="1" fill="none"/>
<text x="216.00" y="379.60" font-size="6.6" textLength="22.30" lengthAdjust="spacingAndGlyphs" stroke="#111" stroke-width="0.1">&lt;0.001</text>
<text x="225.70" y="394.60" font-size="6.6" textLength="21.90" lengthAdjust="spacingAndGlyphs" stroke="#111" stroke-width="0.1">&lt;0.001</text>
<path d="M209.5 411.2V472.4" stroke="#d8303a" stroke-width="1"/>
<rect x="204.5" y="468.2" width="12" height="4.0" fill="none" stroke="#d8303a" stroke-width="1.1"/>
<path d="M204.5 470.0H216.5" stroke="#d8303a" stroke-width="0.9"/>
<circle cx="209.6" cy="472.4" r="1.5" fill="#d8303a"/>
<path d="M226.8 447.6V472.6" stroke="#2e2f7a" stroke-width="1"/>
<rect x="220.4" y="471.4" width="13.8" height="1.6" fill="#2e2f7a"/>
<path d="M227.8 470.5l-1 1.5h2Z" fill="#2e2f7a"/>
<path d="M244.1 409.5V474.4" stroke="#1e9a55" stroke-width="1"/>
<rect x="238.3" y="448.0" width="12" height="25.4" fill="none" stroke="#1e9a55" stroke-width="1"/>
<path d="M238.3 469.9H250.3M238.3 471.3H250.3" stroke="#1e9a55" stroke-width="0.8"/>
<text x="212.00" y="480.00" font-size="8.4" text-anchor="end" textLength="12.30" lengthAdjust="spacingAndGlyphs" transform="rotate(-90 212.00 480.00)" stroke="#111" stroke-width="0.1">Ery</text>
<text x="227.50" y="480.00" font-size="8.4" text-anchor="end" textLength="13.10" lengthAdjust="spacingAndGlyphs" transform="rotate(-90 227.50 480.00)" stroke="#111" stroke-width="0.1">Pro</text>
<text x="246.60" y="480.00" font-size="8.4" text-anchor="end" textLength="21.00" lengthAdjust="spacingAndGlyphs" transform="rotate(-90 246.60 480.00)" stroke="#111" stroke-width="0.1">Mega</text>
<text x="268.00" y="363.70" font-size="10" font-weight="bold" fill="#000">G</text>
<path d="M309.4 493.8 L311.0 485.0 L312.5 475.0 L314.2 465.8 L315.8 463.1 L317.4 464.2 L320.1 461.5 L322.0 458.1 L323.9 455.1 L326.6 452.9 L328.2 450.4 L329.8 448.6 L331.4 445.8 L333.0 443.2 L335.2 440.0 L337.3 432.3 L339.6 426.5 L341.9 421.9 L344.2 416.1 L346.5 410.4 L349.4 406.9 L351.1 405.8 L352.3 403.5 L353.8 398.1 L356.1 394.6 L357.3 387.7 L358.5 387.1 L360.8 388.3 L362.5 389.4 L363.6 394.6 L364.8 390.0 L366.0 388.8 L367.1 392.3 L368.3 399.2 L369.8 403.1 L371.3 407.5 L373.4 415.0 L376.3 425.0 L378.8 435.0 L381.3 445.0 L383.8 455.0 L386.3 465.0 L388.0 469.7 L389.6 474.9 L391.3 480.0 L393.0 483.3 L394.6 486.1 L396.3 488.8 L398.1 490.6 L400.0 492.5 L402.0 493.1 L404.0 493.8 Z" fill="#ddd9ec"/>
<path d="M310.5 493.8 L312.0 485.3 L313.5 476.0 L316.3 454.4 L318.0 446.4 L319.8 444.8 L321.5 444.0 L323.2 441.8 L325.0 439.4 L326.7 436.7 L328.4 434.8 L331.3 429.0 L334.2 422.1 L335.9 417.6 L337.6 414.1 L339.4 410.6 L341.1 408.3 L343.0 401.0 L344.5 394.0 L346.5 390.0 L348.5 401.0 L350.5 398.0 L352.5 392.0 L354.5 399.0 L356.5 406.0 L358.5 411.0 L360.5 418.0 L362.0 422.0 L363.5 427.0 L365.0 433.2 L366.5 438.0 L368.0 445.0 L369.5 451.0 L371.0 457.5 L372.5 463.0 L374.0 469.0 L375.5 474.0 L377.5 479.5 L379.5 486.0 L381.2 489.0 L382.8 492.7 L384.5 496.0 L386.2 495.3 L387.8 494.5 L389.5 493.8" fill="none" stroke="#d2d2d2" stroke-width="0.8"/>
<path d="M309.5 493.8 L311.0 483.4 L312.5 472.5 L315.3 450.9 L317.0 442.9 L318.8 442.1 L320.5 440.5 L322.2 438.8 L324.0 435.9 L325.7 434.2 L327.4 431.3 L330.3 425.5 L333.2 418.6 L334.9 413.9 L336.6 410.6 L338.4 407.9 L340.1 404.8 L342.0 397.5 L343.5 390.5 L345.5 386.5 L347.5 397.5 L349.5 394.5 L351.5 388.5 L353.5 395.5 L355.5 402.5 L357.5 407.5 L359.5 414.5 L361.0 419.3 L362.5 423.5 L364.0 429.0 L365.5 434.5 L367.0 440.5 L368.5 447.5 L370.0 453.5 L371.5 459.5 L373.0 464.3 L374.5 470.5 L376.5 477.2 L378.5 482.5 L380.2 486.4 L381.8 489.2 L383.5 492.5 L385.2 492.9 L386.8 493.4 L388.5 493.8" fill="none" stroke="#9a9a9a" stroke-width="0.8"/>
<path d="M309.0 493.8 L310.5 481.7 L312.0 470.0 L314.8 448.4 L316.5 440.4 L318.2 439.7 L320.0 438.0 L321.8 435.8 L323.5 433.4 L325.2 431.6 L326.9 428.8 L329.8 423.0 L332.7 416.1 L334.4 412.5 L336.1 408.1 L337.9 405.2 L339.6 402.3 L341.5 395.0 L343.0 388.0 L345.0 384.0 L347.0 395.0 L349.0 392.0 L351.0 386.0 L353.0 393.0 L355.0 400.0 L357.0 405.0 L359.0 412.0 L360.5 416.4 L362.0 421.0 L363.5 426.6 L365.0 432.0 L366.5 438.4 L368.0 445.0 L369.5 450.6 L371.0 457.0 L372.5 462.3 L374.0 468.0 L376.0 474.4 L378.0 480.0 L379.7 482.8 L381.3 486.1 L383.0 490.0 L384.7 491.3 L386.3 492.5 L388.0 493.8" fill="none" stroke="#707070" stroke-width="0.8"/>
<path d="M309.0 493.8 L311.5 475.0 L314.2 450.7 L316.5 447.3 L318.8 448.4 L320.6 445.1 L322.3 441.5 L324.1 438.9 L325.8 436.9 L327.5 434.0 L329.2 431.1 L330.9 427.6 L332.7 424.2 L335.6 418.5 L338.4 411.5 L340.8 406.9 L342.4 402.3 L344.0 398.0 L346.0 395.6 L348.0 392.0 L350.0 388.0 L352.0 387.0 L354.0 395.0 L356.0 398.0 L358.0 400.0 L360.0 402.0 L362.5 412.0 L364.0 418.1 L365.5 425.0 L367.0 430.4 L368.5 436.0 L371.3 447.5 L373.0 453.0 L374.6 459.3 L376.3 465.0 L377.9 469.1 L379.4 473.6 L380.9 478.4 L382.5 482.5 L384.2 485.2 L385.8 488.4 L387.5 491.3 L390.0 493.8" fill="none" stroke="#5ab8dc" stroke-width="0.9"/>
<path d="M308.8 493.8 L311.0 475.0 L313.1 460.0 L314.8 439.2 L316.5 426.5 L318.3 426.0 L320.0 431.1 L322.3 425.4 L324.1 424.1 L325.8 421.9 L327.5 419.1 L329.2 417.3 L330.9 414.5 L332.7 412.7 L335.0 409.2 L337.3 404.6 L338.5 396.0 L339.6 394.0 L340.8 397.7 L342.0 405.0 L344.0 408.0 L346.0 400.0 L348.0 393.0 L350.0 388.0 L351.0 395.0 L352.0 405.0 L353.0 410.0 L354.0 400.0 L355.0 393.0 L356.0 392.0 L357.0 397.5 L358.5 405.9 L360.0 415.0 L361.5 421.2 L363.0 426.8 L364.5 432.5 L366.6 439.7 L368.8 447.5 L370.6 454.8 L372.5 462.5 L374.2 467.1 L375.8 472.5 L377.5 477.5 L379.1 480.1 L380.6 484.0 L382.2 487.4 L383.8 490.0 L385.6 491.9 L387.5 493.8" fill="none" stroke="#48aa48" stroke-width="0.9"/>
<path d="M309.4 493.8 L311.0 485.0 L312.5 475.0 L314.2 465.8 L315.8 463.1 L317.4 464.2 L320.1 461.5 L322.0 458.1 L323.9 455.1 L326.6 452.9 L328.2 450.4 L329.8 448.6 L331.4 445.8 L333.0 443.2 L335.2 440.0 L337.3 432.3 L339.6 426.5 L341.9 421.9 L344.2 416.1 L346.5 410.4 L349.4 406.9 L351.1 405.8 L352.3 403.5 L353.8 398.1 L356.1 394.6 L357.3 387.7 L358.5 387.1 L360.8 388.3 L362.5 389.4 L363.6 394.6 L364.8 390.0 L366.0 388.8 L367.1 392.3 L368.3 399.2 L369.8 403.1 L371.3 407.5 L373.4 415.0 L376.3 425.0 L378.8 435.0 L381.3 445.0 L383.8 455.0 L386.3 465.0 L388.0 469.7 L389.6 474.9 L391.3 480.0 L393.0 483.3 L394.6 486.1 L396.3 488.8 L398.1 490.6 L400.0 492.5 L402.0 493.1 L404.0 493.8" fill="none" stroke="#2c3f9c" stroke-width="0.9"/>
<rect x="306.6" y="370.9" width="119.5" height="123.4" fill="none" stroke="#111" stroke-width="1.3"/>
<path d="M333.3 405.2V379.2H362.1" stroke="#111" stroke-width="0.9" fill="none"/>
<path d="M362.1 379.2V386" stroke="#555" stroke-width="1.2" fill="none"/>
<text x="341.00" y="377.70" font-size="6.2" textLength="17.00" lengthAdjust="spacingAndGlyphs" stroke="#111" stroke-width="0.1">0.003</text>
<ellipse cx="335.2" cy="413.3" rx="6.8" ry="7.4" fill="none" stroke="#111" stroke-width="1"/>
<path d="M303.6 487.30H306M303.6 471.60H306M303.6 451.30H306M303.6 430.10H306M303.6 408.20H306M303.6 386.60H306M304.8 483.38H306M304.8 479.45H306M304.8 475.53H306M304.8 466.53H306M304.8 461.45H306M304.8 456.38H306M304.8 446.00H306M304.8 440.70H306M304.8 435.40H306M304.8 424.62H306M304.8 419.15H306M304.8 413.68H306M304.8 402.80H306M304.8 397.40H306M304.8 392.00H306" stroke="#111" stroke-width="0.7"/>
<text x="302.60" y="489.80" font-size="7.0" text-anchor="end" stroke="#111" stroke-width="0.1">0</text>
<text x="302.60" y="474.10" font-size="7.0" text-anchor="end" stroke="#111" stroke-width="0.1">20</text>
<text x="302.60" y="453.80" font-size="7.0" text-anchor="end" stroke="#111" stroke-width="0.1">40</text>
<text x="302.60" y="432.60" font-size="7.0" text-anchor="end" stroke="#111" stroke-width="0.1">60</text>
<text x="302.60" y="410.70" font-size="7.0" text-anchor="end" stroke="#111" stroke-width="0.1">80</text>
<text x="302.60" y="389.10" font-size="7.0" text-anchor="end" stroke="#111" stroke-width="0.1">100</text>
<text x="290.50" y="459.10" font-size="8.4" textLength="55.50" lengthAdjust="spacingAndGlyphs" transform="rotate(-90 290.50 459.10)" stroke="#111" stroke-width="0.32">Normalized to mode</text>
<path d="M309.3 494.3V497M385.8 494.3V497M425.8 494.3V497M397.8 494.3V496M404.9 494.3V496M409.9 494.3V496M413.8 494.3V496M416.9 494.3V496M419.6 494.3V496M421.9 494.3V496M424.0 494.3V496" stroke="#111" stroke-width="0.7"/>
<text x="307.80" y="504.00" font-size="7.0" stroke="#111" stroke-width="0.1">0</text>
<text x="380.80" y="504.00" font-size="7.0" stroke="#111" stroke-width="0.1">10</text>
<text x="388.60" y="500.60" font-size="4.6" stroke="#111" stroke-width="0.1">1</text>
<text x="420.30" y="504.00" font-size="7.0" stroke="#111" stroke-width="0.1">10</text>
<text x="428.10" y="500.60" font-size="4.6" stroke="#111" stroke-width="0.1">2</text>
<text x="343.30" y="514.20" font-size="7.6" textLength="49.00" lengthAdjust="spacingAndGlyphs" stroke="#111" stroke-width="0.1">Nd 148Di :: PD-L1</text>
<text x="430.90" y="428.00" font-size="7.0" textLength="27.10" lengthAdjust="spacingAndGlyphs" stroke="#111" stroke-width="0.1">Timepoint</text>
<path d="M430.7 438.4H439.8" stroke="#2c3f9c" stroke-width="1.9"/>
<text x="442.00" y="440.80" font-size="7.0" textLength="24.40" lengthAdjust="spacingAndGlyphs" stroke="#111" stroke-width="0.1">Baseline</text>
<path d="M430.7 447.0H439.8" stroke="#5ab8dc" stroke-width="1.9"/>
<text x="442.00" y="449.40" font-size="7.0" textLength="16.70" lengthAdjust="spacingAndGlyphs" stroke="#111" stroke-width="0.1">C2D1</text>
<path d="M430.7 455.4H439.8" stroke="#40a840" stroke-width="1.9"/>
<text x="442.00" y="457.80" font-size="7.0" textLength="16.70" lengthAdjust="spacingAndGlyphs" stroke="#111" stroke-width="0.1">C4D1</text>
<path d="M430.7 464.3H439.8" stroke="#cfcfcf" stroke-width="1.9"/>
<text x="440.80" y="466.70" font-size="7.0" textLength="23.20" lengthAdjust="spacingAndGlyphs" stroke="#111" stroke-width="0.1">Relapse</text>
<path d="M430.7 473.2H439.8" stroke="#8c8c8c" stroke-width="1.9"/>
<text x="442.00" y="475.60" font-size="7.0" textLength="16.70" lengthAdjust="spacingAndGlyphs" stroke="#111" stroke-width="0.1">C6D1</text>
<path d="M430.7 481.3H439.8" stroke="#6a6a6a" stroke-width="1.9"/>
<text x="442.00" y="483.70" font-size="7.0" textLength="33.70" lengthAdjust="spacingAndGlyphs" stroke="#111" stroke-width="0.1">Progression</text>
<rect x="0" y="0" width="520" height="521" fill="none" stroke="#000" stroke-width="2.4"/>
</svg>
</body></html>
